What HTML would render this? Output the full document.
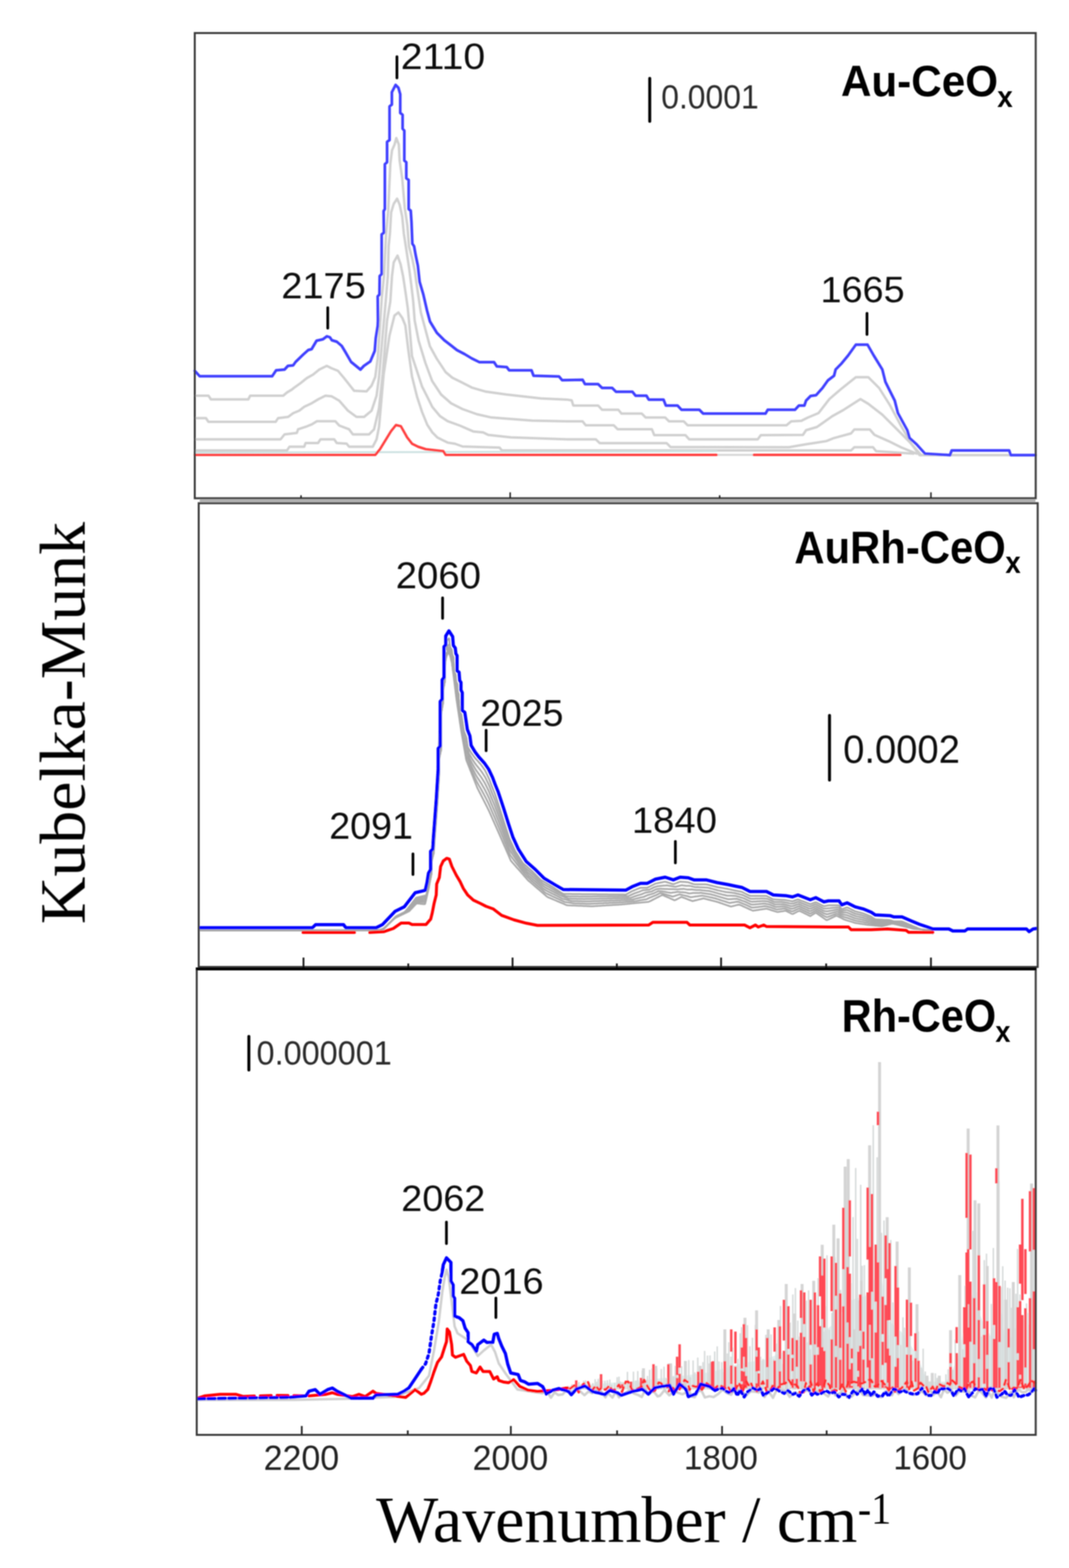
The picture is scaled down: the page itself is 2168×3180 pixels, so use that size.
<!DOCTYPE html>
<html><head><meta charset="utf-8"><title>Kubelka-Munk spectra</title>
<style>html,body{margin:0;padding:0;background:#fff}svg{display:block}</style></head>
<body><svg width="2168" height="3180" viewBox="0 0 2168 3180">
<defs><filter id="soft" x="0" y="0" width="100%" height="100%" filterUnits="userSpaceOnUse"><feGaussianBlur stdDeviation="0.8"/></filter></defs>
<rect width="2168" height="3180" fill="#fff"/>
<g filter="url(#soft)">
<polyline points="395.0,802.5 422.8,802.5 427.8,810.0 503.6,810.0 507.4,802.5 574.3,802.5 582.0,796.0 592.0,790.0 597.0,786.0 609.6,777.0 622.0,767.0 635.0,759.6 647.5,749.5 662.7,742.0 672.8,747.0 685.4,752.0 698.0,767.0 718.0,792.4 743.5,793.7 753.6,782.0 761.0,764.6 766.0,726.8 774.4,602.7 778.7,559.7 783.0,473.6 787.3,427.0 791.6,332.6 795.0,305.0 800.2,293.0 803.7,280.0 808.8,293.0 810.5,325.7 815.7,361.8 820.9,422.0 826.0,456.5 829.5,499.5 836.3,525.3 841.5,551.0 845.0,577.0 853.6,634.0 862.7,668.0 871.8,702.0 885.5,727.0 903.6,754.5 917.3,766.0 935.5,775.0 958.0,786.4 985.5,794.3 1026.4,800.0 1096.8,808.0 1150.0,810.4 1159.5,812.0 1162.6,822.4 1213.0,822.4 1221.0,831.0 1254.0,831.0 1260.5,838.8 1301.5,838.8 1309.4,846.7 1349.0,846.7 1356.8,854.6 1386.7,854.6 1394.6,862.5 1595.0,862.5 1604.5,854.6 1625.0,853.6 1638.0,847.0 1660.0,837.8 1682.0,809.4 1704.0,790.4 1735.7,765.0 1761.0,765.0 1783.0,787.0 1805.0,822.0 1827.0,863.0 1849.0,901.0 1865.0,923.0 2100.0,923.0" fill="none" stroke="#d0d0d0" stroke-width="5" stroke-linejoin="round" stroke-linecap="round"/>
<polyline points="395.0,848.0 417.7,848.0 422.8,855.6 559.0,855.6 564.0,848.0 584.4,845.5 594.5,838.0 607.0,832.8 617.0,825.0 632.4,817.7 645.0,810.0 660.0,802.5 672.8,803.8 688.0,812.6 705.6,832.8 723.0,845.5 738.4,845.5 753.6,832.8 763.7,802.5 768.7,764.6 776.0,680.0 783.0,602.7 786.5,559.7 788.2,499.5 790.8,473.6 793.3,430.6 798.5,413.4 805.4,403.0 810.5,415.0 815.7,439.0 819.0,473.6 824.3,508.0 829.5,542.5 834.0,577.0 838.0,611.0 841.0,650.0 849.0,691.0 862.7,736.0 876.4,772.7 894.5,800.0 915.0,818.0 937.7,829.5 967.0,840.0 995.0,846.4 1079.0,853.0 1150.0,854.6 1181.6,854.6 1187.9,862.5 1244.7,862.5 1252.6,870.4 1322.0,870.4 1326.8,882.4 1390.0,882.4 1397.8,891.0 1536.7,891.0 1543.0,882.4 1628.4,882.0 1634.7,872.5 1656.8,866.0 1688.0,844.0 1710.5,831.5 1745.0,809.4 1761.0,819.0 1789.4,841.0 1821.0,872.5 1846.0,897.8 1868.0,923.0" fill="none" stroke="#d0d0d0" stroke-width="5" stroke-linejoin="round" stroke-linecap="round"/>
<polyline points="395.0,891.0 569.0,891.0 577.0,881.0 602.0,878.0 604.6,870.7 619.7,865.7 632.4,860.6 642.5,854.3 680.0,854.3 688.0,863.0 708.0,870.7 715.7,881.0 748.5,881.0 758.6,870.7 768.7,827.8 776.0,760.0 785.0,650.0 791.6,611.3 795.0,559.7 798.5,532.0 806.2,518.4 812.3,535.6 817.4,559.7 822.6,594.0 827.0,625.0 830.3,660.0 835.5,722.0 845.8,753.0 856.0,784.0 866.5,804.6 876.8,825.3 892.3,843.9 907.8,854.2 933.6,863.5 959.5,874.9 980.0,877.0 990.0,882.0 1036.0,887.0 1150.0,891.0 1208.4,891.0 1216.3,898.8 1352.0,898.8 1360.0,906.7 1600.0,907.0 1634.7,901.0 1675.8,894.6 1691.5,888.3 1726.0,879.0 1732.6,871.0 1764.0,871.0 1773.6,882.0 1802.0,894.6 1827.0,907.0 1858.8,920.0" fill="none" stroke="#d0d0d0" stroke-width="5" stroke-linejoin="round" stroke-linecap="round"/>
<polyline points="395.0,913.6 582.0,913.6 587.0,906.0 617.0,906.0 619.7,898.5 645.0,898.5 650.0,891.0 677.8,891.0 683.0,898.5 703.0,899.7 708.0,906.0 756.0,906.0 763.7,891.0 768.7,865.7 778.0,760.0 790.0,680.0 800.0,640.0 808.0,633.6 816.0,645.0 822.0,660.0 828.3,711.6 835.5,763.3 845.8,804.6 856.0,835.6 866.5,861.4 876.8,877.0 887.0,887.3 907.8,897.6 923.0,900.0 938.0,905.5 1013.0,907.7 1017.7,913.4 1160.0,913.5 1726.0,913.5 1732.6,907.0 1770.5,907.0 1776.8,915.0 1852.5,920.0" fill="none" stroke="#d0d0d0" stroke-width="5" stroke-linejoin="round" stroke-linecap="round"/>
<polyline points="395.0,918.0 1160.0,916.0 1453.0,915.0" fill="none" stroke="#cfe3e3" stroke-width="4" stroke-linejoin="round" stroke-linecap="round"/>
<polyline points="1453.0,922.5 1529.0,922.5" fill="none" stroke="#d6d6d6" stroke-width="4" stroke-linejoin="round" stroke-linecap="round"/>
<polyline points="395.0,922.5 761.0,922.5 770.0,912.0 793.0,874.5 803.0,862.0 813.0,864.4 825.7,887.0 835.8,900.0 848.0,906.0 863.5,911.0 899.0,915.0 904.0,922.5 1453.0,922.5" fill="none" stroke="#ff4040" stroke-width="5" stroke-linejoin="round" stroke-linecap="round"/>
<polyline points="1529.0,922.5 1826.0,922.5" fill="none" stroke="#ff4040" stroke-width="5" stroke-linejoin="round" stroke-linecap="round"/>
<polyline points="395.0,752.0 405.0,763.0 552.0,763.0 560.0,751.0 577.0,749.5 584.0,742.0 594.5,741.0 599.5,734.0 615.0,719.0 625.0,710.0 632.0,708.0 642.0,691.0 655.0,688.0 663.0,682.0 669.0,684.0 673.0,690.0 683.0,693.0 693.0,701.5 700.5,714.0 712.0,734.0 731.0,749.5 738.0,742.0 751.0,733.0 760.0,711.6 762.0,686.0 766.0,661.0 766.5,650.0 766.0,601.0 769.5,597.5 770.0,559.7 774.0,556.0 774.0,475.4 778.5,472.0 778.0,428.0 780.5,424.0 780.5,333.0 785.0,329.0 785.0,287.7 790.0,284.0 790.0,215.8 794.7,212.0 794.7,187.0 802.3,172.2 808.0,178.0 811.7,191.0 811.7,229.0 816.5,232.8 816.5,261.0 820.0,265.0 820.0,325.6 824.0,329.0 824.0,361.6 828.8,365.0 828.8,424.0 833.0,427.2 834.6,451.3 836.3,494.3 839.8,499.5 843.2,518.4 847.5,539.0 851.0,571.5 858.5,597.0 866.0,629.6 872.0,652.0 886.0,675.0 901.0,690.0 914.0,700.0 926.7,710.0 942.0,718.0 957.0,727.0 972.0,734.4 1002.0,734.4 1007.5,743.0 1027.7,744.5 1032.7,751.0 1078.0,751.0 1082.0,762.0 1133.7,763.4 1140.0,771.0 1181.6,770.3 1186.3,779.0 1213.0,779.0 1221.0,786.8 1241.5,786.8 1249.4,794.6 1282.6,794.6 1289.0,802.5 1311.0,802.5 1315.7,810.4 1345.7,810.4 1350.4,822.4 1374.0,822.4 1382.0,831.0 1418.3,831.0 1426.0,838.8 1552.5,838.8 1557.0,831.0 1612.4,831.0 1620.3,822.4 1631.4,822.4 1634.7,812.5 1644.0,803.0 1655.0,801.5 1668.0,787.0 1679.0,771.5 1691.5,762.0 1694.7,749.4 1707.0,736.8 1720.0,721.0 1735.7,699.0 1759.4,699.0 1772.0,721.0 1789.4,749.4 1795.7,774.6 1803.6,790.4 1814.6,812.5 1821.0,837.8 1840.0,872.5 1844.6,888.3 1858.8,901.0 1876.0,920.0 1926.7,923.0 1930.0,913.5 2046.7,913.5 2049.8,923.0 2100.0,923.0" fill="none" stroke="#4040ff" stroke-width="5.5" stroke-linejoin="round" stroke-linecap="round"/>
<polyline points="405.0,1886.5 407.7,1886.5 410.5,1886.5 413.2,1886.5 415.9,1886.5 418.6,1886.5 421.4,1886.5 424.1,1886.5 426.8,1886.5 429.5,1886.5 432.3,1886.5 435.0,1886.5 437.7,1886.5 440.4,1886.5 443.2,1886.5 445.9,1886.5 448.6,1886.5 451.4,1886.5 454.1,1886.5 456.8,1886.5 459.5,1886.5 462.3,1886.5 465.0,1886.5 467.7,1886.5 470.4,1886.5 473.2,1886.5 475.9,1886.5 478.6,1886.5 481.3,1886.5 484.1,1886.5 486.8,1886.5 489.5,1886.5 492.3,1886.5 495.0,1886.5 497.7,1886.5 500.4,1886.5 503.2,1886.5 505.9,1886.5 508.6,1886.5 511.3,1886.5 514.1,1886.5 516.8,1886.5 519.5,1886.5 522.3,1886.5 525.0,1886.5 527.7,1886.5 530.4,1886.5 533.2,1886.5 535.9,1886.5 538.6,1886.5 541.3,1886.5 544.1,1886.5 546.8,1886.5 549.5,1886.5 552.2,1886.5 555.0,1886.5 557.7,1886.5 560.4,1886.5 563.2,1886.5 565.9,1886.5 568.6,1886.5 571.3,1886.5 574.1,1886.5 576.8,1886.5 579.5,1886.5 582.2,1886.5 585.0,1886.5 587.7,1886.5 590.4,1886.5 593.1,1886.5 595.9,1886.5 598.6,1886.5 601.3,1886.5 604.1,1886.5 606.8,1886.5 609.5,1886.5 612.2,1886.5 615.0,1886.5 617.7,1886.5 620.4,1886.5 623.1,1886.5 625.9,1886.5 628.6,1886.5 631.3,1886.5 634.0,1886.5 636.8,1886.5 639.5,1886.5 642.2,1886.5 645.0,1886.5 647.7,1886.5 650.4,1886.5 653.1,1886.5 655.9,1886.5 658.6,1886.5 661.3,1886.5 664.0,1886.5 666.8,1886.5 669.5,1886.5 672.2,1886.5 675.0,1886.5 677.7,1886.5 680.4,1886.5 683.1,1886.5 685.9,1886.5 688.6,1886.5 691.3,1886.5 694.0,1886.5 696.8,1886.5 699.5,1886.5 702.2,1886.5 704.9,1886.5 707.7,1886.5 710.4,1886.5 713.1,1886.5 715.9,1886.5 718.6,1886.5 721.3,1886.5 724.0,1886.5 726.8,1886.5 729.5,1886.5 732.2,1886.5 734.9,1886.5 737.7,1886.5 740.4,1886.5 743.1,1886.5 745.8,1886.5 748.6,1886.5 751.3,1886.5 754.0,1886.5 756.8,1886.5 759.5,1886.5 762.2,1886.5 764.9,1886.3 767.6,1886.1 770.4,1885.8 773.1,1885.6 775.8,1885.4 778.2,1884.5 780.1,1882.6 782.0,1880.6 783.9,1878.6 785.7,1876.6 787.6,1874.6 789.5,1872.7 791.4,1870.7 793.2,1868.7 795.1,1866.7 797.0,1864.7 798.9,1862.8 800.7,1860.8 802.6,1858.8 804.9,1857.4 807.4,1856.2 809.8,1855.0 812.3,1853.8 814.7,1852.6 817.2,1851.4 819.6,1850.2 822.0,1849.0 823.7,1846.8 825.4,1844.6 827.0,1842.5 828.7,1840.3 830.4,1838.2 832.0,1836.0 833.7,1833.9 835.4,1831.7 837.0,1829.5 838.7,1827.4 840.4,1825.2 842.0,1823.1 843.7,1820.9 846.2,1820.0 848.8,1819.4 851.5,1818.7 854.1,1818.1 856.8,1817.5 859.4,1816.9 862.1,1816.2 864.5,1815.4 865.1,1812.7 865.7,1810.0 866.3,1807.4 866.9,1804.7 867.5,1802.1 868.1,1799.4 868.5,1796.7 868.9,1794.0 869.4,1791.3 869.8,1788.6 870.2,1785.9 870.6,1783.2 871.2,1780.6 872.6,1778.2 874.0,1775.9 875.3,1773.5 875.3,1770.8 875.3,1768.1 875.3,1765.3 875.3,1762.6 875.3,1759.9 875.3,1757.2 875.3,1754.4 875.3,1751.7 875.3,1749.0 875.3,1746.3 875.3,1743.5 875.3,1740.8 875.3,1738.1 876.1,1735.7 878.0,1733.7 879.7,1731.7 879.9,1729.0 880.0,1726.2 880.2,1723.5 880.4,1720.8 880.5,1718.1 880.7,1715.4 880.8,1712.6 881.0,1709.9 881.2,1707.2 881.4,1704.5 881.6,1701.8 881.8,1699.0 882.0,1696.3 882.2,1693.6 882.4,1690.9 882.6,1688.2 882.8,1685.4 883.0,1682.7 883.2,1680.0 883.5,1677.3 883.7,1674.6 883.9,1671.8 884.1,1669.1 884.3,1666.4 884.5,1663.7 884.7,1661.0 884.9,1658.2 885.1,1655.5 885.3,1652.8 885.5,1650.1 885.7,1647.4 885.9,1644.7 886.1,1641.9 886.3,1639.2 886.5,1636.5 886.7,1633.8 886.9,1631.1 887.1,1628.3 887.3,1625.6 887.4,1622.9 887.6,1620.2 887.8,1617.4 887.9,1614.7 888.1,1612.0 888.3,1609.3 888.4,1606.6 888.6,1603.8 888.8,1601.1 888.9,1598.4 889.1,1595.7 889.3,1593.0 889.5,1590.2 889.6,1587.5 889.8,1584.8 890.0,1582.1 890.1,1579.3 890.3,1576.6 890.5,1573.9 890.6,1571.2 890.7,1568.5 890.7,1565.7 890.7,1563.0 890.7,1560.3 890.7,1557.5 890.7,1554.8 890.7,1552.1 890.7,1549.4 890.7,1546.6 890.7,1543.9 890.7,1541.2 890.7,1538.5 890.7,1535.7 890.7,1533.0 890.7,1530.3 891.0,1527.7 892.7,1525.5 894.4,1523.4 894.8,1520.8 894.8,1518.1 894.8,1515.4 894.8,1512.7 894.8,1509.9 894.8,1507.2 894.8,1504.5 894.8,1501.8 894.8,1499.0 894.8,1496.3 894.8,1493.6 894.8,1490.8 894.8,1488.1 894.8,1485.4 894.8,1482.7 894.8,1479.9 894.8,1477.2 894.8,1474.5 894.8,1471.8 894.8,1469.0 894.8,1466.3 894.8,1463.6 894.8,1460.9 894.8,1458.1 894.8,1455.4 894.8,1452.7 894.8,1449.9 894.8,1447.2 894.8,1444.5 894.8,1441.8 894.8,1439.0 894.8,1436.3 894.8,1433.6 896.0,1431.3 897.8,1429.2 898.8,1426.9 898.8,1424.1 898.8,1421.4 898.8,1418.7 898.8,1416.0 898.8,1413.2 898.8,1410.5 898.8,1407.8 898.8,1405.1 898.8,1402.3 898.8,1399.6 898.8,1396.9 898.8,1394.2 898.8,1391.4 898.9,1388.7 900.5,1386.6 902.2,1384.4 902.5,1381.8 902.5,1379.1 902.5,1376.3 902.5,1373.6 902.5,1370.9 902.5,1368.1 902.5,1365.4 902.5,1362.7 902.5,1360.0 902.5,1357.2 902.5,1354.5 902.5,1351.8 902.5,1349.1 902.5,1346.3 902.5,1343.6 902.5,1340.9 902.5,1338.2 902.5,1335.4 902.5,1332.7 902.5,1330.0 902.5,1327.2 902.5,1324.5 902.5,1321.8 902.9,1324.1 903.4,1326.8 903.9,1329.5 904.8,1328.0 905.9,1325.5 906.9,1322.9 908.0,1320.4 909.0,1317.9 910.0,1315.4 911.1,1312.9 911.9,1312.9 912.6,1315.6 913.3,1318.2 913.9,1320.8 914.6,1323.5 914.1,1324.3 911.9,1322.6 909.8,1320.9 907.6,1319.3 906.0,1317.3 906.0,1314.6 906.0,1311.9 906.0,1309.1 906.0,1306.4 906.0,1303.7 906.0,1301.0 907.0,1298.6 908.8,1296.5 910.6,1294.5 911.2,1296.1 911.4,1298.8 911.6,1301.5 911.8,1304.2 912.0,1306.9 912.2,1309.6 912.6,1312.3 914.3,1314.5 915.9,1316.7 916.5,1319.2 916.8,1321.9 917.1,1324.7 917.4,1327.4 918.3,1329.9 919.7,1332.2 920.0,1334.9 920.0,1337.6 920.0,1340.3 920.0,1343.0 920.0,1345.8 920.0,1348.5 920.0,1351.2 920.0,1353.9 920.0,1356.7 920.0,1359.4 920.0,1362.1 921.0,1364.3 923.3,1365.8 924.1,1368.1 924.4,1370.8 924.6,1373.6 924.8,1376.3 925.0,1379.0 925.2,1381.7 926.1,1384.2 927.6,1386.5 927.9,1389.1 927.9,1391.9 927.9,1394.6 927.9,1397.3 927.9,1400.0 928.1,1402.7 929.3,1405.2 930.5,1407.6 930.5,1410.3 930.5,1413.1 930.5,1415.8 930.5,1418.5 930.5,1421.2 930.5,1424.0 930.5,1426.7 930.5,1429.4 930.5,1432.1 930.5,1434.9 930.5,1437.6 930.5,1440.3 930.5,1443.0 932.1,1445.0 934.3,1446.6 935.8,1448.7 936.2,1451.4 936.6,1454.0 937.0,1456.7 937.4,1459.4 937.8,1462.1 938.3,1464.8 938.6,1467.5 939.0,1470.2 939.4,1472.9 939.8,1475.6 940.2,1478.3 940.6,1481.0 941.3,1483.6 942.3,1486.2 943.3,1488.7 944.3,1491.2 945.3,1493.8 946.1,1496.3 946.5,1499.1 946.8,1501.8 947.2,1504.5 947.5,1507.2 947.9,1509.9 948.2,1512.6 948.8,1515.2 950.2,1517.5 951.6,1519.9 953.0,1522.2 954.4,1524.5 955.8,1526.9 957.4,1529.1 959.0,1531.3 960.6,1533.5 962.3,1535.7 963.9,1537.9 965.7,1539.9 967.5,1541.9 969.4,1543.9 971.2,1546.0 973.0,1548.0 974.8,1550.0 976.5,1552.2 978.1,1554.4 979.6,1556.6 981.2,1558.9 982.7,1561.1 984.2,1563.4 985.4,1565.9 986.5,1568.3 987.7,1570.8 988.9,1573.3 990.1,1575.7 991.2,1578.2 992.3,1580.7 993.3,1583.2 994.2,1585.8 995.1,1588.4 996.1,1590.9 997.0,1593.5 998.1,1596.0 999.1,1598.5 1000.1,1601.1 1001.1,1603.6 1002.2,1606.1 1003.2,1608.6 1004.1,1611.2 1005.0,1613.8 1005.8,1616.4 1006.7,1619.0 1007.5,1621.6 1008.4,1624.1 1009.2,1626.7 1010.1,1629.3 1011.0,1631.9 1011.8,1634.5 1012.7,1637.1 1013.5,1639.7 1014.4,1642.3 1015.2,1644.9 1016.0,1647.5 1016.8,1650.1 1017.7,1652.7 1018.5,1655.3 1019.3,1657.9 1020.1,1660.5 1020.9,1663.1 1021.7,1665.7 1022.5,1668.3 1023.3,1670.9 1024.2,1673.5 1025.0,1676.1 1025.9,1678.7 1026.7,1681.3 1027.6,1683.8 1028.4,1686.4 1029.3,1689.0 1030.1,1691.6 1031.0,1694.2 1031.8,1696.8 1032.7,1699.4 1033.7,1701.9 1034.9,1704.4 1036.0,1706.9 1037.1,1709.4 1038.3,1711.8 1039.4,1714.3 1040.5,1716.8 1041.7,1719.3 1042.8,1721.8 1043.9,1724.2 1045.2,1726.6 1046.7,1728.9 1048.2,1731.2 1049.6,1733.5 1051.1,1735.8 1052.6,1738.1 1054.0,1740.4 1055.5,1742.7 1056.9,1745.0 1058.4,1747.3 1059.9,1749.6 1061.7,1751.6 1063.8,1753.4 1065.9,1755.2 1067.9,1756.9 1070.0,1758.7 1072.0,1760.5 1074.1,1762.3 1076.1,1764.1 1078.2,1765.9 1080.1,1767.8 1082.0,1769.8 1084.0,1771.7 1085.9,1773.6 1087.8,1775.6 1089.7,1777.5 1091.7,1779.4 1093.6,1781.4 1095.5,1783.3 1097.6,1785.0 1099.9,1786.4 1102.3,1787.8 1104.6,1789.2 1107.0,1790.6 1109.3,1792.0 1111.7,1793.4 1114.0,1794.8 1116.3,1796.2 1118.7,1797.6 1121.0,1799.0 1123.3,1800.5 1125.5,1802.0 1127.8,1803.5 1130.1,1805.0 1132.4,1806.5 1134.7,1808.0 1136.9,1809.5 1139.2,1811.0 1141.5,1812.5 1144.1,1813.0 1146.8,1813.0 1149.5,1813.1 1152.3,1813.1 1155.0,1813.1 1157.7,1813.1 1160.4,1813.2 1163.2,1813.2 1165.9,1813.2 1168.6,1813.2 1171.3,1813.3 1174.1,1813.3 1176.8,1813.3 1179.5,1813.4 1182.3,1813.4 1185.0,1813.4 1187.7,1813.4 1190.4,1813.5 1193.2,1813.5 1195.9,1813.5 1198.6,1813.5 1201.3,1813.6 1204.1,1813.6 1206.8,1813.6 1209.5,1813.6 1212.2,1813.7 1215.0,1813.7 1217.7,1813.7 1220.4,1813.7 1223.2,1813.8 1225.9,1813.8 1228.6,1813.8 1231.3,1813.8 1234.1,1813.9 1236.8,1813.9 1239.5,1813.9 1242.2,1813.9 1245.0,1814.0 1247.7,1814.0 1250.4,1814.0 1253.1,1814.0 1255.9,1814.1 1258.6,1814.1 1261.3,1814.1 1264.1,1814.1 1266.8,1814.2 1269.5,1814.2 1271.9,1812.9 1274.3,1811.6 1276.7,1810.2 1279.1,1808.9 1281.4,1807.6 1283.9,1806.5 1286.5,1805.5 1289.0,1804.5 1291.5,1803.4 1294.0,1802.4 1296.6,1801.4 1299.1,1800.4 1301.8,1800.4 1304.6,1800.4 1307.3,1800.4 1310.0,1800.4 1312.7,1800.4 1315.2,1799.2 1317.6,1798.0 1320.0,1796.7 1322.5,1795.5 1324.9,1794.3 1327.3,1793.0 1329.8,1791.9 1332.5,1791.4 1335.2,1790.8 1337.8,1790.3 1340.5,1789.7 1343.2,1789.2 1345.8,1788.6 1348.5,1788.1 1351.1,1788.7 1353.7,1789.5 1356.3,1790.4 1358.9,1791.2 1361.5,1792.1 1364.1,1792.9 1366.7,1793.0 1369.2,1792.0 1371.7,1791.0 1374.3,1790.0 1376.8,1789.0 1379.4,1788.0 1382.1,1788.2 1384.8,1788.4 1387.5,1788.6 1390.2,1788.8 1392.9,1789.1 1395.7,1789.3 1398.2,1790.1 1400.8,1791.1 1403.4,1792.0 1405.9,1792.9 1408.6,1793.4 1411.3,1793.4 1414.0,1793.4 1416.7,1793.4 1419.5,1793.4 1422.2,1793.4 1424.9,1793.4 1427.7,1793.4 1430.4,1793.4 1433.1,1793.7 1435.7,1794.3 1438.4,1795.0 1441.0,1795.7 1443.7,1796.3 1446.3,1797.0 1448.9,1797.6 1451.6,1798.3 1454.2,1799.0 1456.9,1799.5 1459.6,1799.9 1462.3,1800.4 1465.0,1800.9 1467.7,1801.4 1470.3,1801.9 1473.0,1802.3 1475.7,1802.8 1478.4,1803.4 1481.0,1803.9 1483.7,1804.5 1486.4,1805.1 1489.0,1805.7 1491.7,1806.2 1494.4,1806.7 1497.1,1807.3 1499.7,1807.8 1502.4,1808.3 1505.0,1809.0 1507.5,1810.2 1509.9,1811.5 1512.3,1812.7 1514.8,1813.9 1517.2,1815.1 1519.7,1816.3 1522.2,1817.0 1525.0,1817.0 1527.7,1817.0 1530.4,1817.0 1533.1,1817.0 1535.9,1817.0 1538.6,1817.0 1541.3,1817.0 1544.0,1817.0 1546.8,1817.0 1549.5,1817.0 1552.2,1817.0 1554.9,1817.2 1557.3,1818.5 1559.8,1819.7 1562.2,1820.9 1564.6,1822.2 1567.1,1823.4 1569.7,1824.1 1572.4,1824.2 1575.1,1824.4 1577.8,1824.5 1580.5,1824.7 1583.3,1824.8 1586.0,1825.0 1588.7,1825.1 1591.4,1825.3 1594.1,1825.6 1596.8,1826.1 1599.5,1826.6 1602.2,1827.1 1604.9,1827.6 1607.5,1827.9 1610.1,1827.0 1612.7,1826.0 1615.2,1825.1 1617.8,1824.2 1620.3,1824.8 1622.9,1825.8 1625.4,1826.8 1628.0,1827.7 1630.5,1828.7 1633.0,1829.7 1635.6,1830.7 1638.1,1831.7 1640.7,1832.7 1643.2,1833.7 1645.8,1832.8 1648.3,1831.8 1650.9,1830.8 1653.4,1829.9 1655.9,1830.3 1658.3,1831.5 1660.7,1832.7 1663.2,1834.0 1665.6,1835.2 1668.0,1836.5 1670.5,1837.7 1673.1,1837.5 1675.7,1837.0 1678.4,1836.4 1681.1,1836.0 1683.8,1836.0 1686.5,1836.0 1689.3,1836.0 1692.0,1836.0 1694.7,1836.0 1697.4,1836.0 1700.2,1836.0 1702.3,1837.0 1703.8,1839.3 1705.3,1841.6 1706.8,1843.8 1709.3,1843.3 1711.8,1842.3 1714.4,1841.4 1716.9,1840.4 1719.4,1840.7 1721.8,1841.9 1724.3,1843.2 1726.7,1844.4 1729.2,1845.6 1731.6,1846.8 1734.0,1848.1 1736.6,1848.8 1739.3,1849.5 1741.9,1850.1 1744.6,1850.8 1747.2,1851.5 1749.9,1852.1 1752.4,1853.1 1754.9,1854.1 1757.5,1855.1 1760.0,1856.2 1762.5,1857.2 1765.0,1858.2 1767.5,1859.4 1769.7,1860.9 1772.0,1862.5 1774.3,1864.0 1776.8,1864.6 1779.6,1864.7 1782.3,1864.8 1785.0,1865.0 1787.7,1865.1 1790.4,1865.2 1793.2,1865.4 1795.9,1865.5 1798.6,1865.6 1801.3,1865.7 1804.1,1865.9 1806.7,1866.5 1809.3,1867.4 1811.9,1868.2 1814.5,1868.6 1817.3,1868.6 1820.0,1868.6 1822.7,1868.6 1825.4,1868.6 1828.2,1868.6 1830.8,1869.2 1833.3,1870.3 1835.8,1871.4 1838.3,1872.4 1840.8,1873.5 1843.3,1874.6 1845.8,1875.6 1848.3,1876.7 1850.8,1877.8 1853.4,1878.8 1855.9,1879.9 1858.4,1880.9 1860.9,1882.0 1863.4,1883.0 1866.0,1884.0 1868.6,1884.8 1871.1,1885.7 1873.7,1886.6 1876.3,1887.5 1878.9,1888.3 1881.5,1889.2 1884.0,1890.2 1886.6,1891.1 1889.1,1892.1 1891.7,1893.0" fill="none" stroke="#a8a8a8" stroke-width="3.5" stroke-linejoin="round" stroke-linecap="round"/>
<polyline points="405.0,1886.6 407.7,1886.6 410.4,1886.6 413.1,1886.6 415.8,1886.6 418.5,1886.6 421.3,1886.6 424.0,1886.6 426.7,1886.6 429.4,1886.6 432.1,1886.6 434.8,1886.6 437.5,1886.6 440.2,1886.6 442.9,1886.6 445.6,1886.6 448.3,1886.6 451.1,1886.6 453.8,1886.6 456.5,1886.6 459.2,1886.6 461.9,1886.6 464.6,1886.6 467.3,1886.6 470.0,1886.6 472.7,1886.6 475.4,1886.6 478.1,1886.6 480.9,1886.6 483.6,1886.6 486.3,1886.6 489.0,1886.6 491.7,1886.6 494.4,1886.6 497.1,1886.6 499.8,1886.6 502.5,1886.6 505.2,1886.6 507.9,1886.6 510.7,1886.6 513.4,1886.6 516.1,1886.6 518.8,1886.6 521.5,1886.6 524.2,1886.6 526.9,1886.6 529.6,1886.6 532.3,1886.6 535.0,1886.6 537.7,1886.6 540.5,1886.6 543.2,1886.6 545.9,1886.6 548.6,1886.6 551.3,1886.6 554.0,1886.6 556.7,1886.6 559.4,1886.6 562.1,1886.6 564.8,1886.6 567.5,1886.6 570.2,1886.6 573.0,1886.6 575.7,1886.6 578.4,1886.6 581.1,1886.6 583.8,1886.6 586.5,1886.6 589.2,1886.6 591.9,1886.6 594.6,1886.6 597.3,1886.6 600.0,1886.6 602.8,1886.6 605.5,1886.6 608.2,1886.6 610.9,1886.6 613.6,1886.6 616.3,1886.6 619.0,1886.6 621.7,1886.6 624.4,1886.6 627.1,1886.6 629.8,1886.6 632.6,1886.6 635.3,1886.6 638.0,1886.6 640.7,1886.6 643.4,1886.6 646.1,1886.6 648.8,1886.6 651.5,1886.6 654.2,1886.6 656.9,1886.6 659.6,1886.6 662.4,1886.6 665.1,1886.6 667.8,1886.6 670.5,1886.6 673.2,1886.6 675.9,1886.6 678.6,1886.6 681.3,1886.6 684.0,1886.6 686.7,1886.6 689.4,1886.6 692.2,1886.6 694.9,1886.6 697.6,1886.6 700.3,1886.6 703.0,1886.6 705.7,1886.6 708.4,1886.6 711.1,1886.6 713.8,1886.6 716.5,1886.6 719.2,1886.6 722.0,1886.6 724.7,1886.6 727.4,1886.5 730.1,1886.5 732.8,1886.5 735.5,1886.5 738.2,1886.5 740.9,1886.5 743.6,1886.5 746.3,1886.5 749.0,1886.5 751.8,1886.5 754.5,1886.5 757.2,1886.5 759.9,1886.5 762.6,1886.3 765.3,1886.1 768.0,1885.9 770.7,1885.7 773.4,1885.5 775.9,1884.9 777.9,1883.3 779.9,1881.7 781.9,1880.1 783.9,1878.2 785.8,1876.3 787.6,1874.4 789.5,1872.4 791.4,1870.5 793.3,1868.5 795.2,1866.6 797.1,1864.6 799.0,1862.7 800.9,1860.8 803.1,1859.3 805.5,1858.0 807.8,1856.7 810.2,1855.4 812.6,1854.2 815.0,1853.0 817.5,1851.8 819.9,1850.6 821.7,1848.6 823.5,1846.7 825.3,1844.7 827.1,1842.8 828.9,1840.8 830.7,1838.8 832.5,1836.9 834.3,1834.9 836.0,1832.8 837.7,1830.7 839.4,1828.6 841.1,1826.5 842.8,1824.4 845.1,1823.2 847.6,1822.4 850.1,1821.5 852.7,1820.9 855.4,1820.5 858.0,1820.1 860.7,1819.6 863.1,1819.0 864.1,1816.9 865.0,1814.7 865.6,1812.0 866.2,1809.4 866.8,1806.8 867.4,1804.1 867.9,1801.4 868.3,1798.8 868.8,1796.1 869.2,1793.4 869.7,1790.8 870.2,1788.1 870.8,1785.5 872.0,1783.1 873.2,1780.7 874.3,1778.3 874.3,1775.5 874.4,1772.8 874.4,1770.1 874.4,1767.4 874.5,1764.7 874.5,1762.0 874.6,1759.3 874.6,1756.6 874.6,1753.9 874.7,1751.2 874.7,1748.5 874.8,1745.8 874.8,1743.1 875.5,1740.6 877.0,1738.5 878.4,1736.4 878.6,1733.7 878.8,1731.0 879.0,1728.3 879.1,1725.6 879.3,1722.8 879.5,1720.1 879.6,1717.4 879.8,1714.7 880.0,1712.0 880.2,1709.3 880.4,1706.6 880.6,1703.9 880.8,1701.2 881.0,1698.5 881.2,1695.8 881.4,1693.1 881.6,1690.4 881.8,1687.7 882.0,1685.0 882.2,1682.3 882.4,1679.6 882.6,1676.9 882.8,1674.2 883.0,1671.5 883.2,1668.8 883.4,1666.1 883.6,1663.4 883.8,1660.7 884.0,1658.0 884.3,1655.3 884.5,1652.6 884.7,1649.9 884.9,1647.2 885.1,1644.5 885.3,1641.8 885.5,1639.1 885.7,1636.4 885.9,1633.7 886.0,1631.0 886.2,1628.3 886.4,1625.6 886.6,1622.9 886.7,1620.2 886.9,1617.5 887.1,1614.8 887.2,1612.1 887.4,1609.4 887.6,1606.7 887.8,1604.0 887.9,1601.3 888.1,1598.5 888.3,1595.8 888.5,1593.1 888.6,1590.4 888.8,1587.7 889.0,1585.0 889.2,1582.3 889.3,1579.6 889.5,1576.9 889.6,1574.2 889.6,1571.5 889.7,1568.8 889.7,1566.1 889.7,1563.4 889.7,1560.7 889.8,1558.0 889.8,1555.3 889.8,1552.6 889.9,1549.8 889.9,1547.1 889.9,1544.4 890.0,1541.7 890.0,1539.0 890.0,1536.3 890.3,1533.7 891.7,1531.5 893.1,1529.2 893.4,1526.6 893.4,1523.9 893.5,1521.2 893.5,1518.5 893.5,1515.8 893.6,1513.1 893.6,1510.4 893.6,1507.7 893.7,1505.0 893.7,1502.3 893.7,1499.6 893.7,1496.9 893.8,1494.1 893.8,1491.4 893.8,1488.7 893.9,1486.0 893.9,1483.3 893.9,1480.6 894.0,1477.9 894.0,1475.2 894.0,1472.5 894.0,1469.8 894.1,1467.1 894.1,1464.4 894.1,1461.6 894.2,1458.9 894.2,1456.2 894.2,1453.5 894.2,1450.8 894.3,1448.1 894.3,1445.4 894.3,1442.7 894.4,1440.0 895.3,1437.6 896.8,1435.4 897.6,1433.0 897.7,1430.3 897.7,1427.6 897.7,1424.9 897.7,1422.2 897.8,1419.5 897.8,1416.8 897.8,1414.1 897.9,1411.4 897.9,1408.7 897.9,1406.0 897.9,1403.2 898.0,1400.5 898.0,1397.8 898.1,1395.1 899.5,1392.9 900.9,1390.6 901.2,1388.0 901.2,1385.3 901.3,1382.6 901.4,1379.9 901.4,1377.2 901.5,1374.5 901.5,1371.8 901.6,1369.1 901.7,1366.4 901.7,1363.7 901.8,1361.0 901.9,1358.3 901.9,1355.5 902.0,1352.8 902.0,1350.1 902.1,1347.4 902.1,1344.7 902.2,1342.0 902.2,1339.3 902.3,1336.6 902.3,1333.9 902.4,1331.2 902.4,1328.5 902.8,1329.8 903.3,1331.4 903.7,1333.0 904.5,1331.3 905.4,1328.8 906.2,1326.2 907.1,1323.7 908.1,1321.2 909.1,1318.7 910.1,1316.2 911.0,1315.7 911.7,1317.4 912.5,1319.0 913.2,1320.6 913.9,1322.6 913.6,1323.7 912.0,1322.9 910.4,1322.1 908.8,1321.2 907.6,1320.2 907.7,1318.5 907.9,1316.9 908.0,1315.2 908.1,1313.5 908.1,1311.9 908.2,1310.2 909.0,1308.9 910.5,1307.7 912.0,1306.6 912.6,1308.4 912.8,1311.1 913.0,1313.8 913.3,1316.5 913.5,1319.2 913.7,1321.9 914.1,1324.5 915.5,1326.8 916.9,1329.1 917.5,1331.6 917.8,1334.3 918.1,1337.0 918.4,1339.7 919.1,1342.3 920.3,1344.6 920.6,1347.3 920.7,1350.0 920.8,1352.7 920.8,1355.4 920.9,1358.1 921.0,1360.8 921.0,1363.5 921.1,1366.2 921.1,1368.9 921.2,1371.6 921.3,1374.3 922.1,1376.6 924.1,1378.3 924.8,1380.7 925.1,1383.4 925.3,1386.1 925.6,1388.8 925.8,1391.5 926.1,1394.2 926.9,1396.7 928.1,1399.0 928.5,1401.7 928.6,1404.4 928.6,1407.1 928.7,1409.8 928.8,1412.5 929.0,1415.2 930.1,1417.6 931.1,1420.1 931.2,1422.8 931.3,1425.5 931.3,1428.2 931.4,1430.9 931.5,1433.6 931.6,1436.3 931.7,1439.0 931.8,1441.7 931.9,1444.4 932.0,1447.1 932.0,1449.8 932.1,1452.5 932.2,1455.2 933.6,1457.3 935.4,1459.1 936.7,1461.3 937.1,1464.0 937.6,1466.6 938.0,1469.3 938.4,1472.0 938.8,1474.7 939.2,1477.3 939.6,1480.0 940.0,1482.7 940.4,1485.4 940.8,1488.0 941.2,1490.7 941.7,1493.4 942.4,1496.0 943.5,1498.5 944.5,1501.0 945.5,1503.5 946.5,1506.0 947.3,1508.6 947.8,1511.2 948.3,1513.9 948.7,1516.6 949.2,1519.2 949.7,1521.9 950.2,1524.5 950.8,1527.1 952.1,1529.5 953.4,1531.8 954.7,1534.2 956.1,1536.5 957.4,1538.9 958.8,1541.2 960.3,1543.4 961.8,1545.7 963.3,1547.9 964.9,1550.1 966.5,1552.2 968.2,1554.3 969.9,1556.4 971.6,1558.5 973.3,1560.6 975.0,1562.7 976.6,1564.9 978.1,1567.1 979.6,1569.4 981.1,1571.7 982.5,1573.9 984.0,1576.2 985.1,1578.6 986.3,1581.1 987.5,1583.5 988.7,1586.0 989.9,1588.4 991.0,1590.8 992.1,1593.3 993.1,1595.9 994.1,1598.4 995.0,1600.9 996.0,1603.4 997.0,1606.0 998.0,1608.5 999.0,1611.0 1000.1,1613.5 1001.1,1616.0 1002.1,1618.5 1003.2,1621.0 1004.1,1623.5 1005.0,1626.1 1005.9,1628.6 1006.8,1631.2 1007.7,1633.7 1008.6,1636.3 1009.5,1638.8 1010.4,1641.4 1011.3,1644.0 1012.2,1646.5 1013.1,1649.1 1014.0,1651.6 1014.9,1654.2 1015.8,1656.7 1016.6,1659.3 1017.5,1661.9 1018.4,1664.4 1019.2,1667.0 1020.1,1669.6 1020.9,1672.1 1021.8,1674.7 1022.7,1677.3 1023.5,1679.8 1024.4,1682.4 1025.3,1685.0 1026.1,1687.5 1027.0,1690.1 1027.9,1692.6 1028.8,1695.2 1029.7,1697.7 1030.6,1700.3 1031.6,1702.8 1032.7,1705.2 1033.7,1707.7 1034.7,1710.2 1035.9,1712.6 1037.1,1715.0 1038.4,1717.3 1039.7,1719.7 1040.9,1722.1 1042.2,1724.5 1043.4,1726.9 1044.7,1729.3 1045.9,1731.6 1047.2,1734.0 1048.6,1736.3 1050.1,1738.6 1051.6,1740.8 1053.1,1743.0 1054.6,1745.3 1056.2,1747.5 1057.7,1749.7 1059.3,1751.9 1060.9,1754.1 1062.4,1756.3 1064.0,1758.4 1065.9,1760.3 1068.0,1762.1 1070.0,1763.9 1072.0,1765.7 1074.1,1767.5 1076.1,1769.2 1078.2,1771.0 1080.2,1772.8 1082.3,1774.6 1084.2,1776.4 1086.2,1778.3 1088.1,1780.2 1090.0,1782.1 1092.0,1784.0 1093.9,1785.9 1096.0,1787.6 1098.0,1789.4 1100.0,1791.1 1102.2,1792.7 1104.5,1794.0 1106.9,1795.3 1109.2,1796.7 1111.6,1798.0 1114.0,1799.3 1116.3,1800.6 1118.7,1802.0 1121.0,1803.3 1123.4,1804.6 1125.7,1806.0 1128.0,1807.4 1130.3,1808.8 1132.7,1810.0 1135.0,1811.2 1137.4,1812.5 1139.7,1813.7 1142.1,1814.9 1144.4,1816.1 1146.8,1817.3 1149.4,1817.8 1152.1,1817.8 1154.8,1817.9 1157.5,1817.9 1160.2,1817.9 1162.9,1818.0 1165.6,1818.0 1168.3,1818.1 1171.1,1818.1 1173.8,1818.2 1176.5,1818.2 1179.2,1818.2 1181.9,1818.2 1184.6,1818.2 1187.3,1818.2 1190.0,1818.2 1192.7,1818.2 1195.4,1818.2 1198.1,1818.2 1200.8,1818.2 1203.6,1818.1 1206.3,1818.1 1209.0,1818.1 1211.7,1818.1 1214.4,1818.1 1217.1,1818.1 1219.8,1818.1 1222.5,1818.1 1225.2,1818.1 1227.9,1818.0 1230.6,1818.0 1233.3,1818.0 1236.0,1818.0 1238.8,1818.0 1241.5,1818.0 1244.2,1818.0 1246.9,1817.9 1249.6,1817.9 1252.3,1817.9 1255.0,1817.8 1257.7,1817.8 1260.4,1817.8 1263.1,1817.7 1265.8,1817.7 1268.5,1817.7 1271.2,1817.7 1273.9,1817.6 1276.4,1816.5 1278.8,1815.4 1281.2,1814.3 1283.7,1813.2 1286.1,1812.1 1288.6,1811.2 1291.2,1810.3 1293.7,1809.4 1296.3,1808.6 1298.8,1807.5 1301.3,1806.5 1303.8,1805.4 1306.4,1805.2 1309.1,1805.0 1311.7,1804.7 1314.4,1804.5 1317.0,1804.2 1319.4,1803.0 1321.9,1801.8 1324.3,1800.6 1326.7,1799.4 1329.1,1798.7 1331.6,1797.9 1334.0,1797.2 1336.6,1797.0 1339.3,1796.7 1341.9,1796.5 1344.5,1796.3 1347.1,1796.1 1349.7,1795.9 1352.4,1795.6 1354.9,1796.0 1357.5,1796.4 1360.0,1796.8 1362.6,1797.3 1365.1,1797.7 1367.6,1798.1 1370.2,1798.4 1372.7,1797.8 1375.2,1797.1 1377.8,1796.5 1380.3,1795.9 1382.8,1795.3 1385.5,1795.7 1388.1,1796.0 1390.8,1796.4 1393.5,1796.5 1396.2,1796.5 1398.9,1796.6 1401.4,1797.1 1404.0,1797.7 1406.6,1798.4 1409.1,1799.0 1411.8,1799.2 1414.5,1799.1 1417.1,1799.3 1419.8,1799.4 1422.5,1799.5 1425.2,1799.7 1427.9,1799.8 1430.6,1799.9 1433.3,1800.0 1436.0,1800.4 1438.6,1801.0 1441.2,1801.7 1443.8,1802.4 1446.5,1803.1 1449.1,1803.8 1451.7,1804.5 1454.3,1805.2 1456.9,1805.9 1459.6,1806.4 1462.2,1807.0 1464.9,1807.6 1467.5,1808.1 1470.1,1808.7 1472.8,1809.2 1475.5,1809.4 1478.1,1809.7 1480.8,1810.0 1483.4,1810.3 1486.1,1810.7 1488.7,1811.0 1491.3,1811.5 1493.9,1812.2 1496.6,1812.8 1499.2,1813.5 1501.8,1814.1 1504.4,1814.8 1507.0,1815.5 1509.4,1816.7 1511.9,1817.9 1514.3,1819.1 1516.7,1820.3 1519.2,1821.5 1521.6,1822.4 1524.2,1822.8 1526.9,1822.8 1529.6,1822.7 1532.3,1822.6 1535.0,1822.5 1537.7,1822.4 1540.4,1822.4 1543.1,1822.3 1545.8,1822.2 1548.5,1822.2 1551.2,1822.4 1553.9,1822.5 1556.5,1822.9 1559.0,1824.0 1561.4,1825.2 1563.9,1826.3 1566.3,1827.4 1568.8,1828.6 1571.4,1829.2 1574.1,1829.2 1576.8,1829.2 1579.5,1829.3 1582.2,1829.3 1584.9,1829.3 1587.6,1829.4 1590.2,1829.8 1592.8,1830.2 1595.5,1830.6 1598.1,1831.2 1600.7,1831.9 1603.3,1832.4 1605.9,1832.5 1608.6,1832.6 1611.1,1831.6 1613.6,1830.6 1616.1,1829.6 1618.6,1828.9 1621.2,1829.6 1623.7,1830.6 1626.2,1831.6 1628.7,1832.6 1631.2,1833.7 1633.7,1834.7 1636.2,1835.7 1638.7,1836.7 1641.2,1837.7 1643.7,1838.2 1646.2,1837.2 1648.7,1836.2 1651.1,1835.1 1653.6,1834.1 1656.0,1834.7 1658.4,1836.0 1660.8,1837.3 1663.2,1838.6 1665.6,1839.9 1667.9,1841.2 1670.3,1842.5 1672.8,1842.6 1675.4,1842.5 1678.0,1842.3 1680.6,1841.9 1683.2,1841.7 1685.9,1841.4 1688.5,1841.2 1691.2,1841.0 1693.8,1840.8 1696.5,1840.5 1699.2,1840.3 1701.4,1841.1 1703.1,1843.2 1704.7,1845.2 1706.4,1847.3 1708.8,1847.0 1711.3,1846.5 1713.8,1846.0 1716.4,1845.4 1718.9,1845.8 1721.3,1847.0 1723.8,1848.1 1726.2,1849.2 1728.7,1850.4 1731.1,1851.5 1733.6,1852.7 1736.2,1853.4 1738.8,1854.0 1741.5,1854.6 1744.1,1855.2 1746.7,1855.8 1749.4,1856.4 1751.9,1857.3 1754.5,1858.2 1757.0,1859.1 1759.5,1860.0 1762.1,1860.9 1764.6,1861.8 1767.1,1862.8 1769.4,1864.1 1771.8,1865.3 1774.1,1866.6 1776.7,1867.1 1779.4,1867.3 1782.1,1867.4 1784.8,1867.6 1787.5,1867.8 1790.2,1867.9 1792.9,1867.8 1795.6,1867.8 1798.3,1867.8 1801.0,1867.7 1803.7,1867.7 1806.3,1868.1 1808.8,1868.7 1811.4,1869.2 1814.1,1869.6 1816.8,1869.7 1819.5,1869.8 1822.1,1870.0 1824.8,1870.1 1827.5,1870.2 1830.1,1870.9 1832.6,1871.9 1835.2,1872.8 1837.7,1873.8 1840.2,1874.8 1842.7,1875.8 1845.2,1876.8 1847.8,1877.8 1850.3,1878.7 1852.8,1879.7 1855.3,1880.7 1857.9,1881.6 1860.4,1882.4 1862.9,1883.3 1865.5,1884.1 1868.1,1884.8 1870.7,1885.5 1873.3,1886.3 1875.9,1887.0 1878.5,1887.7 1881.1,1888.5 1883.6,1889.2 1886.2,1890.0 1888.8,1890.8 1891.4,1891.6" fill="none" stroke="#a8a8a8" stroke-width="3.5" stroke-linejoin="round" stroke-linecap="round"/>
<polyline points="405.0,1886.7 407.7,1886.7 410.4,1886.7 413.1,1886.7 415.8,1886.7 418.5,1886.7 421.1,1886.7 423.8,1886.7 426.5,1886.7 429.2,1886.7 431.9,1886.7 434.6,1886.7 437.3,1886.7 440.0,1886.7 442.7,1886.7 445.4,1886.7 448.1,1886.7 450.8,1886.7 453.4,1886.7 456.1,1886.7 458.8,1886.7 461.5,1886.7 464.2,1886.7 466.9,1886.7 469.6,1886.7 472.3,1886.7 475.0,1886.7 477.7,1886.7 480.4,1886.7 483.0,1886.7 485.7,1886.7 488.4,1886.7 491.1,1886.7 493.8,1886.7 496.5,1886.7 499.2,1886.7 501.9,1886.7 504.6,1886.7 507.3,1886.7 510.0,1886.7 512.6,1886.7 515.3,1886.7 518.0,1886.7 520.7,1886.7 523.4,1886.7 526.1,1886.7 528.8,1886.7 531.5,1886.7 534.2,1886.7 536.9,1886.7 539.6,1886.7 542.3,1886.7 544.9,1886.7 547.6,1886.7 550.3,1886.7 553.0,1886.7 555.7,1886.7 558.4,1886.7 561.1,1886.7 563.8,1886.7 566.5,1886.7 569.2,1886.7 571.9,1886.7 574.5,1886.7 577.2,1886.7 579.9,1886.7 582.6,1886.7 585.3,1886.7 588.0,1886.7 590.7,1886.7 593.4,1886.7 596.1,1886.7 598.8,1886.7 601.5,1886.7 604.2,1886.7 606.8,1886.7 609.5,1886.7 612.2,1886.7 614.9,1886.7 617.6,1886.7 620.3,1886.7 623.0,1886.7 625.7,1886.7 628.4,1886.7 631.1,1886.7 633.8,1886.7 636.4,1886.7 639.1,1886.7 641.8,1886.7 644.5,1886.7 647.2,1886.7 649.9,1886.7 652.6,1886.7 655.3,1886.7 658.0,1886.7 660.7,1886.7 663.4,1886.7 666.1,1886.7 668.7,1886.7 671.4,1886.7 674.1,1886.7 676.8,1886.7 679.5,1886.7 682.2,1886.7 684.9,1886.7 687.6,1886.7 690.3,1886.7 693.0,1886.7 695.7,1886.7 698.3,1886.7 701.0,1886.7 703.7,1886.7 706.4,1886.7 709.1,1886.7 711.8,1886.7 714.5,1886.7 717.2,1886.6 719.9,1886.6 722.6,1886.6 725.3,1886.6 727.9,1886.6 730.6,1886.6 733.3,1886.6 736.0,1886.5 738.7,1886.5 741.4,1886.5 744.1,1886.5 746.8,1886.5 749.5,1886.5 752.2,1886.5 754.9,1886.4 757.6,1886.4 760.2,1886.3 762.9,1886.2 765.6,1886.0 768.3,1885.8 771.0,1885.7 773.5,1885.2 775.7,1884.0 777.9,1882.8 780.0,1881.6 782.0,1879.8 783.9,1877.9 785.8,1876.0 787.7,1874.1 789.6,1872.2 791.5,1870.3 793.4,1868.4 795.3,1866.5 797.2,1864.6 799.1,1862.7 801.3,1861.2 803.5,1859.7 805.8,1858.3 808.1,1856.9 810.5,1855.8 812.9,1854.6 815.3,1853.4 817.7,1852.2 819.7,1850.4 821.6,1848.7 823.6,1846.9 825.5,1845.2 827.5,1843.4 829.4,1841.7 831.4,1839.9 833.3,1838.1 835.0,1836.1 836.7,1834.0 838.5,1831.9 840.2,1829.9 841.9,1827.8 844.1,1826.5 846.4,1825.3 848.7,1824.2 851.3,1823.8 854.0,1823.5 856.6,1823.3 859.2,1823.0 861.7,1822.6 863.1,1821.1 864.3,1819.3 864.9,1816.7 865.5,1814.1 866.1,1811.4 866.7,1808.8 867.2,1806.2 867.7,1803.5 868.2,1800.9 868.7,1798.2 869.2,1795.6 869.7,1793.0 870.3,1790.3 871.3,1787.9 872.4,1785.5 873.3,1783.0 873.3,1780.3 873.4,1777.6 873.5,1774.9 873.6,1772.2 873.7,1769.5 873.7,1766.9 873.8,1764.2 873.9,1761.5 874.0,1758.8 874.1,1756.1 874.1,1753.4 874.2,1750.7 874.3,1748.0 874.9,1745.5 876.1,1743.3 877.2,1741.0 877.4,1738.4 877.5,1735.7 877.7,1733.0 877.9,1730.3 878.1,1727.6 878.2,1724.9 878.4,1722.3 878.6,1719.6 878.8,1716.9 879.0,1714.2 879.2,1711.5 879.4,1708.8 879.6,1706.1 879.8,1703.5 880.0,1700.8 880.2,1698.1 880.4,1695.4 880.6,1692.7 880.8,1690.0 881.0,1687.4 881.2,1684.7 881.4,1682.0 881.6,1679.3 881.8,1676.6 882.0,1673.9 882.2,1671.3 882.4,1668.6 882.6,1665.9 882.8,1663.2 883.0,1660.5 883.2,1657.8 883.4,1655.2 883.6,1652.5 883.8,1649.8 884.0,1647.1 884.2,1644.4 884.4,1641.7 884.6,1639.1 884.8,1636.4 885.0,1633.7 885.1,1631.0 885.3,1628.3 885.5,1625.6 885.7,1622.9 885.9,1620.3 886.0,1617.6 886.2,1614.9 886.4,1612.2 886.6,1609.5 886.8,1606.8 886.9,1604.1 887.1,1601.5 887.3,1598.8 887.5,1596.1 887.7,1593.4 887.8,1590.7 888.0,1588.0 888.2,1585.3 888.4,1582.7 888.5,1580.0 888.5,1577.3 888.6,1574.6 888.7,1571.9 888.7,1569.2 888.8,1566.5 888.8,1563.8 888.9,1561.1 889.0,1558.5 889.0,1555.8 889.1,1553.1 889.1,1550.4 889.2,1547.7 889.3,1545.0 889.3,1542.3 889.6,1539.7 890.7,1537.4 891.8,1535.1 892.0,1532.4 892.1,1529.8 892.2,1527.1 892.2,1524.4 892.3,1521.7 892.3,1519.0 892.4,1516.3 892.5,1513.6 892.5,1510.9 892.6,1508.2 892.6,1505.5 892.7,1502.9 892.8,1500.2 892.8,1497.5 892.9,1494.8 892.9,1492.1 893.0,1489.4 893.1,1486.7 893.1,1484.0 893.2,1481.3 893.2,1478.7 893.3,1476.0 893.3,1473.3 893.4,1470.6 893.4,1467.9 893.5,1465.2 893.6,1462.5 893.6,1459.8 893.7,1457.1 893.7,1454.4 893.8,1451.8 893.8,1449.1 893.9,1446.4 894.7,1443.9 895.8,1441.7 896.5,1439.2 896.5,1436.5 896.6,1433.8 896.6,1431.1 896.7,1428.4 896.8,1425.7 896.8,1423.1 896.9,1420.4 896.9,1417.7 897.0,1415.0 897.0,1412.3 897.1,1409.6 897.1,1406.9 897.2,1404.2 897.3,1401.5 898.4,1399.2 899.5,1396.9 899.8,1394.2 900.0,1391.6 900.1,1388.9 900.2,1386.2 900.3,1383.5 900.5,1380.8 900.6,1378.1 900.7,1375.4 900.8,1372.8 901.0,1370.1 901.1,1367.4 901.2,1364.7 901.3,1362.0 901.5,1359.3 901.6,1356.7 901.7,1354.0 901.8,1351.3 901.9,1348.6 902.0,1345.9 902.1,1343.2 902.2,1340.5 902.2,1337.9 902.3,1335.2 902.7,1335.5 903.1,1336.1 903.5,1336.6 904.1,1334.7 904.9,1332.1 905.6,1329.6 906.3,1327.0 907.1,1324.5 908.1,1322.0 909.2,1319.5 910.1,1318.5 910.9,1319.1 911.7,1319.8 912.5,1320.4 913.2,1321.6 913.2,1323.1 912.1,1323.2 911.0,1323.2 910.0,1323.2 909.2,1323.1 909.5,1322.5 909.7,1321.9 909.9,1321.3 910.1,1320.7 910.2,1320.1 910.4,1319.5 911.1,1319.1 912.3,1318.9 913.5,1318.7 914.0,1320.7 914.2,1323.4 914.5,1326.1 914.8,1328.8 915.0,1331.4 915.3,1334.1 915.6,1336.8 916.8,1339.1 917.9,1341.5 918.4,1344.1 918.7,1346.7 919.0,1349.4 919.3,1352.1 920.0,1354.6 920.9,1357.1 921.2,1359.7 921.4,1362.4 921.5,1365.1 921.6,1367.8 921.8,1370.4 921.9,1373.1 922.0,1375.8 922.2,1378.5 922.3,1381.2 922.4,1383.9 922.6,1386.5 923.3,1388.9 924.9,1390.8 925.5,1393.3 925.8,1395.9 926.1,1398.6 926.4,1401.3 926.7,1404.0 927.0,1406.6 927.7,1409.2 928.7,1411.6 929.1,1414.2 929.2,1416.9 929.4,1419.6 929.5,1422.3 929.7,1424.9 929.9,1427.6 930.8,1430.1 931.7,1432.6 931.9,1435.3 932.0,1438.0 932.2,1440.6 932.3,1443.3 932.5,1446.0 932.7,1448.7 932.9,1451.4 933.1,1454.0 933.2,1456.7 933.4,1459.4 933.6,1462.1 933.8,1464.7 933.9,1467.4 935.1,1469.6 936.6,1471.6 937.6,1473.9 938.1,1476.6 938.5,1479.2 938.9,1481.9 939.4,1484.5 939.8,1487.2 940.2,1489.8 940.6,1492.5 941.0,1495.2 941.5,1497.8 941.9,1500.5 942.3,1503.1 942.8,1505.7 943.6,1508.3 944.6,1510.8 945.6,1513.3 946.6,1515.8 947.6,1518.3 948.5,1520.8 949.1,1523.4 949.7,1526.0 950.3,1528.6 950.9,1531.2 951.5,1533.8 952.1,1536.5 952.8,1539.0 954.0,1541.4 955.3,1543.8 956.5,1546.2 957.7,1548.5 959.0,1550.9 960.3,1553.2 961.7,1555.5 963.0,1557.8 964.4,1560.1 965.8,1562.4 967.4,1564.5 969.0,1566.7 970.5,1568.9 972.1,1571.0 973.7,1573.2 975.3,1575.3 976.7,1577.6 978.2,1579.8 979.6,1582.1 981.0,1584.4 982.4,1586.7 983.7,1589.0 984.9,1591.4 986.1,1593.8 987.3,1596.3 988.5,1598.7 989.7,1601.1 990.8,1603.5 992.0,1606.0 992.9,1608.5 993.9,1611.0 994.9,1613.5 995.9,1616.0 996.9,1618.5 998.0,1620.9 999.0,1623.4 1000.0,1625.9 1001.1,1628.4 1002.1,1630.9 1003.2,1633.3 1004.1,1635.9 1005.1,1638.4 1006.0,1640.9 1007.0,1643.4 1007.9,1645.9 1008.9,1648.4 1009.8,1651.0 1010.7,1653.5 1011.7,1656.0 1012.6,1658.5 1013.6,1661.0 1014.5,1663.6 1015.4,1666.1 1016.4,1668.6 1017.3,1671.1 1018.2,1673.7 1019.1,1676.2 1020.0,1678.7 1020.9,1681.2 1021.8,1683.8 1022.7,1686.3 1023.6,1688.8 1024.5,1691.4 1025.4,1693.9 1026.3,1696.4 1027.3,1698.9 1028.2,1701.5 1029.1,1704.0 1030.1,1706.5 1031.0,1709.0 1031.9,1711.5 1033.1,1713.9 1034.3,1716.3 1035.5,1718.6 1036.7,1721.0 1038.1,1723.3 1039.4,1725.5 1040.8,1727.8 1042.2,1730.1 1043.6,1732.4 1044.9,1734.7 1046.3,1737.0 1047.7,1739.2 1049.0,1741.5 1050.4,1743.8 1051.9,1746.0 1053.5,1748.2 1055.0,1750.4 1056.6,1752.6 1058.2,1754.7 1059.8,1756.9 1061.4,1759.0 1063.1,1761.0 1064.8,1763.1 1066.5,1765.2 1068.2,1767.2 1070.1,1769.1 1072.1,1770.9 1074.2,1772.6 1076.2,1774.4 1078.2,1776.2 1080.2,1777.9 1082.3,1779.7 1084.3,1781.5 1086.3,1783.2 1088.3,1785.1 1090.3,1786.9 1092.2,1788.8 1094.2,1790.6 1096.1,1792.5 1098.1,1794.2 1100.2,1795.8 1102.4,1797.4 1104.5,1798.9 1106.7,1800.4 1109.1,1801.6 1111.5,1802.9 1113.9,1804.1 1116.2,1805.4 1118.6,1806.6 1121.0,1807.9 1123.4,1809.1 1125.7,1810.4 1128.1,1811.6 1130.5,1812.9 1132.8,1814.2 1135.1,1815.5 1137.6,1816.5 1140.0,1817.5 1142.4,1818.4 1144.8,1819.4 1147.2,1820.3 1149.7,1821.2 1152.1,1822.2 1154.7,1822.5 1157.4,1822.6 1160.1,1822.7 1162.8,1822.7 1165.5,1822.8 1168.1,1822.8 1170.8,1822.9 1173.5,1822.9 1176.2,1823.0 1178.9,1823.1 1181.6,1823.1 1184.3,1823.2 1187.0,1823.1 1189.7,1823.1 1192.4,1823.0 1195.0,1823.0 1197.7,1823.0 1200.4,1822.9 1203.1,1822.9 1205.8,1822.8 1208.5,1822.8 1211.2,1822.7 1213.9,1822.7 1216.6,1822.6 1219.2,1822.6 1221.9,1822.5 1224.6,1822.5 1227.3,1822.4 1230.0,1822.4 1232.7,1822.3 1235.4,1822.3 1238.1,1822.2 1240.8,1822.2 1243.4,1822.1 1246.1,1822.1 1248.8,1822.0 1251.5,1821.9 1254.2,1821.8 1256.9,1821.7 1259.6,1821.7 1262.3,1821.6 1264.9,1821.5 1267.6,1821.4 1270.3,1821.3 1273.0,1821.2 1275.7,1821.1 1278.4,1821.0 1280.9,1820.2 1283.3,1819.3 1285.8,1818.4 1288.3,1817.5 1290.8,1816.6 1293.3,1815.8 1295.9,1815.1 1298.5,1814.4 1301.0,1813.7 1303.5,1812.6 1306.0,1811.5 1308.4,1810.5 1311.0,1810.0 1313.6,1809.5 1316.2,1809.0 1318.7,1808.6 1321.3,1808.1 1323.7,1806.9 1326.1,1805.7 1328.5,1804.5 1330.9,1803.4 1333.3,1803.0 1335.8,1802.7 1338.2,1802.5 1340.8,1802.6 1343.4,1802.7 1345.9,1802.8 1348.5,1802.9 1351.1,1803.0 1353.6,1803.1 1356.2,1803.2 1358.7,1803.2 1361.2,1803.3 1363.7,1803.3 1366.2,1803.3 1368.7,1803.4 1371.2,1803.4 1373.7,1803.7 1376.2,1803.5 1378.7,1803.3 1381.2,1803.1 1383.8,1802.9 1386.3,1802.6 1388.9,1803.1 1391.5,1803.6 1394.1,1804.1 1396.8,1804.1 1399.4,1804.0 1402.1,1803.8 1404.7,1804.1 1407.2,1804.4 1409.8,1804.7 1412.3,1805.0 1414.9,1805.1 1417.6,1804.9 1420.3,1805.1 1422.9,1805.4 1425.6,1805.7 1428.2,1805.9 1430.9,1806.2 1433.6,1806.4 1436.2,1806.7 1438.9,1807.1 1441.5,1807.8 1444.1,1808.4 1446.7,1809.1 1449.3,1809.8 1451.8,1810.6 1454.4,1811.3 1457.0,1812.1 1459.6,1812.8 1462.2,1813.4 1464.8,1814.1 1467.4,1814.7 1470.0,1815.3 1472.6,1816.0 1475.3,1816.5 1477.9,1816.5 1480.5,1816.6 1483.1,1816.6 1485.8,1816.7 1488.4,1816.8 1491.0,1816.9 1493.6,1817.4 1496.2,1818.2 1498.7,1818.9 1501.3,1819.7 1503.9,1820.4 1506.4,1821.2 1509.0,1822.1 1511.4,1823.2 1513.8,1824.4 1516.2,1825.6 1518.7,1826.7 1521.1,1827.9 1523.6,1828.4 1526.2,1828.7 1528.9,1828.5 1531.5,1828.4 1534.2,1828.2 1536.9,1828.0 1539.6,1827.9 1542.2,1827.7 1544.9,1827.6 1547.6,1827.4 1550.3,1827.5 1552.9,1827.8 1555.6,1828.1 1558.2,1828.5 1560.6,1829.6 1563.1,1830.6 1565.6,1831.7 1568.0,1832.7 1570.5,1833.8 1573.1,1834.2 1575.8,1834.1 1578.4,1834.1 1581.1,1834.0 1583.8,1833.9 1586.5,1833.8 1589.1,1833.9 1591.7,1834.5 1594.3,1835.0 1596.8,1835.7 1599.4,1836.4 1601.9,1837.2 1604.5,1837.7 1607.0,1837.5 1609.6,1837.2 1612.1,1836.2 1614.5,1835.2 1617.0,1834.1 1619.5,1833.5 1622.0,1834.4 1624.4,1835.4 1626.9,1836.5 1629.4,1837.5 1631.9,1838.6 1634.3,1839.6 1636.8,1840.7 1639.3,1841.8 1641.7,1842.8 1644.2,1842.8 1646.6,1841.7 1649.0,1840.6 1651.4,1839.4 1653.9,1838.4 1656.2,1839.2 1658.5,1840.5 1660.9,1841.9 1663.2,1843.2 1665.5,1844.6 1667.8,1845.9 1670.2,1847.3 1672.6,1847.8 1675.1,1848.0 1677.5,1848.2 1680.1,1847.8 1682.6,1847.3 1685.2,1846.9 1687.8,1846.4 1690.4,1846.0 1693.0,1845.5 1695.6,1845.0 1698.2,1844.6 1700.4,1845.2 1702.3,1847.0 1704.1,1848.9 1705.9,1850.7 1708.3,1850.8 1710.8,1850.7 1713.3,1850.6 1715.8,1850.4 1718.3,1850.9 1720.8,1852.0 1723.3,1853.0 1725.7,1854.1 1728.2,1855.1 1730.7,1856.2 1733.1,1857.2 1735.7,1858.0 1738.3,1858.6 1741.0,1859.1 1743.6,1859.7 1746.2,1860.2 1748.9,1860.8 1751.4,1861.5 1754.0,1862.3 1756.6,1863.1 1759.1,1863.8 1761.7,1864.6 1764.2,1865.4 1766.7,1866.2 1769.1,1867.2 1771.6,1868.2 1774.0,1869.2 1776.5,1869.7 1779.2,1869.9 1781.9,1870.1 1784.6,1870.2 1787.3,1870.4 1790.0,1870.5 1792.6,1870.3 1795.3,1870.1 1797.9,1869.9 1800.6,1869.8 1803.2,1869.6 1805.8,1869.7 1808.4,1869.9 1811.0,1870.2 1813.6,1870.6 1816.3,1870.8 1818.9,1871.1 1821.6,1871.3 1824.2,1871.6 1826.9,1871.9 1829.5,1872.5 1832.0,1873.4 1834.5,1874.3 1837.1,1875.2 1839.6,1876.1 1842.1,1877.0 1844.7,1877.9 1847.2,1878.8 1849.7,1879.7 1852.2,1880.6 1854.8,1881.5 1857.3,1882.2 1859.9,1882.9 1862.5,1883.6 1865.0,1884.2 1867.7,1884.8 1870.3,1885.4 1872.9,1885.9 1875.5,1886.5 1878.1,1887.1 1880.7,1887.7 1883.3,1888.3 1885.8,1888.9 1888.4,1889.6 1891.0,1890.2" fill="none" stroke="#a8a8a8" stroke-width="3.5" stroke-linejoin="round" stroke-linecap="round"/>
<polyline points="405.0,1886.8 407.7,1886.8 410.3,1886.8 413.0,1886.8 415.7,1886.8 418.4,1886.8 421.0,1886.8 423.7,1886.8 426.4,1886.8 429.1,1886.8 431.7,1886.8 434.4,1886.8 437.1,1886.8 439.8,1886.8 442.4,1886.8 445.1,1886.8 447.8,1886.8 450.4,1886.8 453.1,1886.8 455.8,1886.8 458.5,1886.8 461.1,1886.8 463.8,1886.8 466.5,1886.8 469.2,1886.8 471.8,1886.8 474.5,1886.8 477.2,1886.8 479.9,1886.8 482.5,1886.8 485.2,1886.8 487.9,1886.8 490.6,1886.8 493.2,1886.8 495.9,1886.8 498.6,1886.8 501.2,1886.8 503.9,1886.8 506.6,1886.8 509.3,1886.8 511.9,1886.8 514.6,1886.8 517.3,1886.8 520.0,1886.8 522.6,1886.8 525.3,1886.8 528.0,1886.8 530.7,1886.8 533.3,1886.8 536.0,1886.8 538.7,1886.8 541.3,1886.8 544.0,1886.8 546.7,1886.8 549.4,1886.8 552.0,1886.8 554.7,1886.8 557.4,1886.8 560.1,1886.8 562.7,1886.8 565.4,1886.8 568.1,1886.8 570.8,1886.8 573.4,1886.8 576.1,1886.8 578.8,1886.8 581.4,1886.8 584.1,1886.8 586.8,1886.8 589.5,1886.8 592.1,1886.8 594.8,1886.8 597.5,1886.8 600.2,1886.8 602.8,1886.8 605.5,1886.8 608.2,1886.8 610.9,1886.8 613.5,1886.8 616.2,1886.8 618.9,1886.8 621.6,1886.8 624.2,1886.8 626.9,1886.8 629.6,1886.8 632.2,1886.8 634.9,1886.8 637.6,1886.8 640.3,1886.8 642.9,1886.8 645.6,1886.8 648.3,1886.8 651.0,1886.8 653.6,1886.8 656.3,1886.8 659.0,1886.8 661.7,1886.8 664.3,1886.8 667.0,1886.8 669.7,1886.8 672.3,1886.8 675.0,1886.8 677.7,1886.8 680.4,1886.8 683.0,1886.8 685.7,1886.8 688.4,1886.8 691.1,1886.8 693.7,1886.8 696.4,1886.8 699.1,1886.8 701.8,1886.8 704.4,1886.8 707.1,1886.8 709.8,1886.8 712.4,1886.7 715.1,1886.7 717.8,1886.7 720.5,1886.7 723.1,1886.6 725.8,1886.6 728.5,1886.6 731.2,1886.6 733.8,1886.6 736.5,1886.5 739.2,1886.5 741.9,1886.5 744.5,1886.5 747.2,1886.5 749.9,1886.4 752.5,1886.4 755.2,1886.4 757.9,1886.3 760.6,1886.2 763.2,1886.1 765.9,1886.0 768.6,1885.8 771.1,1885.5 773.5,1884.7 775.8,1883.9 778.1,1883.0 780.1,1881.5 782.1,1879.6 784.0,1877.7 785.9,1875.9 787.8,1874.0 789.7,1872.1 791.6,1870.3 793.5,1868.4 795.5,1866.5 797.4,1864.7 799.5,1863.1 801.6,1861.5 803.7,1859.9 806.0,1858.5 808.4,1857.3 810.8,1856.2 813.2,1855.0 815.6,1853.8 817.7,1852.3 819.8,1850.7 821.9,1849.2 823.9,1847.6 826.0,1846.1 828.1,1844.5 830.2,1842.9 832.3,1841.3 834.0,1839.3 835.8,1837.3 837.5,1835.3 839.3,1833.3 841.0,1831.3 843.1,1829.7 845.2,1828.3 847.4,1826.9 849.9,1826.6 852.5,1826.5 855.2,1826.5 857.8,1826.4 860.3,1826.2 862.2,1825.4 863.6,1823.9 864.2,1821.3 864.8,1818.7 865.4,1816.1 866.0,1813.5 866.5,1810.9 867.1,1808.3 867.6,1805.7 868.1,1803.0 868.7,1800.4 869.2,1797.8 869.8,1795.2 870.7,1792.7 871.6,1790.2 872.2,1787.7 872.4,1785.0 872.5,1782.4 872.6,1779.7 872.7,1777.0 872.8,1774.4 873.0,1771.7 873.1,1769.0 873.2,1766.4 873.3,1763.7 873.4,1761.0 873.5,1758.4 873.7,1755.7 873.8,1753.0 874.2,1750.5 875.1,1748.1 875.9,1745.7 876.1,1743.1 876.3,1740.4 876.5,1737.7 876.6,1735.1 876.8,1732.4 877.0,1729.7 877.2,1727.1 877.4,1724.4 877.6,1721.7 877.8,1719.1 878.0,1716.4 878.2,1713.7 878.4,1711.1 878.6,1708.4 878.8,1705.7 879.0,1703.1 879.2,1700.4 879.4,1697.7 879.6,1695.1 879.8,1692.4 880.0,1689.7 880.2,1687.1 880.4,1684.4 880.6,1681.7 880.8,1679.1 881.0,1676.4 881.2,1673.7 881.4,1671.1 881.6,1668.4 881.8,1665.7 882.0,1663.1 882.2,1660.4 882.4,1657.7 882.6,1655.1 882.8,1652.4 883.0,1649.7 883.2,1647.1 883.4,1644.4 883.5,1641.7 883.7,1639.1 883.9,1636.4 884.1,1633.7 884.3,1631.1 884.5,1628.4 884.7,1625.7 884.8,1623.1 885.0,1620.4 885.2,1617.7 885.4,1615.1 885.6,1612.4 885.8,1609.7 886.0,1607.1 886.1,1604.4 886.3,1601.7 886.5,1599.1 886.7,1596.4 886.9,1593.7 887.1,1591.1 887.3,1588.4 887.4,1585.7 887.5,1583.1 887.6,1580.4 887.6,1577.7 887.7,1575.1 887.8,1572.4 887.9,1569.7 888.0,1567.0 888.1,1564.4 888.2,1561.7 888.3,1559.0 888.4,1556.4 888.5,1553.7 888.6,1551.0 888.6,1548.3 888.8,1545.7 889.6,1543.3 890.4,1540.9 890.6,1538.2 890.7,1535.6 890.8,1532.9 890.9,1530.2 891.0,1527.6 891.1,1524.9 891.2,1522.2 891.3,1519.5 891.4,1516.9 891.5,1514.2 891.6,1511.5 891.6,1508.9 891.7,1506.2 891.8,1503.5 891.9,1500.9 892.0,1498.2 892.1,1495.5 892.2,1492.8 892.3,1490.2 892.3,1487.5 892.4,1484.8 892.5,1482.2 892.6,1479.5 892.7,1476.8 892.8,1474.1 892.9,1471.5 892.9,1468.8 893.0,1466.1 893.1,1463.5 893.2,1460.8 893.3,1458.1 893.4,1455.4 893.5,1452.8 894.0,1450.3 894.8,1447.9 895.3,1445.3 895.4,1442.7 895.5,1440.0 895.6,1437.3 895.6,1434.7 895.7,1432.0 895.8,1429.3 895.9,1426.6 896.0,1424.0 896.1,1421.3 896.2,1418.6 896.2,1416.0 896.3,1413.3 896.4,1410.6 896.5,1408.0 897.3,1405.5 898.2,1403.1 898.5,1400.5 898.7,1397.8 898.9,1395.1 899.1,1392.5 899.3,1389.8 899.4,1387.2 899.6,1384.5 899.8,1381.8 900.0,1379.2 900.2,1376.5 900.4,1373.8 900.6,1371.2 900.8,1368.5 900.9,1365.9 901.1,1363.2 901.2,1360.5 901.4,1357.9 901.5,1355.2 901.7,1352.5 901.8,1349.9 902.0,1347.2 902.1,1344.5 902.3,1341.9 902.6,1341.2 902.9,1340.7 903.3,1340.2 903.8,1338.0 904.4,1335.4 904.9,1332.9 905.5,1330.3 906.2,1327.7 907.2,1325.3 908.2,1322.8 909.2,1321.3 910.0,1320.9 910.9,1320.5 911.8,1320.1 912.6,1320.7 912.7,1322.6 912.2,1323.4 911.7,1324.3 911.2,1325.2 910.9,1326.0 911.2,1326.4 911.6,1326.9 911.9,1327.3 912.2,1327.8 912.3,1328.3 912.5,1328.7 913.1,1329.4 914.0,1330.1 915.0,1330.9 915.4,1333.1 915.7,1335.7 916.0,1338.4 916.2,1341.0 916.5,1343.7 916.8,1346.4 917.2,1349.0 918.0,1351.4 918.9,1353.9 919.3,1356.5 919.6,1359.1 919.9,1361.8 920.3,1364.4 920.8,1367.0 921.6,1369.5 921.9,1372.1 922.1,1374.8 922.3,1377.5 922.5,1380.1 922.7,1382.8 922.9,1385.4 923.1,1388.1 923.2,1390.8 923.4,1393.4 923.7,1396.1 923.9,1398.7 924.5,1401.2 925.7,1403.4 926.2,1405.8 926.6,1408.5 926.9,1411.2 927.2,1413.8 927.5,1416.5 927.8,1419.1 928.4,1421.7 929.3,1424.2 929.6,1426.8 929.9,1429.4 930.1,1432.1 930.3,1434.7 930.6,1437.4 930.9,1440.0 931.6,1442.6 932.3,1445.1 932.5,1447.8 932.8,1450.4 933.0,1453.1 933.3,1455.7 933.5,1458.4 933.8,1461.0 934.1,1463.7 934.3,1466.3 934.6,1469.0 934.9,1471.6 935.1,1474.3 935.4,1476.9 935.7,1479.6 936.6,1481.9 937.7,1484.1 938.6,1486.5 939.0,1489.2 939.5,1491.8 939.9,1494.4 940.3,1497.1 940.8,1499.7 941.2,1502.3 941.6,1505.0 942.0,1507.6 942.5,1510.3 942.9,1512.9 943.3,1515.5 944.0,1518.1 944.8,1520.6 945.8,1523.1 946.8,1525.6 947.8,1528.1 948.8,1530.6 949.7,1533.1 950.4,1535.6 951.1,1538.2 951.9,1540.7 952.6,1543.3 953.3,1545.8 954.0,1548.4 954.8,1550.9 956.0,1553.3 957.1,1555.7 958.3,1558.1 959.4,1560.5 960.6,1562.9 961.8,1565.3 963.0,1567.6 964.2,1570.0 965.5,1572.3 966.8,1574.6 968.2,1576.9 969.7,1579.1 971.1,1581.3 972.6,1583.5 974.0,1585.8 975.5,1588.0 976.9,1590.2 978.2,1592.6 979.5,1594.9 980.9,1597.2 982.2,1599.5 983.5,1601.8 984.7,1604.2 985.9,1606.6 987.1,1609.0 988.3,1611.4 989.5,1613.8 990.6,1616.2 991.8,1618.6 992.8,1621.1 993.8,1623.5 994.8,1626.0 995.8,1628.5 996.9,1631.0 997.9,1633.4 999.0,1635.9 1000.0,1638.3 1001.1,1640.8 1002.1,1643.2 1003.2,1645.7 1004.2,1648.2 1005.2,1650.7 1006.1,1653.1 1007.1,1655.6 1008.1,1658.1 1009.1,1660.6 1010.1,1663.1 1011.1,1665.6 1012.0,1668.0 1013.0,1670.5 1014.0,1673.0 1015.0,1675.5 1015.9,1678.0 1016.9,1680.5 1017.9,1683.0 1018.8,1685.5 1019.8,1687.9 1020.7,1690.4 1021.7,1692.9 1022.6,1695.4 1023.6,1697.9 1024.6,1700.4 1025.5,1702.9 1026.5,1705.4 1027.4,1707.9 1028.4,1710.4 1029.4,1712.9 1030.4,1715.3 1031.3,1717.8 1032.3,1720.3 1033.3,1722.8 1034.6,1725.1 1036.0,1727.3 1037.4,1729.5 1038.8,1731.7 1040.2,1733.9 1041.7,1736.1 1043.2,1738.3 1044.7,1740.5 1046.2,1742.7 1047.7,1744.9 1049.2,1747.0 1050.7,1749.2 1052.2,1751.4 1053.7,1753.6 1055.2,1755.7 1056.9,1757.9 1058.5,1760.0 1060.1,1762.1 1061.7,1764.2 1063.4,1766.3 1065.2,1768.3 1066.9,1770.2 1068.7,1772.2 1070.5,1774.1 1072.3,1776.1 1074.3,1777.9 1076.3,1779.6 1078.3,1781.4 1080.3,1783.1 1082.3,1784.9 1084.4,1786.6 1086.4,1788.4 1088.4,1790.1 1090.4,1791.9 1092.4,1793.7 1094.4,1795.5 1096.3,1797.3 1098.3,1799.1 1100.3,1800.9 1102.3,1802.6 1104.5,1804.0 1106.8,1805.4 1109.0,1806.8 1111.3,1808.1 1113.7,1809.2 1116.1,1810.4 1118.5,1811.6 1120.9,1812.8 1123.3,1813.9 1125.7,1815.1 1128.0,1816.3 1130.4,1817.5 1132.8,1818.7 1135.2,1819.9 1137.6,1821.1 1139.9,1822.3 1142.4,1823.1 1144.9,1823.7 1147.4,1824.4 1149.9,1825.0 1152.4,1825.7 1154.9,1826.4 1157.4,1827.0 1160.0,1827.3 1162.7,1827.4 1165.3,1827.4 1168.0,1827.5 1170.7,1827.6 1173.4,1827.7 1176.0,1827.7 1178.7,1827.8 1181.4,1827.9 1184.0,1828.0 1186.7,1828.0 1189.4,1828.1 1192.1,1828.0 1194.7,1828.0 1197.4,1827.9 1200.1,1827.8 1202.7,1827.7 1205.4,1827.6 1208.1,1827.5 1210.8,1827.5 1213.4,1827.4 1216.1,1827.3 1218.8,1827.2 1221.4,1827.1 1224.1,1827.0 1226.8,1827.0 1229.4,1826.9 1232.1,1826.8 1234.8,1826.7 1237.5,1826.6 1240.1,1826.5 1242.8,1826.4 1245.5,1826.4 1248.1,1826.3 1250.8,1826.2 1253.5,1826.0 1256.1,1825.9 1258.8,1825.8 1261.5,1825.6 1264.1,1825.5 1266.8,1825.3 1269.5,1825.2 1272.1,1825.0 1274.8,1824.9 1277.5,1824.8 1280.1,1824.6 1282.8,1824.5 1285.3,1823.8 1287.9,1823.1 1290.4,1822.4 1292.9,1821.8 1295.5,1821.1 1298.0,1820.5 1300.6,1819.9 1303.2,1819.4 1305.8,1818.8 1308.2,1817.7 1310.7,1816.6 1313.1,1815.5 1315.6,1814.8 1318.1,1814.1 1320.6,1813.4 1323.1,1812.6 1325.6,1811.9 1328.0,1810.7 1330.4,1809.5 1332.8,1808.3 1335.1,1807.3 1337.6,1807.4 1340.0,1807.6 1342.4,1807.8 1344.9,1808.2 1347.5,1808.6 1350.0,1809.0 1352.5,1809.4 1355.0,1809.9 1357.5,1810.3 1360.0,1810.7 1362.5,1810.5 1365.0,1810.1 1367.4,1809.8 1369.8,1809.4 1372.3,1809.0 1374.7,1808.6 1377.2,1809.1 1379.7,1809.3 1382.2,1809.4 1384.7,1809.6 1387.2,1809.8 1389.7,1809.9 1392.3,1810.6 1394.9,1811.2 1397.4,1811.9 1400.0,1811.7 1402.7,1811.4 1405.3,1811.1 1407.9,1811.1 1410.4,1811.1 1413.0,1811.1 1415.5,1811.1 1418.1,1810.9 1420.8,1810.6 1423.4,1811.0 1426.0,1811.4 1428.6,1811.8 1431.3,1812.2 1433.9,1812.6 1436.5,1812.9 1439.1,1813.3 1441.7,1813.8 1444.3,1814.5 1446.9,1815.1 1449.5,1815.8 1452.1,1816.6 1454.6,1817.4 1457.2,1818.2 1459.7,1818.9 1462.3,1819.7 1464.9,1820.4 1467.4,1821.2 1470.0,1821.9 1472.6,1822.6 1475.1,1823.3 1477.7,1823.8 1480.3,1823.6 1482.9,1823.5 1485.5,1823.3 1488.1,1823.1 1490.7,1823.0 1493.3,1822.8 1495.9,1823.3 1498.4,1824.2 1500.9,1825.0 1503.4,1825.9 1505.9,1826.8 1508.4,1827.6 1510.9,1828.6 1513.3,1829.7 1515.8,1830.9 1518.2,1832.0 1520.6,1833.1 1523.0,1834.2 1525.6,1834.5 1528.1,1834.5 1530.8,1834.3 1533.5,1834.0 1536.1,1833.8 1538.8,1833.6 1541.4,1833.3 1544.1,1833.1 1546.7,1832.8 1549.4,1832.6 1552.0,1832.7 1554.6,1833.2 1557.2,1833.6 1559.8,1834.2 1562.3,1835.1 1564.8,1836.1 1567.3,1837.1 1569.7,1838.0 1572.2,1839.0 1574.8,1839.3 1577.5,1839.1 1580.1,1838.9 1582.8,1838.7 1585.4,1838.5 1588.1,1838.3 1590.7,1838.4 1593.2,1839.1 1595.7,1839.9 1598.2,1840.7 1600.7,1841.6 1603.2,1842.5 1605.6,1843.0 1608.1,1842.5 1610.6,1841.9 1613.0,1840.8 1615.5,1839.7 1617.9,1838.6 1620.4,1838.2 1622.8,1839.1 1625.2,1840.2 1627.7,1841.3 1630.1,1842.4 1632.5,1843.5 1635.0,1844.6 1637.4,1845.7 1639.9,1846.8 1642.3,1847.8 1644.6,1847.4 1647.0,1846.2 1649.4,1845.0 1651.7,1843.7 1654.1,1842.6 1656.4,1843.7 1658.6,1845.0 1660.9,1846.4 1663.2,1847.8 1665.5,1849.2 1667.7,1850.6 1670.0,1852.0 1672.4,1852.9 1674.7,1853.5 1677.1,1854.2 1679.6,1853.7 1682.1,1853.0 1684.6,1852.3 1687.1,1851.6 1689.6,1850.9 1692.1,1850.3 1694.6,1849.6 1697.2,1848.9 1699.5,1849.3 1701.5,1850.9 1703.5,1852.5 1705.5,1854.2 1707.9,1854.6 1710.3,1855.0 1712.8,1855.3 1715.3,1855.5 1717.8,1856.1 1720.3,1857.0 1722.7,1858.0 1725.2,1858.9 1727.7,1859.9 1730.2,1860.9 1732.7,1861.8 1735.2,1862.6 1737.9,1863.1 1740.5,1863.6 1743.1,1864.1 1745.7,1864.6 1748.4,1865.1 1750.9,1865.7 1753.5,1866.4 1756.1,1867.0 1758.7,1867.7 1761.2,1868.3 1763.8,1868.9 1766.4,1869.6 1768.9,1870.3 1771.3,1871.1 1773.8,1871.9 1776.4,1872.3 1779.1,1872.5 1781.7,1872.7 1784.4,1872.9 1787.1,1873.1 1789.7,1873.2 1792.3,1872.8 1795.0,1872.5 1797.6,1872.1 1800.2,1871.8 1802.8,1871.4 1805.4,1871.3 1808.0,1871.2 1810.6,1871.2 1813.1,1871.5 1815.8,1871.9 1818.4,1872.3 1821.0,1872.7 1823.6,1873.1 1826.3,1873.5 1828.8,1874.2 1831.4,1875.0 1833.9,1875.8 1836.4,1876.6 1839.0,1877.4 1841.5,1878.2 1844.1,1879.0 1846.6,1879.9 1849.1,1880.7 1851.7,1881.5 1854.2,1882.3 1856.8,1882.8 1859.4,1883.3 1862.0,1883.8 1864.6,1884.3 1867.2,1884.8 1869.8,1885.2 1872.4,1885.6 1875.0,1886.1 1877.7,1886.5 1880.3,1886.9 1882.9,1887.4 1885.5,1887.9 1888.1,1888.3 1890.7,1888.8" fill="none" stroke="#a8a8a8" stroke-width="3.5" stroke-linejoin="round" stroke-linecap="round"/>
<polyline points="405.0,1886.9 407.7,1886.9 410.3,1886.9 413.0,1886.9 415.6,1886.9 418.3,1886.9 420.9,1886.9 423.6,1886.9 426.2,1886.9 428.9,1886.9 431.6,1886.9 434.2,1886.9 436.9,1886.9 439.5,1886.9 442.2,1886.9 444.8,1886.9 447.5,1886.9 450.1,1886.9 452.8,1886.9 455.5,1886.9 458.1,1886.9 460.8,1886.9 463.4,1886.9 466.1,1886.9 468.7,1886.9 471.4,1886.9 474.0,1886.9 476.7,1886.9 479.4,1886.9 482.0,1886.9 484.7,1886.9 487.3,1886.9 490.0,1886.9 492.6,1886.9 495.3,1886.9 497.9,1886.9 500.6,1886.9 503.3,1886.9 505.9,1886.9 508.6,1886.9 511.2,1886.9 513.9,1886.9 516.5,1886.9 519.2,1886.9 521.9,1886.9 524.5,1886.9 527.2,1886.9 529.8,1886.9 532.5,1886.9 535.1,1886.9 537.8,1886.9 540.4,1886.9 543.1,1886.9 545.8,1886.9 548.4,1886.9 551.1,1886.9 553.7,1886.9 556.4,1886.9 559.0,1886.9 561.7,1886.9 564.3,1886.9 567.0,1886.9 569.7,1886.9 572.3,1886.9 575.0,1886.9 577.6,1886.9 580.3,1886.9 582.9,1886.9 585.6,1886.9 588.2,1886.9 590.9,1886.9 593.6,1886.9 596.2,1886.9 598.9,1886.9 601.5,1886.9 604.2,1886.9 606.8,1886.9 609.5,1886.9 612.1,1886.9 614.8,1886.9 617.5,1886.9 620.1,1886.9 622.8,1886.9 625.4,1886.9 628.1,1886.9 630.7,1886.9 633.4,1886.9 636.0,1886.9 638.7,1886.9 641.4,1886.9 644.0,1886.9 646.7,1886.9 649.3,1886.9 652.0,1886.9 654.6,1886.9 657.3,1886.9 659.9,1886.9 662.6,1886.9 665.3,1886.9 667.9,1886.9 670.6,1886.9 673.2,1886.9 675.9,1886.9 678.5,1886.9 681.2,1886.9 683.8,1886.9 686.5,1886.9 689.2,1886.9 691.8,1886.9 694.5,1886.9 697.1,1886.9 699.8,1886.9 702.4,1886.9 705.1,1886.9 707.8,1886.8 710.4,1886.8 713.1,1886.8 715.7,1886.8 718.4,1886.7 721.0,1886.7 723.7,1886.7 726.3,1886.6 729.0,1886.6 731.7,1886.6 734.3,1886.6 737.0,1886.5 739.6,1886.5 742.3,1886.5 744.9,1886.4 747.6,1886.4 750.2,1886.4 752.9,1886.4 755.5,1886.3 758.2,1886.2 760.9,1886.1 763.5,1886.1 766.2,1886.0 768.8,1885.8 771.2,1885.4 773.7,1885.0 776.2,1884.5 778.3,1883.1 780.2,1881.2 782.1,1879.4 784.1,1877.6 786.0,1875.8 787.9,1873.9 789.8,1872.1 791.8,1870.3 793.7,1868.5 795.6,1866.6 797.6,1864.9 799.7,1863.2 801.7,1861.6 803.9,1860.1 806.3,1858.9 808.6,1857.7 811.0,1856.6 813.4,1855.4 815.7,1854.1 817.9,1852.7 820.1,1851.4 822.4,1850.0 824.6,1848.7 826.8,1847.3 829.1,1846.0 831.2,1844.6 833.0,1842.6 834.8,1840.6 836.6,1838.6 838.3,1836.7 840.1,1834.7 842.1,1833.0 844.0,1831.3 846.0,1829.7 848.5,1829.4 851.1,1829.5 853.8,1829.7 856.4,1829.8 859.0,1829.9 861.2,1829.6 862.9,1828.6 863.5,1826.0 864.1,1823.4 864.7,1820.8 865.3,1818.2 865.9,1815.6 866.4,1813.0 867.0,1810.4 867.6,1807.8 868.1,1805.3 868.7,1802.7 869.3,1800.1 870.1,1797.6 870.8,1795.0 871.2,1792.4 871.4,1789.8 871.5,1787.1 871.7,1784.5 871.9,1781.8 872.0,1779.2 872.2,1776.5 872.3,1773.9 872.5,1771.2 872.6,1768.6 872.8,1765.9 873.0,1763.3 873.1,1760.6 873.3,1758.0 873.6,1755.4 874.1,1752.9 874.6,1750.4 874.8,1747.8 875.0,1745.1 875.2,1742.5 875.4,1739.8 875.6,1737.2 875.8,1734.5 876.0,1731.9 876.2,1729.2 876.4,1726.6 876.6,1723.9 876.8,1721.3 877.0,1718.6 877.2,1716.0 877.4,1713.3 877.5,1710.7 877.7,1708.0 877.9,1705.4 878.1,1702.7 878.3,1700.1 878.5,1697.4 878.7,1694.8 878.9,1692.1 879.1,1689.5 879.3,1686.8 879.5,1684.2 879.7,1681.5 879.9,1678.9 880.1,1676.3 880.3,1673.6 880.5,1671.0 880.7,1668.3 880.9,1665.7 881.1,1663.0 881.3,1660.4 881.5,1657.7 881.7,1655.1 881.9,1652.4 882.1,1649.8 882.3,1647.1 882.5,1644.5 882.7,1641.8 882.9,1639.2 883.1,1636.5 883.3,1633.9 883.5,1631.2 883.6,1628.6 883.8,1625.9 884.0,1623.3 884.2,1620.6 884.4,1618.0 884.6,1615.3 884.8,1612.7 885.0,1610.0 885.2,1607.4 885.4,1604.7 885.6,1602.1 885.7,1599.4 885.9,1596.8 886.1,1594.1 886.3,1591.5 886.4,1588.8 886.5,1586.2 886.6,1583.5 886.8,1580.9 886.9,1578.2 887.0,1575.6 887.1,1572.9 887.2,1570.3 887.4,1567.6 887.5,1565.0 887.6,1562.3 887.7,1559.7 887.8,1557.0 888.0,1554.4 888.1,1551.7 888.6,1549.2 889.1,1546.7 889.3,1544.0 889.4,1541.4 889.5,1538.7 889.6,1536.1 889.8,1533.4 889.9,1530.8 890.0,1528.1 890.1,1525.5 890.2,1522.8 890.4,1520.2 890.5,1517.5 890.6,1514.9 890.7,1512.2 890.8,1509.6 891.0,1506.9 891.1,1504.3 891.2,1501.6 891.3,1499.0 891.4,1496.3 891.5,1493.7 891.6,1491.0 891.8,1488.3 891.9,1485.7 892.0,1483.0 892.1,1480.4 892.2,1477.7 892.3,1475.1 892.4,1472.4 892.5,1469.8 892.7,1467.1 892.8,1464.5 892.9,1461.8 893.0,1459.2 893.4,1456.6 893.8,1454.1 894.1,1451.5 894.3,1448.9 894.4,1446.2 894.5,1443.5 894.6,1440.9 894.7,1438.2 894.8,1435.6 894.9,1432.9 895.0,1430.3 895.2,1427.6 895.3,1425.0 895.4,1422.3 895.5,1419.7 895.6,1417.0 895.7,1414.4 896.3,1411.8 896.9,1409.3 897.2,1406.7 897.4,1404.1 897.7,1401.4 897.9,1398.8 898.2,1396.1 898.4,1393.5 898.7,1390.8 898.9,1388.2 899.2,1385.6 899.4,1382.9 899.7,1380.3 899.9,1377.6 900.2,1375.0 900.4,1372.4 900.6,1369.7 900.8,1367.1 901.0,1364.4 901.2,1361.8 901.4,1359.1 901.6,1356.5 901.8,1353.8 902.0,1351.2 902.2,1348.5 902.5,1346.9 902.8,1345.3 903.1,1343.8 903.4,1341.4 903.8,1338.8 904.3,1336.2 904.7,1333.6 905.2,1331.0 906.3,1328.5 907.3,1326.1 908.2,1324.1 909.2,1322.7 910.1,1321.3 911.0,1319.9 911.9,1319.8 912.2,1322.0 912.3,1323.7 912.3,1325.4 912.3,1327.2 912.5,1328.8 913.0,1330.3 913.4,1331.9 913.9,1333.4 914.2,1334.9 914.5,1336.5 914.7,1338.0 915.2,1339.6 915.8,1341.3 916.4,1343.0 916.8,1345.4 917.1,1348.0 917.4,1350.7 917.7,1353.3 918.0,1356.0 918.3,1358.6 918.7,1361.2 919.3,1363.7 919.8,1366.3 920.2,1368.9 920.6,1371.5 920.9,1374.2 921.2,1376.8 921.6,1379.4 922.2,1381.9 922.5,1384.6 922.8,1387.2 923.0,1389.9 923.3,1392.5 923.5,1395.1 923.8,1397.8 924.1,1400.4 924.3,1403.0 924.6,1405.7 924.9,1408.3 925.2,1411.0 925.7,1413.5 926.5,1415.9 926.9,1418.4 927.3,1421.0 927.7,1423.7 928.0,1426.3 928.4,1428.9 928.7,1431.6 929.2,1434.2 929.8,1436.7 930.2,1439.3 930.5,1441.9 930.8,1444.6 931.1,1447.2 931.5,1449.8 931.8,1452.5 932.4,1455.0 932.9,1457.6 933.2,1460.3 933.5,1462.9 933.9,1465.5 934.2,1468.1 934.5,1470.8 934.9,1473.4 935.3,1476.0 935.6,1478.6 936.0,1481.3 936.3,1483.9 936.7,1486.5 937.0,1489.1 937.4,1491.8 938.1,1494.2 938.9,1496.6 939.5,1499.1 940.0,1501.8 940.4,1504.4 940.8,1507.0 941.3,1509.6 941.7,1512.2 942.2,1514.8 942.6,1517.5 943.0,1520.1 943.5,1522.7 943.9,1525.3 944.4,1527.9 945.1,1530.5 946.0,1533.0 947.0,1535.4 948.0,1537.9 949.0,1540.4 949.9,1542.8 950.9,1545.3 951.7,1547.8 952.6,1550.3 953.4,1552.8 954.3,1555.3 955.1,1557.8 956.0,1560.3 956.9,1562.8 957.9,1565.2 959.0,1567.7 960.0,1570.1 961.1,1572.5 962.2,1575.0 963.2,1577.4 964.3,1579.8 965.5,1582.2 966.6,1584.6 967.8,1586.9 969.1,1589.2 970.4,1591.5 971.7,1593.8 973.1,1596.1 974.4,1598.3 975.7,1600.6 977.0,1602.9 978.3,1605.3 979.5,1607.6 980.8,1609.9 982.0,1612.3 983.3,1614.6 984.5,1617.0 985.7,1619.3 986.9,1621.7 988.1,1624.1 989.3,1626.5 990.4,1628.8 991.6,1631.2 992.6,1633.7 993.7,1636.1 994.7,1638.6 995.8,1641.0 996.8,1643.4 997.9,1645.9 998.9,1648.3 1000.0,1650.8 1001.0,1653.2 1002.1,1655.6 1003.2,1658.1 1004.2,1660.5 1005.2,1662.9 1006.2,1665.4 1007.3,1667.8 1008.3,1670.3 1009.3,1672.7 1010.4,1675.2 1011.4,1677.6 1012.4,1680.1 1013.4,1682.5 1014.4,1685.0 1015.5,1687.4 1016.5,1689.9 1017.5,1692.3 1018.5,1694.8 1019.5,1697.2 1020.5,1699.7 1021.5,1702.2 1022.5,1704.6 1023.5,1707.1 1024.5,1709.5 1025.5,1712.0 1026.5,1714.4 1027.5,1716.9 1028.5,1719.4 1029.5,1721.8 1030.5,1724.3 1031.6,1726.7 1032.6,1729.2 1033.6,1731.6 1034.6,1734.1 1036.1,1736.2 1037.7,1738.3 1039.2,1740.4 1040.8,1742.5 1042.4,1744.6 1044.0,1746.7 1045.6,1748.8 1047.2,1750.9 1048.8,1753.0 1050.5,1755.0 1052.1,1757.1 1053.7,1759.2 1055.3,1761.3 1056.9,1763.4 1058.6,1765.5 1060.3,1767.5 1061.9,1769.6 1063.6,1771.6 1065.3,1773.7 1067.0,1775.7 1068.9,1777.5 1070.8,1779.4 1072.7,1781.2 1074.6,1783.0 1076.4,1784.9 1078.4,1786.6 1080.4,1788.4 1082.4,1790.1 1084.5,1791.8 1086.5,1793.6 1088.5,1795.3 1090.5,1797.1 1092.5,1798.8 1094.5,1800.5 1096.5,1802.3 1098.5,1804.0 1100.5,1805.8 1102.4,1807.6 1104.4,1809.3 1106.5,1810.9 1108.8,1812.2 1111.2,1813.4 1113.5,1814.6 1115.9,1815.7 1118.3,1816.8 1120.7,1818.0 1123.1,1819.1 1125.5,1820.2 1127.9,1821.3 1130.3,1822.4 1132.7,1823.5 1135.1,1824.6 1137.6,1825.7 1140.0,1826.8 1142.4,1827.9 1144.8,1829.1 1147.3,1829.6 1149.9,1830.0 1152.4,1830.3 1155.0,1830.7 1157.5,1831.1 1160.1,1831.5 1162.7,1831.9 1165.3,1832.1 1168.0,1832.2 1170.6,1832.2 1173.3,1832.3 1175.9,1832.4 1178.6,1832.5 1181.2,1832.6 1183.9,1832.7 1186.5,1832.8 1189.2,1832.9 1191.8,1833.0 1194.5,1833.0 1197.1,1833.0 1199.8,1832.8 1202.4,1832.7 1205.1,1832.6 1207.8,1832.5 1210.4,1832.4 1213.1,1832.2 1215.7,1832.1 1218.4,1832.0 1221.0,1831.9 1223.7,1831.7 1226.3,1831.6 1229.0,1831.5 1231.6,1831.4 1234.3,1831.3 1236.9,1831.1 1239.6,1831.0 1242.2,1830.9 1244.9,1830.8 1247.5,1830.7 1250.2,1830.5 1252.8,1830.4 1255.5,1830.3 1258.1,1830.1 1260.8,1829.9 1263.4,1829.7 1266.1,1829.5 1268.7,1829.3 1271.4,1829.1 1274.0,1828.9 1276.7,1828.7 1279.3,1828.5 1281.9,1828.3 1284.6,1828.1 1287.2,1827.9 1289.8,1827.4 1292.4,1827.0 1295.0,1826.5 1297.5,1826.0 1300.1,1825.6 1302.7,1825.1 1305.3,1824.7 1307.9,1824.3 1310.5,1823.9 1313.0,1822.8 1315.3,1821.7 1317.7,1820.5 1320.2,1819.6 1322.6,1818.6 1325.0,1817.7 1327.4,1816.7 1329.9,1815.8 1332.2,1814.6 1334.6,1813.4 1337.0,1812.2 1339.4,1811.2 1341.8,1811.8 1344.2,1812.4 1346.6,1813.0 1349.1,1813.8 1351.6,1814.5 1354.0,1815.3 1356.5,1816.0 1359.0,1816.7 1361.4,1817.5 1363.9,1818.2 1366.3,1817.8 1368.7,1817.0 1371.1,1816.2 1373.5,1815.4 1375.9,1814.6 1378.3,1813.8 1380.8,1814.5 1383.3,1815.0 1385.7,1815.6 1388.2,1816.1 1390.7,1816.7 1393.2,1817.2 1395.7,1818.0 1398.2,1818.8 1400.7,1819.6 1403.3,1819.3 1405.9,1818.9 1408.5,1818.4 1411.1,1818.1 1413.6,1817.8 1416.2,1817.4 1418.7,1817.1 1421.3,1816.7 1423.9,1816.4 1426.5,1816.9 1429.1,1817.4 1431.7,1817.9 1434.3,1818.4 1436.9,1818.9 1439.5,1819.5 1442.1,1820.0 1444.6,1820.5 1447.2,1821.2 1449.8,1821.8 1452.3,1822.5 1454.9,1823.4 1457.4,1824.2 1459.9,1825.0 1462.4,1825.8 1465.0,1826.7 1467.5,1827.4 1470.0,1828.2 1472.6,1829.0 1475.1,1829.8 1477.6,1830.6 1480.2,1831.2 1482.7,1830.8 1485.3,1830.3 1487.9,1829.9 1490.5,1829.5 1493.1,1829.1 1495.7,1828.7 1498.2,1829.2 1500.6,1830.2 1503.1,1831.1 1505.5,1832.1 1508.0,1833.1 1510.4,1834.1 1512.9,1835.1 1515.3,1836.2 1517.7,1837.3 1520.1,1838.4 1522.5,1839.6 1524.9,1840.6 1527.5,1840.5 1530.1,1840.3 1532.7,1840.0 1535.4,1839.7 1538.0,1839.4 1540.6,1839.1 1543.3,1838.8 1545.9,1838.4 1548.5,1838.1 1551.2,1837.8 1553.8,1837.9 1556.3,1838.5 1558.9,1839.2 1561.4,1839.8 1563.9,1840.7 1566.4,1841.6 1568.9,1842.4 1571.5,1843.3 1574.0,1844.2 1576.5,1844.4 1579.2,1844.1 1581.8,1843.8 1584.4,1843.4 1587.0,1843.1 1589.7,1842.8 1592.2,1842.8 1594.7,1843.8 1597.1,1844.8 1599.5,1845.8 1602.0,1846.8 1604.4,1847.9 1606.8,1848.3 1609.2,1847.5 1611.6,1846.6 1614.0,1845.4 1616.4,1844.3 1618.8,1843.1 1621.2,1842.9 1623.6,1843.9 1626.0,1845.0 1628.4,1846.2 1630.8,1847.3 1633.2,1848.4 1635.6,1849.6 1638.0,1850.7 1640.4,1851.8 1642.8,1852.9 1645.1,1852.0 1647.4,1850.7 1649.7,1849.4 1652.0,1848.0 1654.3,1846.8 1656.5,1848.1 1658.7,1849.6 1661.0,1851.0 1663.2,1852.5 1665.4,1853.9 1667.6,1855.4 1669.9,1856.8 1672.1,1858.0 1674.4,1859.0 1676.7,1860.1 1679.1,1859.6 1681.5,1858.7 1683.9,1857.8 1686.4,1856.8 1688.8,1855.9 1691.3,1855.0 1693.7,1854.1 1696.2,1853.2 1698.5,1853.4 1700.7,1854.8 1702.9,1856.2 1705.1,1857.6 1707.4,1858.4 1709.8,1859.2 1712.2,1859.9 1714.7,1860.5 1717.2,1861.2 1719.7,1862.0 1722.2,1862.9 1724.7,1863.8 1727.2,1864.7 1729.7,1865.5 1732.2,1866.4 1734.8,1867.2 1737.4,1867.6 1740.0,1868.1 1742.6,1868.5 1745.2,1869.0 1747.9,1869.4 1750.4,1869.9 1753.0,1870.5 1755.6,1871.0 1758.2,1871.5 1760.8,1872.0 1763.4,1872.5 1766.0,1872.9 1768.6,1873.5 1771.1,1874.0 1773.7,1874.5 1776.3,1874.8 1778.9,1875.0 1781.6,1875.3 1784.2,1875.5 1786.8,1875.7 1789.5,1875.8 1792.1,1875.3 1794.7,1874.8 1797.2,1874.3 1799.8,1873.8 1802.4,1873.3 1805.0,1872.9 1807.6,1872.5 1810.1,1872.2 1812.7,1872.5 1815.3,1873.0 1817.9,1873.6 1820.5,1874.1 1823.0,1874.6 1825.6,1875.2 1828.2,1875.8 1830.7,1876.5 1833.3,1877.3 1835.8,1878.0 1838.4,1878.7 1840.9,1879.5 1843.5,1880.2 1846.0,1880.9 1848.6,1881.6 1851.1,1882.3 1853.7,1883.1 1856.3,1883.5 1858.9,1883.8 1861.5,1884.1 1864.1,1884.4 1866.7,1884.7 1869.4,1885.0 1872.0,1885.3 1874.6,1885.6 1877.2,1885.9 1879.9,1886.2 1882.5,1886.5 1885.1,1886.8 1887.7,1887.1 1890.3,1887.4" fill="none" stroke="#a8a8a8" stroke-width="3.5" stroke-linejoin="round" stroke-linecap="round"/>
<polyline points="405.0,1887.0 407.6,1887.0 410.3,1887.0 412.9,1887.0 415.6,1887.0 418.2,1887.0 420.8,1887.0 423.5,1887.0 426.1,1887.0 428.7,1887.0 431.4,1887.0 434.0,1887.0 436.7,1887.0 439.3,1887.0 441.9,1887.0 444.6,1887.0 447.2,1887.0 449.8,1887.0 452.5,1887.0 455.1,1887.0 457.8,1887.0 460.4,1887.0 463.0,1887.0 465.7,1887.0 468.3,1887.0 470.9,1887.0 473.6,1887.0 476.2,1887.0 478.9,1887.0 481.5,1887.0 484.1,1887.0 486.8,1887.0 489.4,1887.0 492.1,1887.0 494.7,1887.0 497.3,1887.0 500.0,1887.0 502.6,1887.0 505.2,1887.0 507.9,1887.0 510.5,1887.0 513.2,1887.0 515.8,1887.0 518.4,1887.0 521.1,1887.0 523.7,1887.0 526.3,1887.0 529.0,1887.0 531.6,1887.0 534.3,1887.0 536.9,1887.0 539.5,1887.0 542.2,1887.0 544.8,1887.0 547.4,1887.0 550.1,1887.0 552.7,1887.0 555.4,1887.0 558.0,1887.0 560.6,1887.0 563.3,1887.0 565.9,1887.0 568.6,1887.0 571.2,1887.0 573.8,1887.0 576.5,1887.0 579.1,1887.0 581.7,1887.0 584.4,1887.0 587.0,1887.0 589.7,1887.0 592.3,1887.0 594.9,1887.0 597.6,1887.0 600.2,1887.0 602.8,1887.0 605.5,1887.0 608.1,1887.0 610.8,1887.0 613.4,1887.0 616.0,1887.0 618.7,1887.0 621.3,1887.0 623.9,1887.0 626.6,1887.0 629.2,1887.0 631.9,1887.0 634.5,1887.0 637.1,1887.0 639.8,1887.0 642.4,1887.0 645.1,1887.0 647.7,1887.0 650.3,1887.0 653.0,1887.0 655.6,1887.0 658.2,1887.0 660.9,1887.0 663.5,1887.0 666.2,1887.0 668.8,1887.0 671.4,1887.0 674.1,1887.0 676.7,1887.0 679.3,1887.0 682.0,1887.0 684.6,1887.0 687.3,1887.0 689.9,1887.0 692.5,1887.0 695.2,1887.0 697.8,1887.0 700.4,1887.0 703.1,1887.0 705.7,1886.9 708.4,1886.9 711.0,1886.9 713.6,1886.8 716.3,1886.8 718.9,1886.7 721.6,1886.7 724.2,1886.7 726.8,1886.6 729.5,1886.6 732.1,1886.6 734.7,1886.5 737.4,1886.5 740.0,1886.5 742.7,1886.4 745.3,1886.4 747.9,1886.4 750.6,1886.3 753.2,1886.3 755.8,1886.3 758.5,1886.2 761.1,1886.2 763.8,1886.1 766.4,1886.1 769.0,1886.1 771.7,1886.0 774.3,1886.0 776.4,1884.7 778.4,1882.9 780.3,1881.1 782.2,1879.3 784.2,1877.5 786.1,1875.7 788.1,1873.9 790.0,1872.2 791.9,1870.4 793.9,1868.6 795.8,1866.8 797.8,1865.0 799.7,1863.2 801.8,1861.6 804.1,1860.5 806.5,1859.3 808.9,1858.2 811.3,1857.0 813.6,1855.9 816.0,1854.7 818.4,1853.6 820.8,1852.5 823.1,1851.3 825.5,1850.2 827.9,1849.0 830.2,1847.8 832.0,1845.9 833.8,1843.9 835.6,1842.0 837.4,1840.1 839.2,1838.2 841.0,1836.2 842.8,1834.3 844.6,1832.4 847.1,1832.2 849.7,1832.6 852.3,1832.9 855.0,1833.2 857.6,1833.5 860.2,1833.8 862.2,1833.2 862.8,1830.6 863.4,1828.1 864.0,1825.5 864.6,1822.9 865.2,1820.4 865.8,1817.8 866.4,1815.2 867.0,1812.7 867.6,1810.1 868.2,1807.5 868.8,1804.9 869.4,1802.4 870.0,1799.8 870.2,1797.2 870.4,1794.5 870.6,1791.9 870.8,1789.3 871.0,1786.7 871.2,1784.0 871.4,1781.4 871.6,1778.8 871.8,1776.1 872.0,1773.5 872.2,1770.9 872.4,1768.2 872.6,1765.6 872.8,1763.0 873.0,1760.4 873.2,1757.7 873.4,1755.1 873.6,1752.5 873.8,1749.8 874.0,1747.2 874.2,1744.6 874.4,1741.9 874.6,1739.3 874.7,1736.7 874.9,1734.0 875.1,1731.4 875.3,1728.8 875.5,1726.2 875.7,1723.5 875.9,1720.9 876.1,1718.3 876.3,1715.6 876.5,1713.0 876.7,1710.4 876.9,1707.7 877.1,1705.1 877.3,1702.5 877.5,1699.8 877.7,1697.2 877.9,1694.6 878.1,1692.0 878.3,1689.3 878.5,1686.7 878.7,1684.1 878.9,1681.4 879.1,1678.8 879.3,1676.2 879.5,1673.5 879.7,1670.9 879.9,1668.3 880.1,1665.7 880.3,1663.0 880.5,1660.4 880.7,1657.8 880.9,1655.1 881.1,1652.5 881.3,1649.9 881.5,1647.2 881.7,1644.6 881.9,1642.0 882.0,1639.3 882.2,1636.7 882.4,1634.1 882.6,1631.5 882.8,1628.8 883.0,1626.2 883.2,1623.6 883.4,1620.9 883.6,1618.3 883.8,1615.7 884.0,1613.0 884.2,1610.4 884.4,1607.8 884.6,1605.1 884.8,1602.5 885.0,1599.9 885.2,1597.3 885.3,1594.6 885.5,1592.0 885.6,1589.4 885.8,1586.7 885.9,1584.1 886.1,1581.5 886.2,1578.8 886.4,1576.2 886.5,1573.6 886.7,1570.9 886.8,1568.3 887.0,1565.7 887.1,1563.0 887.3,1560.4 887.4,1557.7 887.6,1555.1 887.7,1552.5 887.9,1549.8 888.0,1547.2 888.2,1544.6 888.3,1541.9 888.5,1539.3 888.6,1536.7 888.8,1534.0 888.9,1531.4 889.1,1528.8 889.2,1526.1 889.4,1523.5 889.5,1520.9 889.7,1518.2 889.8,1515.6 890.0,1513.0 890.1,1510.3 890.3,1507.7 890.4,1505.1 890.6,1502.4 890.7,1499.8 890.9,1497.2 891.0,1494.5 891.1,1491.9 891.3,1489.3 891.4,1486.6 891.6,1484.0 891.7,1481.4 891.8,1478.7 892.0,1476.1 892.1,1473.5 892.3,1470.8 892.4,1468.2 892.6,1465.6 892.7,1462.9 892.8,1460.3 893.0,1457.7 893.1,1455.0 893.3,1452.4 893.4,1449.8 893.5,1447.1 893.7,1444.5 893.8,1441.9 894.0,1439.2 894.1,1436.6 894.2,1434.0 894.4,1431.3 894.5,1428.7 894.7,1426.1 894.8,1423.4 895.0,1420.8 895.2,1418.2 895.5,1415.5 895.8,1412.9 896.2,1410.3 896.5,1407.7 896.8,1405.1 897.1,1402.4 897.4,1399.8 897.7,1397.2 898.0,1394.6 898.3,1392.0 898.6,1389.3 899.0,1386.7 899.3,1384.1 899.6,1381.5 899.9,1378.9 900.2,1376.2 900.4,1373.6 900.7,1371.0 900.9,1368.4 901.1,1365.7 901.4,1363.1 901.6,1360.5 901.9,1357.9 902.1,1355.2 902.4,1352.6 902.6,1350.0 902.9,1347.4 903.1,1344.7 903.3,1342.1 903.6,1339.5 903.8,1336.8 904.3,1334.3 905.3,1331.8 906.3,1329.4 907.3,1327.0 908.3,1324.5 909.3,1322.1 910.3,1319.6 911.2,1318.8 911.8,1321.4 912.4,1324.0 912.9,1326.6 913.5,1329.1 914.1,1331.7 914.7,1334.3 915.3,1336.9 915.9,1339.4 916.3,1342.0 916.6,1344.6 916.9,1347.3 917.2,1349.9 917.6,1352.5 917.9,1355.1 918.2,1357.7 918.5,1360.4 918.9,1363.0 919.2,1365.6 919.5,1368.2 919.9,1370.8 920.2,1373.4 920.5,1376.1 920.8,1378.7 921.2,1381.3 921.5,1383.9 921.8,1386.5 922.1,1389.1 922.5,1391.8 922.8,1394.4 923.1,1397.0 923.5,1399.6 923.8,1402.2 924.1,1404.9 924.4,1407.5 924.8,1410.1 925.1,1412.7 925.4,1415.3 925.7,1417.9 926.1,1420.6 926.5,1423.2 926.9,1425.8 927.3,1428.4 927.6,1431.0 928.0,1433.6 928.4,1436.2 928.8,1438.8 929.2,1441.4 929.6,1444.0 930.0,1446.6 930.4,1449.3 930.8,1451.9 931.2,1454.5 931.6,1457.1 932.0,1459.7 932.3,1462.3 932.7,1464.9 933.1,1467.5 933.5,1470.1 933.9,1472.7 934.3,1475.3 934.7,1477.9 935.1,1480.6 935.5,1483.2 936.0,1485.8 936.4,1488.4 936.9,1491.0 937.3,1493.6 937.8,1496.2 938.2,1498.8 938.7,1501.4 939.1,1504.0 939.6,1506.6 940.0,1509.2 940.5,1511.8 940.9,1514.4 941.4,1517.0 941.8,1519.6 942.3,1522.2 942.7,1524.8 943.2,1527.4 943.6,1530.0 944.0,1532.5 944.5,1535.1 944.9,1537.7 945.4,1540.3 946.2,1542.8 947.2,1545.3 948.2,1547.7 949.1,1550.2 950.1,1552.6 951.1,1555.1 952.1,1557.5 953.0,1560.0 954.0,1562.5 955.0,1564.9 956.0,1567.4 956.9,1569.8 957.9,1572.3 958.9,1574.7 959.9,1577.2 960.8,1579.6 961.8,1582.1 962.8,1584.5 963.7,1587.0 964.7,1589.4 965.7,1591.9 966.7,1594.3 967.6,1596.8 968.7,1599.2 969.9,1601.5 971.1,1603.9 972.3,1606.2 973.5,1608.6 974.7,1610.9 975.9,1613.3 977.1,1615.6 978.3,1618.0 979.5,1620.3 980.7,1622.7 981.9,1625.0 983.1,1627.4 984.3,1629.7 985.5,1632.1 986.7,1634.5 987.9,1636.8 989.0,1639.2 990.2,1641.5 991.4,1643.9 992.5,1646.3 993.5,1648.7 994.6,1651.1 995.7,1653.5 996.7,1655.9 997.8,1658.4 998.9,1660.8 999.9,1663.2 1001.0,1665.6 1002.1,1668.0 1003.1,1670.4 1004.2,1672.8 1005.3,1675.2 1006.4,1677.6 1007.4,1680.1 1008.5,1682.5 1009.6,1684.9 1010.6,1687.3 1011.7,1689.7 1012.8,1692.1 1013.8,1694.5 1014.9,1697.0 1015.9,1699.4 1017.0,1701.8 1018.0,1704.2 1019.1,1706.6 1020.1,1709.0 1021.2,1711.5 1022.2,1713.9 1023.3,1716.3 1024.4,1718.7 1025.4,1721.1 1026.5,1723.6 1027.5,1726.0 1028.6,1728.4 1029.6,1730.8 1030.7,1733.2 1031.7,1735.7 1032.8,1738.1 1033.8,1740.5 1034.9,1742.9 1035.9,1745.3 1037.6,1747.3 1039.3,1749.3 1041.1,1751.3 1042.8,1753.3 1044.6,1755.3 1046.3,1757.3 1048.0,1759.3 1049.8,1761.3 1051.5,1763.2 1053.2,1765.2 1055.0,1767.2 1056.7,1769.2 1058.4,1771.2 1060.2,1773.2 1061.9,1775.2 1063.6,1777.2 1065.4,1779.1 1067.1,1781.1 1068.8,1783.1 1070.6,1785.1 1072.6,1786.8 1074.6,1788.5 1076.6,1790.2 1078.6,1792.0 1080.6,1793.7 1082.6,1795.4 1084.6,1797.1 1086.6,1798.9 1088.6,1800.6 1090.6,1802.3 1092.6,1804.0 1094.6,1805.7 1096.6,1807.5 1098.6,1809.2 1100.6,1810.9 1102.6,1812.6 1104.6,1814.3 1106.6,1816.1 1108.6,1817.8 1110.7,1819.3 1113.1,1820.3 1115.6,1821.4 1118.0,1822.4 1120.4,1823.4 1122.8,1824.5 1125.3,1825.5 1127.7,1826.5 1130.1,1827.6 1132.6,1828.6 1135.0,1829.6 1137.4,1830.7 1139.8,1831.7 1142.3,1832.7 1144.7,1833.7 1147.1,1834.8 1149.6,1835.8 1152.2,1836.1 1154.8,1836.2 1157.4,1836.3 1160.1,1836.4 1162.7,1836.5 1165.3,1836.6 1168.0,1836.7 1170.6,1836.8 1173.2,1836.9 1175.9,1837.0 1178.5,1837.1 1181.1,1837.2 1183.8,1837.4 1186.4,1837.5 1189.1,1837.6 1191.7,1837.7 1194.3,1837.8 1197.0,1837.9 1199.6,1838.0 1202.2,1837.9 1204.9,1837.7 1207.5,1837.6 1210.1,1837.4 1212.8,1837.2 1215.4,1837.1 1218.0,1836.9 1220.7,1836.8 1223.3,1836.6 1225.9,1836.4 1228.6,1836.3 1231.2,1836.1 1233.8,1836.0 1236.5,1835.8 1239.1,1835.7 1241.7,1835.5 1244.4,1835.3 1247.0,1835.2 1249.6,1835.0 1252.3,1834.9 1254.9,1834.7 1257.5,1834.5 1260.2,1834.4 1262.8,1834.1 1265.4,1833.9 1268.0,1833.6 1270.7,1833.4 1273.3,1833.1 1275.9,1832.9 1278.5,1832.6 1281.2,1832.3 1283.8,1832.1 1286.4,1831.8 1289.0,1831.6 1291.7,1831.3 1294.3,1831.1 1296.9,1830.8 1299.5,1830.6 1302.2,1830.3 1304.8,1830.0 1307.4,1829.8 1310.0,1829.5 1312.7,1829.3 1315.3,1829.0 1317.7,1827.9 1320.0,1826.8 1322.4,1825.6 1324.7,1824.4 1327.1,1823.2 1329.5,1822.0 1331.8,1820.8 1334.2,1819.6 1336.5,1818.4 1338.9,1817.2 1341.2,1816.0 1343.6,1815.1 1346.0,1816.2 1348.4,1817.3 1350.8,1818.3 1353.2,1819.4 1355.7,1820.4 1358.1,1821.5 1360.5,1822.6 1362.9,1823.6 1365.3,1824.7 1367.7,1825.8 1370.1,1825.1 1372.4,1823.9 1374.8,1822.7 1377.1,1821.5 1379.5,1820.3 1381.8,1819.1 1384.3,1819.9 1386.8,1820.8 1389.2,1821.7 1391.7,1822.7 1394.2,1823.6 1396.6,1824.6 1399.1,1825.5 1401.6,1826.4 1404.0,1827.4 1406.6,1827.0 1409.1,1826.3 1411.7,1825.7 1414.3,1825.1 1416.8,1824.4 1419.4,1823.8 1421.9,1823.2 1424.5,1822.5 1427.1,1822.1 1429.6,1822.7 1432.2,1823.4 1434.7,1824.0 1437.3,1824.7 1439.9,1825.3 1442.4,1826.0 1445.0,1826.6 1447.5,1827.3 1450.1,1827.9 1452.6,1828.6 1455.2,1829.3 1457.7,1830.1 1460.2,1831.0 1462.7,1831.9 1465.2,1832.7 1467.6,1833.6 1470.1,1834.4 1472.6,1835.3 1475.1,1836.2 1477.6,1837.0 1480.1,1837.9 1482.6,1838.5 1485.2,1837.9 1487.7,1837.2 1490.3,1836.6 1492.9,1835.9 1495.4,1835.3 1498.0,1834.7 1500.4,1835.1 1502.8,1836.1 1505.2,1837.2 1507.6,1838.3 1510.0,1839.4 1512.4,1840.5 1514.8,1841.6 1517.2,1842.7 1519.6,1843.8 1522.1,1844.9 1524.5,1846.0 1526.9,1847.0 1529.5,1846.6 1532.1,1846.2 1534.7,1845.8 1537.3,1845.4 1539.9,1845.0 1542.5,1844.6 1545.1,1844.2 1547.7,1843.8 1550.3,1843.4 1552.9,1843.0 1555.5,1843.1 1558.0,1843.9 1560.6,1844.7 1563.1,1845.5 1565.6,1846.3 1568.1,1847.0 1570.6,1847.8 1573.2,1848.6 1575.7,1849.4 1578.2,1849.4 1580.9,1849.0 1583.5,1848.6 1586.1,1848.2 1588.7,1847.8 1591.3,1847.3 1593.8,1847.3 1596.2,1848.4 1598.5,1849.6 1600.9,1850.8 1603.2,1852.0 1605.6,1853.2 1608.0,1853.6 1610.3,1852.4 1612.7,1851.2 1615.0,1850.0 1617.4,1848.8 1619.7,1847.7 1622.1,1847.5 1624.4,1848.7 1626.8,1849.9 1629.2,1851.0 1631.5,1852.2 1633.9,1853.4 1636.3,1854.5 1638.6,1855.7 1641.0,1856.9 1643.4,1858.0 1645.6,1856.6 1647.8,1855.1 1650.1,1853.7 1652.3,1852.3 1654.5,1851.1 1656.7,1852.6 1658.9,1854.1 1661.0,1855.6 1663.2,1857.1 1665.4,1858.6 1667.5,1860.1 1669.7,1861.6 1671.9,1863.1 1674.0,1864.6 1676.2,1866.1 1678.5,1865.5 1680.9,1864.4 1683.3,1863.2 1685.7,1862.1 1688.0,1860.9 1690.4,1859.8 1692.8,1858.6 1695.2,1857.4 1697.5,1857.5 1699.9,1858.7 1702.3,1859.9 1704.6,1861.0 1707.0,1862.2 1709.3,1863.4 1711.7,1864.6 1714.2,1865.5 1716.7,1866.3 1719.2,1867.1 1721.7,1867.9 1724.2,1868.6 1726.8,1869.4 1729.3,1870.2 1731.8,1871.0 1734.3,1871.8 1736.9,1872.2 1739.5,1872.6 1742.1,1873.0 1744.7,1873.4 1747.3,1873.8 1750.0,1874.2 1752.6,1874.6 1755.2,1875.0 1757.8,1875.4 1760.4,1875.7 1763.0,1876.1 1765.6,1876.3 1768.3,1876.6 1770.9,1876.8 1773.5,1877.1 1776.1,1877.4 1778.8,1877.6 1781.4,1877.9 1784.0,1878.1 1786.6,1878.4 1789.2,1878.4 1791.8,1877.8 1794.3,1877.1 1796.9,1876.5 1799.5,1875.8 1802.0,1875.1 1804.6,1874.5 1807.1,1873.8 1809.7,1873.2 1812.2,1873.5 1814.8,1874.2 1817.3,1874.8 1819.9,1875.5 1822.4,1876.1 1825.0,1876.8 1827.6,1877.5 1830.1,1878.1 1832.7,1878.8 1835.2,1879.4 1837.8,1880.0 1840.3,1880.7 1842.9,1881.3 1845.5,1881.9 1848.0,1882.6 1850.6,1883.2 1853.1,1883.9 1855.8,1884.1 1858.4,1884.3 1861.0,1884.4 1863.7,1884.5 1866.3,1884.7 1868.9,1884.8 1871.6,1885.0 1874.2,1885.1 1876.8,1885.3 1879.5,1885.4 1882.1,1885.6 1884.7,1885.7 1887.4,1885.9 1890.0,1886.0" fill="none" stroke="#a8a8a8" stroke-width="3.5" stroke-linejoin="round" stroke-linecap="round"/>
<polyline points="614.6,1891.0 718.8,1891.0" fill="none" stroke="#ff0000" stroke-width="6" stroke-linejoin="round" stroke-linecap="round"/>
<polyline points="750.0,1891.0 778.8,1889.4 797.7,1883.0 813.5,1872.0 829.3,1872.0 835.6,1875.0 864.0,1875.0 873.5,1864.0 876.6,1851.5 880.3,1832.6 884.7,1815.0 885.6,1792.8 891.0,1779.5 893.6,1757.5 899.0,1746.0 906.0,1740.7 911.3,1742.4 916.6,1757.5 925.4,1775.0 933.4,1788.4 939.5,1801.6 948.4,1815.0 960.0,1825.5 975.0,1832.6 985.5,1838.0 1000.0,1843.2 1017.3,1856.4 1042.3,1865.5 1067.3,1872.3 1090.0,1876.8 1315.6,1876.0 1324.0,1870.6 1393.3,1870.6 1399.0,1876.0 1510.0,1876.0 1521.0,1881.7 1532.0,1876.0 1537.8,1880.0 1549.0,1876.0 1554.4,1879.0 1680.0,1880.0 1720.7,1880.0 1726.0,1885.4 1766.9,1885.4 1799.4,1884.0 1837.4,1886.7 1842.9,1890.8 1891.7,1890.8" fill="none" stroke="#ff0000" stroke-width="6" stroke-linejoin="round" stroke-linecap="round"/>
<polyline points="405.0,1881.5 633.6,1881.5 640.0,1875.2 696.7,1875.2 701.5,1881.5 763.0,1881.5 775.6,1875.2 801.0,1848.4 820.0,1839.0 842.0,1810.5 862.4,1805.7 866.0,1790.0 869.0,1771.0 873.3,1763.6 873.3,1726.5 877.7,1722.0 879.0,1700.0 882.0,1660.0 885.0,1620.0 888.7,1560.0 888.7,1518.0 892.8,1513.0 892.8,1422.7 896.8,1418.0 896.8,1378.8 900.5,1374.0 900.5,1311.6 904.0,1308.0 904.0,1289.7 910.4,1279.4 918.0,1291.0 919.4,1309.0 923.3,1314.2 924.6,1325.8 927.0,1329.7 927.0,1360.7 931.0,1363.3 932.3,1380.0 934.9,1384.0 934.9,1399.4 937.5,1404.6 937.5,1440.8 942.6,1444.6 945.2,1461.4 947.8,1479.5 953.0,1492.4 955.5,1511.8 963.3,1524.7 971.0,1535.0 982.7,1548.0 991.0,1560.0 999.0,1576.8 1004.0,1590.4 1010.5,1606.4 1015.2,1620.6 1021.8,1640.5 1031.0,1670.0 1040.0,1697.3 1051.4,1722.3 1067.3,1747.3 1085.5,1763.2 1103.6,1781.4 1126.4,1795.0 1142.3,1804.0 1269.5,1805.2 1282.0,1798.3 1299.0,1791.4 1312.8,1791.4 1329.4,1783.0 1349.0,1779.0 1365.6,1784.4 1379.4,1779.0 1396.0,1780.3 1407.2,1784.4 1432.0,1784.4 1454.4,1790.0 1476.7,1794.0 1490.6,1797.0 1504.4,1799.7 1521.0,1808.0 1554.4,1808.0 1568.3,1815.0 1593.3,1816.4 1607.2,1819.0 1618.3,1815.0 1643.3,1824.7 1654.4,1820.5 1671.0,1829.0 1680.0,1827.0 1701.7,1827.0 1707.0,1835.1 1718.0,1831.0 1734.3,1839.2 1750.6,1843.3 1766.9,1850.0 1775.0,1855.5 1804.9,1856.9 1813.0,1859.6 1829.3,1859.6 1848.3,1867.7 1864.6,1874.5 1880.9,1880.0 1891.7,1884.0 1924.3,1884.0 1932.4,1888.0 1956.9,1888.0 1962.3,1884.0 2081.7,1884.0 2087.2,1889.4 2095.3,1884.0 2102.5,1883.0" fill="none" stroke="#0000ff" stroke-width="6.5" stroke-linejoin="round" stroke-linecap="round"/>
<polygon points="1150,2818 1150,2811 1156,2811 1162,2810 1168,2810 1174,2809 1180,2809 1186,2808 1192,2808 1198,2808 1204,2807 1210,2807 1216,2806 1222,2806 1228,2805 1234,2805 1240,2804 1246,2804 1252,2803 1258,2803 1264,2803 1270,2802 1276,2802 1282,2801 1288,2801 1294,2800 1300,2800 1306,2799 1312,2798 1318,2798 1324,2797 1330,2796 1336,2796 1342,2795 1348,2794 1354,2794 1360,2793 1366,2792 1372,2792 1378,2791 1384,2790 1390,2790 1396,2789 1402,2788 1408,2787 1414,2786 1420,2785 1426,2784 1432,2784 1438,2783 1444,2782 1450,2781 1456,2779 1462,2777 1468,2775 1474,2774 1480,2772 1486,2770 1492,2768 1498,2766 1504,2765 1510,2764 1516,2763 1522,2762 1528,2761 1534,2760 1540,2760 1546,2759 1552,2757 1558,2755 1564,2752 1570,2750 1576,2747 1582,2745 1588,2742 1594,2740 1600,2737 1606,2735 1612,2733 1618,2730 1624,2728 1630,2726 1636,2723 1642,2721 1648,2719 1654,2715 1660,2710 1666,2705 1672,2700 1678,2695 1684,2690 1690,2685 1696,2680 1702,2672 1708,2661 1714,2650 1720,2638 1726,2637 1732,2635 1738,2633 1744,2631 1750,2630 1756,2628 1762,2622 1768,2607 1774,2593 1780,2578 1786,2573 1792,2618 1798,2662 1804,2680 1810,2685 1816,2690 1822,2696 1828,2701 1834,2709 1840,2718 1846,2727 1852,2736 1858,2745 1864,2759 1870,2775 1876,2791 1882,2802 1888,2802 1894,2802 1900,2802 1906,2802 1912,2802 1918,2802 1924,2794 1930,2781 1936,2768 1942,2750 1948,2732 1954,2696 1960,2652 1966,2618 1972,2631 1978,2645 1984,2659 1990,2672 1996,2685 2002,2698 2008,2710 2014,2687 2020,2646 2026,2620 2032,2668 2038,2717 2044,2725 2050,2712 2056,2699 2062,2686 2068,2673 2074,2667 2080,2665 2086,2662 2092,2660 2098,2657 2098,2818" fill="#e2efef" stroke="none"/>
<line x1="1160" y1="2807.4" x2="1160" y2="2818" stroke="#d6dada" stroke-width="3" stroke-linecap="butt"/>
<line x1="1164.7" y1="2811.1" x2="1164.7" y2="2818" stroke="#d6dada" stroke-width="3" stroke-linecap="butt"/>
<line x1="1169.1" y1="2806.8" x2="1169.1" y2="2818" stroke="#d6dada" stroke-width="3" stroke-linecap="butt"/>
<line x1="1173.8" y1="2802.9" x2="1173.8" y2="2818" stroke="#d6dada" stroke-width="3" stroke-linecap="butt"/>
<line x1="1178.4" y1="2807.0" x2="1178.4" y2="2818" stroke="#d6dada" stroke-width="3" stroke-linecap="butt"/>
<line x1="1183.8" y1="2800.2" x2="1183.8" y2="2818" stroke="#d6dada" stroke-width="3" stroke-linecap="butt"/>
<line x1="1187.7" y1="2799.5" x2="1187.7" y2="2818" stroke="#d6dada" stroke-width="3" stroke-linecap="butt"/>
<line x1="1193.1" y1="2806.4" x2="1193.1" y2="2818" stroke="#d6dada" stroke-width="3" stroke-linecap="butt"/>
<line x1="1196.2" y1="2809.9" x2="1196.2" y2="2818" stroke="#d6dada" stroke-width="3" stroke-linecap="butt"/>
<line x1="1202.1" y1="2804.9" x2="1202.1" y2="2818" stroke="#d6dada" stroke-width="3" stroke-linecap="butt"/>
<line x1="1207.0" y1="2797.0" x2="1207.0" y2="2818" stroke="#d6dada" stroke-width="3" stroke-linecap="butt"/>
<line x1="1210.0" y1="2802.2" x2="1210.0" y2="2818" stroke="#d6dada" stroke-width="3" stroke-linecap="butt"/>
<line x1="1213.2" y1="2796.5" x2="1213.2" y2="2818" stroke="#d6dada" stroke-width="3" stroke-linecap="butt"/>
<line x1="1216.9" y1="2793.3" x2="1216.9" y2="2818" stroke="#d6dada" stroke-width="3" stroke-linecap="butt"/>
<line x1="1221.3" y1="2799.4" x2="1221.3" y2="2818" stroke="#d6dada" stroke-width="3" stroke-linecap="butt"/>
<line x1="1226.8" y1="2800.1" x2="1226.8" y2="2818" stroke="#d6dada" stroke-width="3" stroke-linecap="butt"/>
<line x1="1231.7" y1="2799.2" x2="1231.7" y2="2818" stroke="#d6dada" stroke-width="3" stroke-linecap="butt"/>
<line x1="1236.7" y1="2797.8" x2="1236.7" y2="2818" stroke="#d6dada" stroke-width="3" stroke-linecap="butt"/>
<line x1="1240.6" y1="2807.9" x2="1240.6" y2="2818" stroke="#d6dada" stroke-width="3" stroke-linecap="butt"/>
<line x1="1246.6" y1="2804.4" x2="1246.6" y2="2818" stroke="#d6dada" stroke-width="3" stroke-linecap="butt"/>
<line x1="1251.7" y1="2792.9" x2="1251.7" y2="2818" stroke="#d6dada" stroke-width="3" stroke-linecap="butt"/>
<line x1="1255.4" y1="2791.8" x2="1255.4" y2="2818" stroke="#d6dada" stroke-width="3" stroke-linecap="butt"/>
<line x1="1258.6" y1="2801.9" x2="1258.6" y2="2818" stroke="#d6dada" stroke-width="3" stroke-linecap="butt"/>
<line x1="1262.8" y1="2803.4" x2="1262.8" y2="2818" stroke="#d6dada" stroke-width="3" stroke-linecap="butt"/>
<line x1="1266.9" y1="2805.7" x2="1266.9" y2="2818" stroke="#d6dada" stroke-width="3" stroke-linecap="butt"/>
<line x1="1272.5" y1="2782.2" x2="1272.5" y2="2818" stroke="#d6dada" stroke-width="3" stroke-linecap="butt"/>
<line x1="1276.1" y1="2804.0" x2="1276.1" y2="2818" stroke="#d6dada" stroke-width="3" stroke-linecap="butt"/>
<line x1="1280.5" y1="2805.5" x2="1280.5" y2="2818" stroke="#d6dada" stroke-width="3" stroke-linecap="butt"/>
<line x1="1284.7" y1="2781.8" x2="1284.7" y2="2818" stroke="#d6dada" stroke-width="3" stroke-linecap="butt"/>
<line x1="1289.6" y1="2799.6" x2="1289.6" y2="2818" stroke="#d6dada" stroke-width="3" stroke-linecap="butt"/>
<line x1="1293.4" y1="2780.6" x2="1293.4" y2="2818" stroke="#d6dada" stroke-width="3" stroke-linecap="butt"/>
<line x1="1297.4" y1="2804.1" x2="1297.4" y2="2818" stroke="#d6dada" stroke-width="3" stroke-linecap="butt"/>
<line x1="1302.7" y1="2779.6" x2="1302.7" y2="2818" stroke="#d6dada" stroke-width="3" stroke-linecap="butt"/>
<line x1="1306.4" y1="2778.1" x2="1306.4" y2="2818" stroke="#d6dada" stroke-width="3" stroke-linecap="butt"/>
<line x1="1309.6" y1="2798.2" x2="1309.6" y2="2818" stroke="#d6dada" stroke-width="3" stroke-linecap="butt"/>
<line x1="1313.1" y1="2790.5" x2="1313.1" y2="2818" stroke="#d6dada" stroke-width="3" stroke-linecap="butt"/>
<line x1="1317.5" y1="2778.1" x2="1317.5" y2="2818" stroke="#d6dada" stroke-width="3" stroke-linecap="butt"/>
<line x1="1322.7" y1="2774.8" x2="1322.7" y2="2818" stroke="#d6dada" stroke-width="3" stroke-linecap="butt"/>
<line x1="1327.6" y1="2773.1" x2="1327.6" y2="2818" stroke="#d6dada" stroke-width="3" stroke-linecap="butt"/>
<line x1="1331.9" y1="2775.3" x2="1331.9" y2="2818" stroke="#d6dada" stroke-width="3" stroke-linecap="butt"/>
<line x1="1335.7" y1="2801.3" x2="1335.7" y2="2818" stroke="#d6dada" stroke-width="3" stroke-linecap="butt"/>
<line x1="1341.1" y1="2776.4" x2="1341.1" y2="2818" stroke="#d6dada" stroke-width="3" stroke-linecap="butt"/>
<line x1="1346.7" y1="2771.6" x2="1346.7" y2="2818" stroke="#d6dada" stroke-width="3" stroke-linecap="butt"/>
<line x1="1350.9" y1="2795.5" x2="1350.9" y2="2818" stroke="#d6dada" stroke-width="3" stroke-linecap="butt"/>
<line x1="1355.8" y1="2765.1" x2="1355.8" y2="2818" stroke="#d6dada" stroke-width="3" stroke-linecap="butt"/>
<line x1="1361.8" y1="2768.1" x2="1361.8" y2="2818" stroke="#d6dada" stroke-width="3" stroke-linecap="butt"/>
<line x1="1365.6" y1="2790.6" x2="1365.6" y2="2818" stroke="#d6dada" stroke-width="3" stroke-linecap="butt"/>
<line x1="1369.6" y1="2769.8" x2="1369.6" y2="2818" stroke="#d6dada" stroke-width="3" stroke-linecap="butt"/>
<line x1="1372.8" y1="2760.2" x2="1372.8" y2="2818" stroke="#d6dada" stroke-width="3" stroke-linecap="butt"/>
<line x1="1377.5" y1="2765.7" x2="1377.5" y2="2818" stroke="#d6dada" stroke-width="3" stroke-linecap="butt"/>
<line x1="1382.4" y1="2770.4" x2="1382.4" y2="2818" stroke="#d6dada" stroke-width="3" stroke-linecap="butt"/>
<line x1="1386.7" y1="2796.6" x2="1386.7" y2="2818" stroke="#d6dada" stroke-width="3" stroke-linecap="butt"/>
<line x1="1391.2" y1="2778.1" x2="1391.2" y2="2818" stroke="#d6dada" stroke-width="3" stroke-linecap="butt"/>
<line x1="1396.8" y1="2758.3" x2="1396.8" y2="2818" stroke="#d6dada" stroke-width="3" stroke-linecap="butt"/>
<line x1="1400.2" y1="2793.0" x2="1400.2" y2="2818" stroke="#d6dada" stroke-width="3" stroke-linecap="butt"/>
<line x1="1405.7" y1="2759.0" x2="1405.7" y2="2818" stroke="#d6dada" stroke-width="3" stroke-linecap="butt"/>
<line x1="1409.2" y1="2783.1" x2="1409.2" y2="2818" stroke="#d6dada" stroke-width="3" stroke-linecap="butt"/>
<line x1="1415.1" y1="2753.2" x2="1415.1" y2="2818" stroke="#d6dada" stroke-width="3" stroke-linecap="butt"/>
<line x1="1420.9" y1="2788.9" x2="1420.9" y2="2818" stroke="#d6dada" stroke-width="3" stroke-linecap="butt"/>
<line x1="1425.7" y1="2762.4" x2="1425.7" y2="2818" stroke="#d6dada" stroke-width="3" stroke-linecap="butt"/>
<line x1="1429.0" y1="2739.7" x2="1429.0" y2="2818" stroke="#d6dada" stroke-width="3" stroke-linecap="butt"/>
<line x1="1434.9" y1="2749.2" x2="1434.9" y2="2818" stroke="#d6dada" stroke-width="3" stroke-linecap="butt"/>
<line x1="1440.0" y1="2748.8" x2="1440.0" y2="2818" stroke="#d6dada" stroke-width="3" stroke-linecap="butt"/>
<line x1="1445.5" y1="2768.0" x2="1445.5" y2="2818" stroke="#d6dada" stroke-width="3" stroke-linecap="butt"/>
<line x1="1449.4" y1="2740.8" x2="1449.4" y2="2818" stroke="#d6dada" stroke-width="3" stroke-linecap="butt"/>
<line x1="1454.6" y1="2730.5" x2="1454.6" y2="2818" stroke="#d6dada" stroke-width="3" stroke-linecap="butt"/>
<line x1="1458.2" y1="2761.1" x2="1458.2" y2="2818" stroke="#d6dada" stroke-width="3" stroke-linecap="butt"/>
<line x1="1463.8" y1="2762.5" x2="1463.8" y2="2818" stroke="#d6dada" stroke-width="3" stroke-linecap="butt"/>
<line x1="1467.6" y1="2782.9" x2="1467.6" y2="2818" stroke="#d6dada" stroke-width="3" stroke-linecap="butt"/>
<line x1="1471.3" y1="2714.6" x2="1471.3" y2="2818" stroke="#d6dada" stroke-width="3" stroke-linecap="butt"/>
<line x1="1475.1" y1="2744.8" x2="1475.1" y2="2818" stroke="#d6dada" stroke-width="3" stroke-linecap="butt"/>
<line x1="1478.2" y1="2721.9" x2="1478.2" y2="2818" stroke="#d6dada" stroke-width="3" stroke-linecap="butt"/>
<line x1="1482.3" y1="2751.3" x2="1482.3" y2="2818" stroke="#d6dada" stroke-width="3" stroke-linecap="butt"/>
<line x1="1485.7" y1="2732.4" x2="1485.7" y2="2818" stroke="#d6dada" stroke-width="3" stroke-linecap="butt"/>
<line x1="1491.4" y1="2782.5" x2="1491.4" y2="2818" stroke="#d6dada" stroke-width="3" stroke-linecap="butt"/>
<line x1="1496.4" y1="2755.7" x2="1496.4" y2="2818" stroke="#d6dada" stroke-width="3" stroke-linecap="butt"/>
<line x1="1501.1" y1="2703.9" x2="1501.1" y2="2818" stroke="#d6dada" stroke-width="3" stroke-linecap="butt"/>
<line x1="1504.2" y1="2691.5" x2="1504.2" y2="2818" stroke="#d6dada" stroke-width="3" stroke-linecap="butt"/>
<line x1="1510.0" y1="2753.5" x2="1510.0" y2="2818" stroke="#d6dada" stroke-width="3" stroke-linecap="butt"/>
<line x1="1515.9" y1="2687.5" x2="1515.9" y2="2818" stroke="#d6dada" stroke-width="3" stroke-linecap="butt"/>
<line x1="1520.8" y1="2730.3" x2="1520.8" y2="2818" stroke="#d6dada" stroke-width="3" stroke-linecap="butt"/>
<line x1="1526.0" y1="2713.0" x2="1526.0" y2="2818" stroke="#d6dada" stroke-width="3" stroke-linecap="butt"/>
<line x1="1532.0" y1="2686.9" x2="1532.0" y2="2818" stroke="#d6dada" stroke-width="3" stroke-linecap="butt"/>
<line x1="1536.6" y1="2752.2" x2="1536.6" y2="2818" stroke="#d6dada" stroke-width="3" stroke-linecap="butt"/>
<line x1="1542.3" y1="2751.2" x2="1542.3" y2="2818" stroke="#d6dada" stroke-width="3" stroke-linecap="butt"/>
<line x1="1547.4" y1="2756.2" x2="1547.4" y2="2818" stroke="#d6dada" stroke-width="3" stroke-linecap="butt"/>
<line x1="1553.2" y1="2707.0" x2="1553.2" y2="2818" stroke="#d6dada" stroke-width="3" stroke-linecap="butt"/>
<line x1="1558.2" y1="2764.2" x2="1558.2" y2="2818" stroke="#d6dada" stroke-width="3" stroke-linecap="butt"/>
<line x1="1563.8" y1="2706.3" x2="1563.8" y2="2818" stroke="#d6dada" stroke-width="3" stroke-linecap="butt"/>
<line x1="1569.2" y1="2755.9" x2="1569.2" y2="2818" stroke="#d6dada" stroke-width="3" stroke-linecap="butt"/>
<line x1="1573.9" y1="2724.6" x2="1573.9" y2="2818" stroke="#d6dada" stroke-width="3" stroke-linecap="butt"/>
<line x1="1578.1" y1="2716.9" x2="1578.1" y2="2818" stroke="#d6dada" stroke-width="3" stroke-linecap="butt"/>
<line x1="1582.9" y1="2648.6" x2="1582.9" y2="2818" stroke="#d6dada" stroke-width="3" stroke-linecap="butt"/>
<line x1="1587.8" y1="2766.2" x2="1587.8" y2="2818" stroke="#d6dada" stroke-width="3" stroke-linecap="butt"/>
<line x1="1593.4" y1="2727.9" x2="1593.4" y2="2818" stroke="#d6dada" stroke-width="3" stroke-linecap="butt"/>
<line x1="1597.6" y1="2726.9" x2="1597.6" y2="2818" stroke="#d6dada" stroke-width="3" stroke-linecap="butt"/>
<line x1="1602.4" y1="2682.0" x2="1602.4" y2="2818" stroke="#d6dada" stroke-width="3" stroke-linecap="butt"/>
<line x1="1607.9" y1="2625.3" x2="1607.9" y2="2818" stroke="#d6dada" stroke-width="3" stroke-linecap="butt"/>
<line x1="1613.1" y1="2612.3" x2="1613.1" y2="2818" stroke="#d6dada" stroke-width="3" stroke-linecap="butt"/>
<line x1="1617.9" y1="2678.3" x2="1617.9" y2="2818" stroke="#d6dada" stroke-width="3" stroke-linecap="butt"/>
<line x1="1621.6" y1="2710.5" x2="1621.6" y2="2818" stroke="#d6dada" stroke-width="3" stroke-linecap="butt"/>
<line x1="1626.1" y1="2694.9" x2="1626.1" y2="2818" stroke="#d6dada" stroke-width="3" stroke-linecap="butt"/>
<line x1="1631.9" y1="2632.4" x2="1631.9" y2="2818" stroke="#d6dada" stroke-width="3" stroke-linecap="butt"/>
<line x1="1634.9" y1="2637.6" x2="1634.9" y2="2818" stroke="#d6dada" stroke-width="3" stroke-linecap="butt"/>
<line x1="1639.9" y1="2617.0" x2="1639.9" y2="2818" stroke="#d6dada" stroke-width="3" stroke-linecap="butt"/>
<line x1="1643.4" y1="2736.5" x2="1643.4" y2="2818" stroke="#d6dada" stroke-width="3" stroke-linecap="butt"/>
<line x1="1648.4" y1="2652.6" x2="1648.4" y2="2818" stroke="#d6dada" stroke-width="3" stroke-linecap="butt"/>
<line x1="1654.1" y1="2624.6" x2="1654.1" y2="2818" stroke="#d6dada" stroke-width="3" stroke-linecap="butt"/>
<line x1="1659.1" y1="2592.0" x2="1659.1" y2="2818" stroke="#d6dada" stroke-width="3" stroke-linecap="butt"/>
<line x1="1663.4" y1="2705.3" x2="1663.4" y2="2818" stroke="#d6dada" stroke-width="3" stroke-linecap="butt"/>
<line x1="1669.1" y1="2715.8" x2="1669.1" y2="2818" stroke="#d6dada" stroke-width="3" stroke-linecap="butt"/>
<line x1="1673.3" y1="2649.1" x2="1673.3" y2="2818" stroke="#d6dada" stroke-width="3" stroke-linecap="butt"/>
<line x1="1677.2" y1="2545.8" x2="1677.2" y2="2818" stroke="#d6dada" stroke-width="3" stroke-linecap="butt"/>
<line x1="1681.7" y1="2696.8" x2="1681.7" y2="2818" stroke="#d6dada" stroke-width="3" stroke-linecap="butt"/>
<line x1="1687.3" y1="2662.6" x2="1687.3" y2="2818" stroke="#d6dada" stroke-width="3" stroke-linecap="butt"/>
<line x1="1693.1" y1="2550.4" x2="1693.1" y2="2818" stroke="#d6dada" stroke-width="3" stroke-linecap="butt"/>
<line x1="1696.6" y1="2588.1" x2="1696.6" y2="2818" stroke="#d6dada" stroke-width="3" stroke-linecap="butt"/>
<line x1="1700.5" y1="2521.1" x2="1700.5" y2="2818" stroke="#d6dada" stroke-width="3" stroke-linecap="butt"/>
<line x1="1704.7" y1="2616.1" x2="1704.7" y2="2818" stroke="#d6dada" stroke-width="3" stroke-linecap="butt"/>
<line x1="1709.2" y1="2515.4" x2="1709.2" y2="2818" stroke="#d6dada" stroke-width="3" stroke-linecap="butt"/>
<line x1="1714.7" y1="2699.9" x2="1714.7" y2="2818" stroke="#d6dada" stroke-width="3" stroke-linecap="butt"/>
<line x1="1719.1" y1="2401.8" x2="1719.1" y2="2818" stroke="#d6dada" stroke-width="3" stroke-linecap="butt"/>
<line x1="1722.1" y1="2656.8" x2="1722.1" y2="2818" stroke="#d6dada" stroke-width="3" stroke-linecap="butt"/>
<line x1="1725.3" y1="2602.1" x2="1725.3" y2="2818" stroke="#d6dada" stroke-width="3" stroke-linecap="butt"/>
<line x1="1730.0" y1="2468.3" x2="1730.0" y2="2818" stroke="#d6dada" stroke-width="3" stroke-linecap="butt"/>
<line x1="1735.4" y1="2368.7" x2="1735.4" y2="2818" stroke="#d6dada" stroke-width="3" stroke-linecap="butt"/>
<line x1="1738.8" y1="2512.4" x2="1738.8" y2="2818" stroke="#d6dada" stroke-width="3" stroke-linecap="butt"/>
<line x1="1741.8" y1="2637.3" x2="1741.8" y2="2818" stroke="#d6dada" stroke-width="3" stroke-linecap="butt"/>
<line x1="1745.6" y1="2402.8" x2="1745.6" y2="2818" stroke="#d6dada" stroke-width="3" stroke-linecap="butt"/>
<line x1="1748.7" y1="2567.1" x2="1748.7" y2="2818" stroke="#d6dada" stroke-width="3" stroke-linecap="butt"/>
<line x1="1753.0" y1="2565.7" x2="1753.0" y2="2818" stroke="#d6dada" stroke-width="3" stroke-linecap="butt"/>
<line x1="1758.0" y1="2625.1" x2="1758.0" y2="2818" stroke="#d6dada" stroke-width="3" stroke-linecap="butt"/>
<line x1="1763.9" y1="2570.3" x2="1763.9" y2="2818" stroke="#d6dada" stroke-width="3" stroke-linecap="butt"/>
<line x1="1767.5" y1="2479.9" x2="1767.5" y2="2818" stroke="#d6dada" stroke-width="3" stroke-linecap="butt"/>
<line x1="1771.0" y1="2282.1" x2="1771.0" y2="2818" stroke="#d6dada" stroke-width="3" stroke-linecap="butt"/>
<line x1="1775.4" y1="2547.8" x2="1775.4" y2="2818" stroke="#d6dada" stroke-width="3" stroke-linecap="butt"/>
<line x1="1779.0" y1="2347.0" x2="1779.0" y2="2818" stroke="#d6dada" stroke-width="3" stroke-linecap="butt"/>
<line x1="1783.0" y1="2518.4" x2="1783.0" y2="2818" stroke="#d6dada" stroke-width="3" stroke-linecap="butt"/>
<line x1="1787.6" y1="2500.2" x2="1787.6" y2="2818" stroke="#d6dada" stroke-width="3" stroke-linecap="butt"/>
<line x1="1792.8" y1="2475.2" x2="1792.8" y2="2818" stroke="#d6dada" stroke-width="3" stroke-linecap="butt"/>
<line x1="1798.2" y1="2688.8" x2="1798.2" y2="2818" stroke="#d6dada" stroke-width="3" stroke-linecap="butt"/>
<line x1="1801.5" y1="2707.5" x2="1801.5" y2="2818" stroke="#d6dada" stroke-width="3" stroke-linecap="butt"/>
<line x1="1806.6" y1="2514.7" x2="1806.6" y2="2818" stroke="#d6dada" stroke-width="3" stroke-linecap="butt"/>
<line x1="1811.0" y1="2641.2" x2="1811.0" y2="2818" stroke="#d6dada" stroke-width="3" stroke-linecap="butt"/>
<line x1="1816.7" y1="2591.3" x2="1816.7" y2="2818" stroke="#d6dada" stroke-width="3" stroke-linecap="butt"/>
<line x1="1821.4" y1="2709.6" x2="1821.4" y2="2818" stroke="#d6dada" stroke-width="3" stroke-linecap="butt"/>
<line x1="1826.8" y1="2727.6" x2="1826.8" y2="2818" stroke="#d6dada" stroke-width="3" stroke-linecap="butt"/>
<line x1="1831.2" y1="2671.6" x2="1831.2" y2="2818" stroke="#d6dada" stroke-width="3" stroke-linecap="butt"/>
<line x1="1834.8" y1="2692.4" x2="1834.8" y2="2818" stroke="#d6dada" stroke-width="3" stroke-linecap="butt"/>
<line x1="1840.3" y1="2687.8" x2="1840.3" y2="2818" stroke="#d6dada" stroke-width="3" stroke-linecap="butt"/>
<line x1="1845.4" y1="2628.2" x2="1845.4" y2="2818" stroke="#d6dada" stroke-width="3" stroke-linecap="butt"/>
<line x1="1851.1" y1="2759.5" x2="1851.1" y2="2818" stroke="#d6dada" stroke-width="3" stroke-linecap="butt"/>
<line x1="1857.1" y1="2707.8" x2="1857.1" y2="2818" stroke="#d6dada" stroke-width="3" stroke-linecap="butt"/>
<line x1="1862.4" y1="2700.4" x2="1862.4" y2="2818" stroke="#d6dada" stroke-width="3" stroke-linecap="butt"/>
<line x1="1868.2" y1="2773.6" x2="1868.2" y2="2818" stroke="#d6dada" stroke-width="3" stroke-linecap="butt"/>
<line x1="1872.2" y1="2735.1" x2="1872.2" y2="2818" stroke="#d6dada" stroke-width="3" stroke-linecap="butt"/>
<line x1="1876.5" y1="2781.5" x2="1876.5" y2="2818" stroke="#d6dada" stroke-width="3" stroke-linecap="butt"/>
<line x1="1881.8" y1="2793.7" x2="1881.8" y2="2818" stroke="#d6dada" stroke-width="3" stroke-linecap="butt"/>
<line x1="1884.9" y1="2801.6" x2="1884.9" y2="2818" stroke="#d6dada" stroke-width="3" stroke-linecap="butt"/>
<line x1="1888.1" y1="2801.3" x2="1888.1" y2="2818" stroke="#d6dada" stroke-width="3" stroke-linecap="butt"/>
<line x1="1891.6" y1="2790.0" x2="1891.6" y2="2818" stroke="#d6dada" stroke-width="3" stroke-linecap="butt"/>
<line x1="1897.0" y1="2785.2" x2="1897.0" y2="2818" stroke="#d6dada" stroke-width="3" stroke-linecap="butt"/>
<line x1="1900.4" y1="2794.4" x2="1900.4" y2="2818" stroke="#d6dada" stroke-width="3" stroke-linecap="butt"/>
<line x1="1905.6" y1="2802.3" x2="1905.6" y2="2818" stroke="#d6dada" stroke-width="3" stroke-linecap="butt"/>
<line x1="1910.7" y1="2804.9" x2="1910.7" y2="2818" stroke="#d6dada" stroke-width="3" stroke-linecap="butt"/>
<line x1="1915.2" y1="2805.0" x2="1915.2" y2="2818" stroke="#d6dada" stroke-width="3" stroke-linecap="butt"/>
<line x1="1918.4" y1="2787.2" x2="1918.4" y2="2818" stroke="#d6dada" stroke-width="3" stroke-linecap="butt"/>
<line x1="1923.0" y1="2776.9" x2="1923.0" y2="2818" stroke="#d6dada" stroke-width="3" stroke-linecap="butt"/>
<line x1="1928.2" y1="2775.5" x2="1928.2" y2="2818" stroke="#d6dada" stroke-width="3" stroke-linecap="butt"/>
<line x1="1932.8" y1="2778.0" x2="1932.8" y2="2818" stroke="#d6dada" stroke-width="3" stroke-linecap="butt"/>
<line x1="1937.4" y1="2716.6" x2="1937.4" y2="2818" stroke="#d6dada" stroke-width="3" stroke-linecap="butt"/>
<line x1="1941.6" y1="2754.9" x2="1941.6" y2="2818" stroke="#d6dada" stroke-width="3" stroke-linecap="butt"/>
<line x1="1947.3" y1="2643.5" x2="1947.3" y2="2818" stroke="#d6dada" stroke-width="3" stroke-linecap="butt"/>
<line x1="1952.8" y1="2736.2" x2="1952.8" y2="2818" stroke="#d6dada" stroke-width="3" stroke-linecap="butt"/>
<line x1="1957.4" y1="2607.4" x2="1957.4" y2="2818" stroke="#d6dada" stroke-width="3" stroke-linecap="butt"/>
<line x1="1961.0" y1="2557.6" x2="1961.0" y2="2818" stroke="#d6dada" stroke-width="3" stroke-linecap="butt"/>
<line x1="1965.5" y1="2540.3" x2="1965.5" y2="2818" stroke="#d6dada" stroke-width="3" stroke-linecap="butt"/>
<line x1="1968.6" y1="2678.4" x2="1968.6" y2="2818" stroke="#d6dada" stroke-width="3" stroke-linecap="butt"/>
<line x1="1973.1" y1="2496.2" x2="1973.1" y2="2818" stroke="#d6dada" stroke-width="3" stroke-linecap="butt"/>
<line x1="1978.6" y1="2568.3" x2="1978.6" y2="2818" stroke="#d6dada" stroke-width="3" stroke-linecap="butt"/>
<line x1="1983.0" y1="2620.6" x2="1983.0" y2="2818" stroke="#d6dada" stroke-width="3" stroke-linecap="butt"/>
<line x1="1986.2" y1="2587.2" x2="1986.2" y2="2818" stroke="#d6dada" stroke-width="3" stroke-linecap="butt"/>
<line x1="1990.5" y1="2710.6" x2="1990.5" y2="2818" stroke="#d6dada" stroke-width="3" stroke-linecap="butt"/>
<line x1="1996.2" y1="2555.5" x2="1996.2" y2="2818" stroke="#d6dada" stroke-width="3" stroke-linecap="butt"/>
<line x1="2000.7" y1="2542.5" x2="2000.7" y2="2818" stroke="#d6dada" stroke-width="3" stroke-linecap="butt"/>
<line x1="2005.0" y1="2704.0" x2="2005.0" y2="2818" stroke="#d6dada" stroke-width="3" stroke-linecap="butt"/>
<line x1="2010.7" y1="2644.4" x2="2010.7" y2="2818" stroke="#d6dada" stroke-width="3" stroke-linecap="butt"/>
<line x1="2014.6" y1="2531.1" x2="2014.6" y2="2818" stroke="#d6dada" stroke-width="3" stroke-linecap="butt"/>
<line x1="2019.5" y1="2683.4" x2="2019.5" y2="2818" stroke="#d6dada" stroke-width="3" stroke-linecap="butt"/>
<line x1="2022.8" y1="2614.3" x2="2022.8" y2="2818" stroke="#d6dada" stroke-width="3" stroke-linecap="butt"/>
<line x1="2025.9" y1="2395.4" x2="2025.9" y2="2818" stroke="#d6dada" stroke-width="3" stroke-linecap="butt"/>
<line x1="2029.6" y1="2610.1" x2="2029.6" y2="2818" stroke="#d6dada" stroke-width="3" stroke-linecap="butt"/>
<line x1="2033.6" y1="2568.0" x2="2033.6" y2="2818" stroke="#d6dada" stroke-width="3" stroke-linecap="butt"/>
<line x1="2038.4" y1="2597.1" x2="2038.4" y2="2818" stroke="#d6dada" stroke-width="3" stroke-linecap="butt"/>
<line x1="2043.6" y1="2611.5" x2="2043.6" y2="2818" stroke="#d6dada" stroke-width="3" stroke-linecap="butt"/>
<line x1="2048.1" y1="2612.7" x2="2048.1" y2="2818" stroke="#d6dada" stroke-width="3" stroke-linecap="butt"/>
<line x1="2051.7" y1="2652.1" x2="2051.7" y2="2818" stroke="#d6dada" stroke-width="3" stroke-linecap="butt"/>
<line x1="2056.1" y1="2604.8" x2="2056.1" y2="2818" stroke="#d6dada" stroke-width="3" stroke-linecap="butt"/>
<line x1="2060.3" y1="2623.8" x2="2060.3" y2="2818" stroke="#d6dada" stroke-width="3" stroke-linecap="butt"/>
<line x1="2063.8" y1="2532.8" x2="2063.8" y2="2818" stroke="#d6dada" stroke-width="3" stroke-linecap="butt"/>
<line x1="2068.7" y1="2625.1" x2="2068.7" y2="2818" stroke="#d6dada" stroke-width="3" stroke-linecap="butt"/>
<line x1="2073.3" y1="2677.4" x2="2073.3" y2="2818" stroke="#d6dada" stroke-width="3" stroke-linecap="butt"/>
<line x1="2078.1" y1="2677.1" x2="2078.1" y2="2818" stroke="#d6dada" stroke-width="3" stroke-linecap="butt"/>
<line x1="2081.8" y1="2643.4" x2="2081.8" y2="2818" stroke="#d6dada" stroke-width="3" stroke-linecap="butt"/>
<line x1="2087.2" y1="2686.7" x2="2087.2" y2="2818" stroke="#d6dada" stroke-width="3" stroke-linecap="butt"/>
<line x1="2091.2" y1="2517.6" x2="2091.2" y2="2818" stroke="#d6dada" stroke-width="3" stroke-linecap="butt"/>
<line x1="2096.9" y1="2485.0" x2="2096.9" y2="2818" stroke="#d6dada" stroke-width="3" stroke-linecap="butt"/>
<line x1="1305" y1="2775" x2="1305" y2="2818" stroke="#d4d4d4" stroke-width="6" stroke-linecap="butt"/>
<line x1="1330" y1="2770" x2="1330" y2="2818" stroke="#d4d4d4" stroke-width="6" stroke-linecap="butt"/>
<line x1="1360" y1="2765" x2="1360" y2="2818" stroke="#d4d4d4" stroke-width="6" stroke-linecap="butt"/>
<line x1="1390" y1="2760" x2="1390" y2="2818" stroke="#d4d4d4" stroke-width="6" stroke-linecap="butt"/>
<line x1="1420" y1="2770" x2="1420" y2="2818" stroke="#d4d4d4" stroke-width="6" stroke-linecap="butt"/>
<line x1="1440" y1="2765" x2="1440" y2="2818" stroke="#d4d4d4" stroke-width="6" stroke-linecap="butt"/>
<line x1="1470" y1="2696" x2="1470" y2="2818" stroke="#d4d4d4" stroke-width="6" stroke-linecap="butt"/>
<line x1="1510.8" y1="2672.6" x2="1510.8" y2="2818" stroke="#d4d4d4" stroke-width="6" stroke-linecap="butt"/>
<line x1="1534.4" y1="2657.6" x2="1534.4" y2="2818" stroke="#d4d4d4" stroke-width="6" stroke-linecap="butt"/>
<line x1="1558" y1="2696" x2="1558" y2="2818" stroke="#d4d4d4" stroke-width="6" stroke-linecap="butt"/>
<line x1="1579.5" y1="2677" x2="1579.5" y2="2818" stroke="#d4d4d4" stroke-width="6" stroke-linecap="butt"/>
<line x1="1594.5" y1="2604" x2="1594.5" y2="2818" stroke="#d4d4d4" stroke-width="6" stroke-linecap="butt"/>
<line x1="1611.7" y1="2664" x2="1611.7" y2="2818" stroke="#d4d4d4" stroke-width="6" stroke-linecap="butt"/>
<line x1="1626.7" y1="2604" x2="1626.7" y2="2818" stroke="#d4d4d4" stroke-width="6" stroke-linecap="butt"/>
<line x1="1650.3" y1="2597.5" x2="1650.3" y2="2818" stroke="#d4d4d4" stroke-width="6" stroke-linecap="butt"/>
<line x1="1667.5" y1="2524.5" x2="1667.5" y2="2818" stroke="#d4d4d4" stroke-width="6" stroke-linecap="butt"/>
<line x1="1691" y1="2483.7" x2="1691" y2="2818" stroke="#d4d4d4" stroke-width="6" stroke-linecap="butt"/>
<line x1="1699.7" y1="2511.6" x2="1699.7" y2="2818" stroke="#d4d4d4" stroke-width="6" stroke-linecap="butt"/>
<line x1="1714" y1="2366" x2="1714" y2="2818" stroke="#d4d4d4" stroke-width="6" stroke-linecap="butt"/>
<line x1="1720.3" y1="2350.7" x2="1720.3" y2="2818" stroke="#d4d4d4" stroke-width="6" stroke-linecap="butt"/>
<line x1="1732" y1="2696" x2="1732" y2="2818" stroke="#d4d4d4" stroke-width="6" stroke-linecap="butt"/>
<line x1="1747" y1="2597.5" x2="1747" y2="2818" stroke="#d4d4d4" stroke-width="6" stroke-linecap="butt"/>
<line x1="1763.6" y1="2322.8" x2="1763.6" y2="2818" stroke="#d4d4d4" stroke-width="6" stroke-linecap="butt"/>
<line x1="1783.8" y1="2154" x2="1783.8" y2="2818" stroke="#d4d4d4" stroke-width="6" stroke-linecap="butt"/>
<line x1="1799.3" y1="2468.4" x2="1799.3" y2="2818" stroke="#d4d4d4" stroke-width="6" stroke-linecap="butt"/>
<line x1="1819.4" y1="2518" x2="1819.4" y2="2818" stroke="#d4d4d4" stroke-width="6" stroke-linecap="butt"/>
<line x1="1844.2" y1="2570.6" x2="1844.2" y2="2818" stroke="#d4d4d4" stroke-width="6" stroke-linecap="butt"/>
<line x1="1859.7" y1="2645" x2="1859.7" y2="2818" stroke="#d4d4d4" stroke-width="6" stroke-linecap="butt"/>
<line x1="1880" y1="2790" x2="1880" y2="2818" stroke="#d4d4d4" stroke-width="6" stroke-linecap="butt"/>
<line x1="1890.7" y1="2784.4" x2="1890.7" y2="2818" stroke="#d4d4d4" stroke-width="6" stroke-linecap="butt"/>
<line x1="1905" y1="2790" x2="1905" y2="2818" stroke="#d4d4d4" stroke-width="6" stroke-linecap="butt"/>
<line x1="1927.8" y1="2697.6" x2="1927.8" y2="2818" stroke="#d4d4d4" stroke-width="6" stroke-linecap="butt"/>
<line x1="1946.4" y1="2586" x2="1946.4" y2="2818" stroke="#d4d4d4" stroke-width="6" stroke-linecap="butt"/>
<line x1="1963.5" y1="2288.7" x2="1963.5" y2="2818" stroke="#d4d4d4" stroke-width="6" stroke-linecap="butt"/>
<line x1="1977.4" y1="2434.3" x2="1977.4" y2="2818" stroke="#d4d4d4" stroke-width="6" stroke-linecap="butt"/>
<line x1="1985.1" y1="2440.5" x2="1985.1" y2="2818" stroke="#d4d4d4" stroke-width="6" stroke-linecap="butt"/>
<line x1="2002.2" y1="2567.5" x2="2002.2" y2="2818" stroke="#d4d4d4" stroke-width="6" stroke-linecap="butt"/>
<line x1="2023.9" y1="2282.5" x2="2023.9" y2="2818" stroke="#d4d4d4" stroke-width="6" stroke-linecap="butt"/>
<line x1="2039.4" y1="2635.7" x2="2039.4" y2="2818" stroke="#d4d4d4" stroke-width="6" stroke-linecap="butt"/>
<line x1="2055" y1="2600" x2="2055" y2="2818" stroke="#d4d4d4" stroke-width="6" stroke-linecap="butt"/>
<line x1="2092" y1="2400.2" x2="2092" y2="2818" stroke="#d4d4d4" stroke-width="6" stroke-linecap="butt"/>
<polyline points="401.0,2839.0 600.0,2839.0 700.0,2837.0 800.0,2833.0 850.0,2815.0 870.0,2790.0 880.0,2740.0 890.0,2680.0 897.0,2620.0 902.0,2590.0 905.5,2575.0 910.0,2590.0 916.0,2640.0 922.0,2690.0 928.0,2704.0 951.0,2719.0 969.0,2750.0 981.0,2739.0 996.0,2727.0 1004.0,2742.0 1011.5,2765.0 1026.7,2787.6 1049.4,2818.0 1100.0,2825.5 1108.6,2820.7 1117.3,2834.6 1124.8,2823.9 1132.2,2829.3 1141.0,2828.1 1149.3,2818.4 1155.0,2821.6 1163.7,2822.5 1171.6,2817.2 1176.9,2821.8 1185.2,2829.5 1193.6,2822.2 1201.2,2825.4 1208.5,2819.1 1218.0,2820.6 1227.9,2833.9 1233.0,2825.3 1242.1,2834.4 1249.3,2821.8 1255.3,2834.0 1261.4,2827.5 1267.1,2826.4 1276.9,2819.4 1286.0,2826.2 1295.4,2829.7 1301.6,2833.2 1309.0,2817.4 1314.0,2825.9 1321.3,2822.4 1327.0,2823.2 1333.6,2832.1 1338.6,2830.5 1347.8,2819.2 1357.4,2829.8 1366.9,2822.2 1373.8,2824.1 1383.8,2827.6 1390.6,2824.7 1396.9,2817.9 1402.4,2832.0 1408.9,2833.8 1415.1,2821.8 1422.7,2820.4 1429.5,2834.2 1439.0,2831.6 1447.1,2833.4 1456.8,2826.9 1465.4,2817.9 1474.1,2825.1 1482.8,2828.6 1489.3,2817.9 1498.9,2819.3 1506.3,2823.2 1512.8,2830.3 1522.6,2821.7 1530.9,2822.4 1538.7,2824.1 1544.5,2819.9 1550.6,2833.3 1558.1,2821.0 1567.6,2834.9 1574.8,2819.5 1580.8,2818.6 1587.5,2818.6 1593.7,2821.7 1601.6,2833.0 1610.3,2824.4 1617.4,2826.4 1624.3,2823.1 1629.6,2822.0 1639.4,2819.3 1646.9,2828.3 1656.2,2820.9 1662.6,2821.5 1669.6,2825.0 1679.4,2832.3 1688.7,2817.4 1693.9,2829.8 1703.4,2825.5 1711.3,2817.0 1718.3,2833.7 1727.4,2832.4 1737.3,2821.5 1742.8,2819.8 1750.4,2829.3 1760.1,2830.0 1768.4,2830.8 1775.6,2826.9 1780.8,2831.1 1787.0,2833.6 1795.2,2822.5 1800.9,2821.5 1809.1,2829.6 1814.6,2818.3 1822.2,2827.5 1829.2,2821.0 1837.2,2817.2 1843.7,2825.3 1853.5,2828.6 1862.9,2825.6 1869.1,2821.4 1878.9,2829.7 1885.4,2817.4 1892.9,2829.1 1900.0,2821.6 1908.3,2833.7 1914.5,2817.6 1921.2,2824.6 1929.6,2820.6 1938.6,2830.3 1946.1,2820.7 1955.9,2822.6 1965.0,2821.2 1971.1,2830.7 1977.6,2834.1 1985.1,2820.4 1991.2,2824.5 1999.5,2834.1 2005.3,2824.1 2011.3,2834.5 2017.0,2817.9 2022.3,2824.1 2031.8,2832.9 2040.5,2835.0 2050.2,2822.9 2056.1,2833.8 2064.8,2817.6 2073.1,2823.8 2080.0,2823.0 2085.9,2817.1 2092.3,2823.3 2100.0,2819.2" fill="none" stroke="#d0d0d0" stroke-width="5" stroke-linejoin="round" stroke-linecap="round"/>
<line x1="1168.7" y1="2799.5" x2="1168.7" y2="2815" stroke="#ff4a55" stroke-width="5" stroke-linecap="butt"/>
<line x1="1219" y1="2786.9" x2="1219" y2="2815" stroke="#ff4a55" stroke-width="5" stroke-linecap="butt"/>
<line x1="1262" y1="2807" x2="1262" y2="2815" stroke="#ff4a55" stroke-width="5" stroke-linecap="butt"/>
<line x1="1279.8" y1="2802" x2="1279.8" y2="2815" stroke="#ff4a55" stroke-width="5" stroke-linecap="butt"/>
<line x1="1300" y1="2794.4" x2="1300" y2="2815" stroke="#ff4a55" stroke-width="5" stroke-linecap="butt"/>
<line x1="1325.3" y1="2766.7" x2="1325.3" y2="2815" stroke="#ff4a55" stroke-width="5" stroke-linecap="butt"/>
<line x1="1355.6" y1="2766.7" x2="1355.6" y2="2815" stroke="#ff4a55" stroke-width="5" stroke-linecap="butt"/>
<line x1="1373.2" y1="2751.5" x2="1373.2" y2="2788.8" stroke="#ff4a55" stroke-width="5" stroke-linecap="butt"/>
<line x1="1373.2" y1="2794.6" x2="1373.2" y2="2815" stroke="#ff4a55" stroke-width="5" stroke-linecap="butt"/>
<line x1="1378.3" y1="2726.3" x2="1378.3" y2="2774.0" stroke="#ff4a55" stroke-width="5" stroke-linecap="butt"/>
<line x1="1378.3" y1="2786.1" x2="1378.3" y2="2809.8" stroke="#ff4a55" stroke-width="5" stroke-linecap="butt"/>
<line x1="1416" y1="2781.8" x2="1416" y2="2815" stroke="#ff4a55" stroke-width="5" stroke-linecap="butt"/>
<line x1="1423.7" y1="2776.8" x2="1423.7" y2="2815" stroke="#ff4a55" stroke-width="5" stroke-linecap="butt"/>
<line x1="1444" y1="2761.6" x2="1444" y2="2815" stroke="#ff4a55" stroke-width="5" stroke-linecap="butt"/>
<line x1="1446.4" y1="2760.6" x2="1446.4" y2="2815" stroke="#ff4a55" stroke-width="5" stroke-linecap="butt"/>
<line x1="1470" y1="2760.6" x2="1470" y2="2815" stroke="#ff4a55" stroke-width="5" stroke-linecap="butt"/>
<line x1="1483" y1="2696" x2="1483" y2="2741.3" stroke="#ff4a55" stroke-width="5" stroke-linecap="butt"/>
<line x1="1483" y1="2769.1" x2="1483" y2="2806.9" stroke="#ff4a55" stroke-width="5" stroke-linecap="butt"/>
<line x1="1491.5" y1="2700.5" x2="1491.5" y2="2765.1" stroke="#ff4a55" stroke-width="5" stroke-linecap="butt"/>
<line x1="1491.5" y1="2771.5" x2="1491.5" y2="2815" stroke="#ff4a55" stroke-width="5" stroke-linecap="butt"/>
<line x1="1504.4" y1="2732.7" x2="1504.4" y2="2775.4" stroke="#ff4a55" stroke-width="5" stroke-linecap="butt"/>
<line x1="1504.4" y1="2780.1" x2="1504.4" y2="2801.7" stroke="#ff4a55" stroke-width="5" stroke-linecap="butt"/>
<line x1="1504.4" y1="2806.9" x2="1504.4" y2="2815" stroke="#ff4a55" stroke-width="5" stroke-linecap="butt"/>
<line x1="1508.7" y1="2685.5" x2="1508.7" y2="2751.7" stroke="#ff4a55" stroke-width="5" stroke-linecap="butt"/>
<line x1="1508.7" y1="2781.5" x2="1508.7" y2="2815" stroke="#ff4a55" stroke-width="5" stroke-linecap="butt"/>
<line x1="1513" y1="2713.4" x2="1513" y2="2772.9" stroke="#ff4a55" stroke-width="5" stroke-linecap="butt"/>
<line x1="1513" y1="2790.5" x2="1513" y2="2815" stroke="#ff4a55" stroke-width="5" stroke-linecap="butt"/>
<line x1="1534.4" y1="2696" x2="1534.4" y2="2738.9" stroke="#ff4a55" stroke-width="5" stroke-linecap="butt"/>
<line x1="1534.4" y1="2751.4" x2="1534.4" y2="2781.3" stroke="#ff4a55" stroke-width="5" stroke-linecap="butt"/>
<line x1="1534.4" y1="2805.3" x2="1534.4" y2="2815" stroke="#ff4a55" stroke-width="5" stroke-linecap="butt"/>
<line x1="1538.7" y1="2732.7" x2="1538.7" y2="2780.4" stroke="#ff4a55" stroke-width="5" stroke-linecap="butt"/>
<line x1="1538.7" y1="2785.0" x2="1538.7" y2="2812.3" stroke="#ff4a55" stroke-width="5" stroke-linecap="butt"/>
<line x1="1556" y1="2713.4" x2="1556" y2="2772.8" stroke="#ff4a55" stroke-width="5" stroke-linecap="butt"/>
<line x1="1556" y1="2797.3" x2="1556" y2="2815" stroke="#ff4a55" stroke-width="5" stroke-linecap="butt"/>
<line x1="1571" y1="2692" x2="1571" y2="2741.3" stroke="#ff4a55" stroke-width="5" stroke-linecap="butt"/>
<line x1="1571" y1="2759.5" x2="1571" y2="2815" stroke="#ff4a55" stroke-width="5" stroke-linecap="butt"/>
<line x1="1581.7" y1="2689.8" x2="1581.7" y2="2756.3" stroke="#ff4a55" stroke-width="5" stroke-linecap="butt"/>
<line x1="1581.7" y1="2781.0" x2="1581.7" y2="2815" stroke="#ff4a55" stroke-width="5" stroke-linecap="butt"/>
<line x1="1590" y1="2636" x2="1590" y2="2718.8" stroke="#ff4a55" stroke-width="5" stroke-linecap="butt"/>
<line x1="1590" y1="2739.5" x2="1590" y2="2804.2" stroke="#ff4a55" stroke-width="5" stroke-linecap="butt"/>
<line x1="1598.8" y1="2649" x2="1598.8" y2="2735.9" stroke="#ff4a55" stroke-width="5" stroke-linecap="butt"/>
<line x1="1598.8" y1="2746.9" x2="1598.8" y2="2799.8" stroke="#ff4a55" stroke-width="5" stroke-linecap="butt"/>
<line x1="1607.4" y1="2713.4" x2="1607.4" y2="2747.6" stroke="#ff4a55" stroke-width="5" stroke-linecap="butt"/>
<line x1="1607.4" y1="2754.0" x2="1607.4" y2="2780.6" stroke="#ff4a55" stroke-width="5" stroke-linecap="butt"/>
<line x1="1607.4" y1="2796.9" x2="1607.4" y2="2815" stroke="#ff4a55" stroke-width="5" stroke-linecap="butt"/>
<line x1="1616" y1="2717.7" x2="1616" y2="2772.1" stroke="#ff4a55" stroke-width="5" stroke-linecap="butt"/>
<line x1="1616" y1="2796.2" x2="1616" y2="2815" stroke="#ff4a55" stroke-width="5" stroke-linecap="butt"/>
<line x1="1624.6" y1="2616.8" x2="1624.6" y2="2673.0" stroke="#ff4a55" stroke-width="5" stroke-linecap="butt"/>
<line x1="1624.6" y1="2702.7" x2="1624.6" y2="2801.5" stroke="#ff4a55" stroke-width="5" stroke-linecap="butt"/>
<line x1="1631" y1="2621" x2="1631" y2="2685.4" stroke="#ff4a55" stroke-width="5" stroke-linecap="butt"/>
<line x1="1631" y1="2711.3" x2="1631" y2="2801.9" stroke="#ff4a55" stroke-width="5" stroke-linecap="butt"/>
<line x1="1644" y1="2636" x2="1644" y2="2727.6" stroke="#ff4a55" stroke-width="5" stroke-linecap="butt"/>
<line x1="1644" y1="2766.9" x2="1644" y2="2815" stroke="#ff4a55" stroke-width="5" stroke-linecap="butt"/>
<line x1="1652.5" y1="2621" x2="1652.5" y2="2726.6" stroke="#ff4a55" stroke-width="5" stroke-linecap="butt"/>
<line x1="1652.5" y1="2747.7" x2="1652.5" y2="2815" stroke="#ff4a55" stroke-width="5" stroke-linecap="butt"/>
<line x1="1659" y1="2646.8" x2="1659" y2="2732.3" stroke="#ff4a55" stroke-width="5" stroke-linecap="butt"/>
<line x1="1659" y1="2747.4" x2="1659" y2="2804.0" stroke="#ff4a55" stroke-width="5" stroke-linecap="butt"/>
<line x1="1663.2" y1="2548" x2="1663.2" y2="2629.1" stroke="#ff4a55" stroke-width="5" stroke-linecap="butt"/>
<line x1="1663.2" y1="2689.6" x2="1663.2" y2="2810.4" stroke="#ff4a55" stroke-width="5" stroke-linecap="butt"/>
<line x1="1667.5" y1="2586.7" x2="1667.5" y2="2675.4" stroke="#ff4a55" stroke-width="5" stroke-linecap="butt"/>
<line x1="1667.5" y1="2732.2" x2="1667.5" y2="2815" stroke="#ff4a55" stroke-width="5" stroke-linecap="butt"/>
<line x1="1671.8" y1="2552.4" x2="1671.8" y2="2692.4" stroke="#ff4a55" stroke-width="5" stroke-linecap="butt"/>
<line x1="1671.8" y1="2739.8" x2="1671.8" y2="2815" stroke="#ff4a55" stroke-width="5" stroke-linecap="butt"/>
<line x1="1686.8" y1="2548" x2="1686.8" y2="2659.1" stroke="#ff4a55" stroke-width="5" stroke-linecap="butt"/>
<line x1="1686.8" y1="2716.2" x2="1686.8" y2="2815" stroke="#ff4a55" stroke-width="5" stroke-linecap="butt"/>
<line x1="1695.4" y1="2561" x2="1695.4" y2="2628.1" stroke="#ff4a55" stroke-width="5" stroke-linecap="butt"/>
<line x1="1695.4" y1="2655.7" x2="1695.4" y2="2729.8" stroke="#ff4a55" stroke-width="5" stroke-linecap="butt"/>
<line x1="1695.4" y1="2752.1" x2="1695.4" y2="2815" stroke="#ff4a55" stroke-width="5" stroke-linecap="butt"/>
<line x1="1704" y1="2623.2" x2="1704" y2="2733.6" stroke="#ff4a55" stroke-width="5" stroke-linecap="butt"/>
<line x1="1704" y1="2757.5" x2="1704" y2="2815" stroke="#ff4a55" stroke-width="5" stroke-linecap="butt"/>
<line x1="1710.4" y1="2449.4" x2="1710.4" y2="2574.1" stroke="#ff4a55" stroke-width="5" stroke-linecap="butt"/>
<line x1="1710.4" y1="2649.2" x2="1710.4" y2="2815" stroke="#ff4a55" stroke-width="5" stroke-linecap="butt"/>
<line x1="1719" y1="2569.6" x2="1719" y2="2682.2" stroke="#ff4a55" stroke-width="5" stroke-linecap="butt"/>
<line x1="1719" y1="2724.9" x2="1719" y2="2804.9" stroke="#ff4a55" stroke-width="5" stroke-linecap="butt"/>
<line x1="1723.3" y1="2434.3" x2="1723.3" y2="2548.3" stroke="#ff4a55" stroke-width="5" stroke-linecap="butt"/>
<line x1="1723.3" y1="2582.9" x2="1723.3" y2="2712.0" stroke="#ff4a55" stroke-width="5" stroke-linecap="butt"/>
<line x1="1723.3" y1="2776.7" x2="1723.3" y2="2815" stroke="#ff4a55" stroke-width="5" stroke-linecap="butt"/>
<line x1="1727.6" y1="2734.8" x2="1727.6" y2="2755.2" stroke="#ff4a55" stroke-width="5" stroke-linecap="butt"/>
<line x1="1727.6" y1="2764.4" x2="1727.6" y2="2803.5" stroke="#ff4a55" stroke-width="5" stroke-linecap="butt"/>
<line x1="1727.6" y1="2810.5" x2="1727.6" y2="2815" stroke="#ff4a55" stroke-width="5" stroke-linecap="butt"/>
<line x1="1740.5" y1="2741.3" x2="1740.5" y2="2780.2" stroke="#ff4a55" stroke-width="5" stroke-linecap="butt"/>
<line x1="1740.5" y1="2792.0" x2="1740.5" y2="2812.1" stroke="#ff4a55" stroke-width="5" stroke-linecap="butt"/>
<line x1="1744.8" y1="2625.4" x2="1744.8" y2="2699.0" stroke="#ff4a55" stroke-width="5" stroke-linecap="butt"/>
<line x1="1744.8" y1="2729.4" x2="1744.8" y2="2815" stroke="#ff4a55" stroke-width="5" stroke-linecap="butt"/>
<line x1="1751.2" y1="2700.5" x2="1751.2" y2="2735.7" stroke="#ff4a55" stroke-width="5" stroke-linecap="butt"/>
<line x1="1751.2" y1="2757.3" x2="1751.2" y2="2802.4" stroke="#ff4a55" stroke-width="5" stroke-linecap="butt"/>
<line x1="1751.2" y1="2814.6" x2="1751.2" y2="2815" stroke="#ff4a55" stroke-width="5" stroke-linecap="butt"/>
<line x1="1759.8" y1="2408.6" x2="1759.8" y2="2554.6" stroke="#ff4a55" stroke-width="5" stroke-linecap="butt"/>
<line x1="1759.8" y1="2621.0" x2="1759.8" y2="2773.4" stroke="#ff4a55" stroke-width="5" stroke-linecap="butt"/>
<line x1="1764" y1="2528.8" x2="1764" y2="2686.9" stroke="#ff4a55" stroke-width="5" stroke-linecap="butt"/>
<line x1="1764" y1="2758.3" x2="1764" y2="2815" stroke="#ff4a55" stroke-width="5" stroke-linecap="butt"/>
<line x1="1768.4" y1="2421.5" x2="1768.4" y2="2620.1" stroke="#ff4a55" stroke-width="5" stroke-linecap="butt"/>
<line x1="1768.4" y1="2655.8" x2="1768.4" y2="2755.0" stroke="#ff4a55" stroke-width="5" stroke-linecap="butt"/>
<line x1="1776" y1="2524" x2="1776" y2="2639.9" stroke="#ff4a55" stroke-width="5" stroke-linecap="butt"/>
<line x1="1776" y1="2702.2" x2="1776" y2="2815" stroke="#ff4a55" stroke-width="5" stroke-linecap="butt"/>
<line x1="1780.7" y1="2254.6" x2="1780.7" y2="2282" stroke="#ff4a55" stroke-width="5" stroke-linecap="butt"/>
<line x1="1780.7" y1="2560" x2="1780.7" y2="2815" stroke="#ff4a55" stroke-width="5" stroke-linecap="butt"/>
<line x1="1790" y1="2629.5" x2="1790" y2="2705.8" stroke="#ff4a55" stroke-width="5" stroke-linecap="butt"/>
<line x1="1790" y1="2721.1" x2="1790" y2="2768.4" stroke="#ff4a55" stroke-width="5" stroke-linecap="butt"/>
<line x1="1790" y1="2798.2" x2="1790" y2="2815" stroke="#ff4a55" stroke-width="5" stroke-linecap="butt"/>
<line x1="1796.2" y1="2505.5" x2="1796.2" y2="2592.5" stroke="#ff4a55" stroke-width="5" stroke-linecap="butt"/>
<line x1="1796.2" y1="2646.5" x2="1796.2" y2="2764.1" stroke="#ff4a55" stroke-width="5" stroke-linecap="butt"/>
<line x1="1796.2" y1="2810.8" x2="1796.2" y2="2815" stroke="#ff4a55" stroke-width="5" stroke-linecap="butt"/>
<line x1="1800.8" y1="2573.7" x2="1800.8" y2="2678.0" stroke="#ff4a55" stroke-width="5" stroke-linecap="butt"/>
<line x1="1800.8" y1="2734.8" x2="1800.8" y2="2804.3" stroke="#ff4a55" stroke-width="5" stroke-linecap="butt"/>
<line x1="1804" y1="2521" x2="1804" y2="2677.3" stroke="#ff4a55" stroke-width="5" stroke-linecap="butt"/>
<line x1="1804" y1="2748.9" x2="1804" y2="2815" stroke="#ff4a55" stroke-width="5" stroke-linecap="butt"/>
<line x1="1816.3" y1="2567.5" x2="1816.3" y2="2711.1" stroke="#ff4a55" stroke-width="5" stroke-linecap="butt"/>
<line x1="1816.3" y1="2771.7" x2="1816.3" y2="2815" stroke="#ff4a55" stroke-width="5" stroke-linecap="butt"/>
<line x1="1821" y1="2611" x2="1821" y2="2728.1" stroke="#ff4a55" stroke-width="5" stroke-linecap="butt"/>
<line x1="1821" y1="2754.2" x2="1821" y2="2815" stroke="#ff4a55" stroke-width="5" stroke-linecap="butt"/>
<line x1="1839.5" y1="2635.7" x2="1839.5" y2="2732.3" stroke="#ff4a55" stroke-width="5" stroke-linecap="butt"/>
<line x1="1839.5" y1="2747.0" x2="1839.5" y2="2815" stroke="#ff4a55" stroke-width="5" stroke-linecap="butt"/>
<line x1="1847.3" y1="2641.8" x2="1847.3" y2="2709.6" stroke="#ff4a55" stroke-width="5" stroke-linecap="butt"/>
<line x1="1847.3" y1="2747.6" x2="1847.3" y2="2815" stroke="#ff4a55" stroke-width="5" stroke-linecap="butt"/>
<line x1="1856.6" y1="2703.8" x2="1856.6" y2="2740.1" stroke="#ff4a55" stroke-width="5" stroke-linecap="butt"/>
<line x1="1856.6" y1="2754.5" x2="1856.6" y2="2802.5" stroke="#ff4a55" stroke-width="5" stroke-linecap="butt"/>
<line x1="1862.8" y1="2759.6" x2="1862.8" y2="2815" stroke="#ff4a55" stroke-width="5" stroke-linecap="butt"/>
<line x1="1927.8" y1="2744" x2="1927.8" y2="2764.8" stroke="#ff4a55" stroke-width="5" stroke-linecap="butt"/>
<line x1="1927.8" y1="2771.9" x2="1927.8" y2="2807.6" stroke="#ff4a55" stroke-width="5" stroke-linecap="butt"/>
<line x1="1940.2" y1="2691.4" x2="1940.2" y2="2724.1" stroke="#ff4a55" stroke-width="5" stroke-linecap="butt"/>
<line x1="1940.2" y1="2744.2" x2="1940.2" y2="2807.8" stroke="#ff4a55" stroke-width="5" stroke-linecap="butt"/>
<line x1="1940.2" y1="2814.9" x2="1940.2" y2="2815" stroke="#ff4a55" stroke-width="5" stroke-linecap="butt"/>
<line x1="1955.7" y1="2651" x2="1955.7" y2="2726.4" stroke="#ff4a55" stroke-width="5" stroke-linecap="butt"/>
<line x1="1955.7" y1="2752.7" x2="1955.7" y2="2815" stroke="#ff4a55" stroke-width="5" stroke-linecap="butt"/>
<line x1="1960.4" y1="2338.3" x2="1960.4" y2="2470" stroke="#ff4a55" stroke-width="5" stroke-linecap="butt"/>
<line x1="1960.4" y1="2540" x2="1960.4" y2="2815" stroke="#ff4a55" stroke-width="5" stroke-linecap="butt"/>
<line x1="1963.5" y1="2533.4" x2="1963.5" y2="2645.2" stroke="#ff4a55" stroke-width="5" stroke-linecap="butt"/>
<line x1="1963.5" y1="2692.1" x2="1963.5" y2="2804.5" stroke="#ff4a55" stroke-width="5" stroke-linecap="butt"/>
<line x1="1968" y1="2341.4" x2="1968" y2="2533.9" stroke="#ff4a55" stroke-width="5" stroke-linecap="butt"/>
<line x1="1968" y1="2599.1" x2="1968" y2="2721.3" stroke="#ff4a55" stroke-width="5" stroke-linecap="butt"/>
<line x1="1968" y1="2803.6" x2="1968" y2="2815" stroke="#ff4a55" stroke-width="5" stroke-linecap="butt"/>
<line x1="1975.8" y1="2632.6" x2="1975.8" y2="2726.9" stroke="#ff4a55" stroke-width="5" stroke-linecap="butt"/>
<line x1="1975.8" y1="2764.5" x2="1975.8" y2="2815" stroke="#ff4a55" stroke-width="5" stroke-linecap="butt"/>
<line x1="1985.1" y1="2545.8" x2="1985.1" y2="2657.7" stroke="#ff4a55" stroke-width="5" stroke-linecap="butt"/>
<line x1="1985.1" y1="2676.9" x2="1985.1" y2="2756.3" stroke="#ff4a55" stroke-width="5" stroke-linecap="butt"/>
<line x1="1985.1" y1="2793.0" x2="1985.1" y2="2815" stroke="#ff4a55" stroke-width="5" stroke-linecap="butt"/>
<line x1="1996" y1="2604.7" x2="1996" y2="2694.8" stroke="#ff4a55" stroke-width="5" stroke-linecap="butt"/>
<line x1="1996" y1="2707.1" x2="1996" y2="2806.5" stroke="#ff4a55" stroke-width="5" stroke-linecap="butt"/>
<line x1="2002.2" y1="2679" x2="2002.2" y2="2747.9" stroke="#ff4a55" stroke-width="5" stroke-linecap="butt"/>
<line x1="2002.2" y1="2775.9" x2="2002.2" y2="2815" stroke="#ff4a55" stroke-width="5" stroke-linecap="butt"/>
<line x1="2016" y1="2592.3" x2="2016" y2="2687.3" stroke="#ff4a55" stroke-width="5" stroke-linecap="butt"/>
<line x1="2016" y1="2715.2" x2="2016" y2="2815" stroke="#ff4a55" stroke-width="5" stroke-linecap="butt"/>
<line x1="2020.8" y1="2369.2" x2="2020.8" y2="2400" stroke="#ff4a55" stroke-width="5" stroke-linecap="butt"/>
<line x1="2020.8" y1="2600" x2="2020.8" y2="2815" stroke="#ff4a55" stroke-width="5" stroke-linecap="butt"/>
<line x1="2027" y1="2607.8" x2="2027" y2="2721.8" stroke="#ff4a55" stroke-width="5" stroke-linecap="butt"/>
<line x1="2027" y1="2773.4" x2="2027" y2="2815" stroke="#ff4a55" stroke-width="5" stroke-linecap="butt"/>
<line x1="2045.6" y1="2694.5" x2="2045.6" y2="2732.8" stroke="#ff4a55" stroke-width="5" stroke-linecap="butt"/>
<line x1="2045.6" y1="2762.5" x2="2045.6" y2="2813.3" stroke="#ff4a55" stroke-width="5" stroke-linecap="butt"/>
<line x1="2064" y1="2651" x2="2064" y2="2744.6" stroke="#ff4a55" stroke-width="5" stroke-linecap="butt"/>
<line x1="2064" y1="2758.2" x2="2064" y2="2815" stroke="#ff4a55" stroke-width="5" stroke-linecap="butt"/>
<line x1="2068.8" y1="2524" x2="2068.8" y2="2603.4" stroke="#ff4a55" stroke-width="5" stroke-linecap="butt"/>
<line x1="2068.8" y1="2638.4" x2="2068.8" y2="2788.2" stroke="#ff4a55" stroke-width="5" stroke-linecap="butt"/>
<line x1="2068.8" y1="2812.0" x2="2068.8" y2="2815" stroke="#ff4a55" stroke-width="5" stroke-linecap="butt"/>
<line x1="2073.4" y1="2431.2" x2="2073.4" y2="2636.7" stroke="#ff4a55" stroke-width="5" stroke-linecap="butt"/>
<line x1="2073.4" y1="2666.9" x2="2073.4" y2="2815" stroke="#ff4a55" stroke-width="5" stroke-linecap="butt"/>
<line x1="2079.6" y1="2533.4" x2="2079.6" y2="2624.3" stroke="#ff4a55" stroke-width="5" stroke-linecap="butt"/>
<line x1="2079.6" y1="2653.2" x2="2079.6" y2="2773.5" stroke="#ff4a55" stroke-width="5" stroke-linecap="butt"/>
<line x1="2079.6" y1="2805.5" x2="2079.6" y2="2815" stroke="#ff4a55" stroke-width="5" stroke-linecap="butt"/>
<line x1="2089" y1="2415.7" x2="2089" y2="2538.1" stroke="#ff4a55" stroke-width="5" stroke-linecap="butt"/>
<line x1="2089" y1="2632.8" x2="2089" y2="2815" stroke="#ff4a55" stroke-width="5" stroke-linecap="butt"/>
<line x1="2096.7" y1="2409.5" x2="2096.7" y2="2534.8" stroke="#ff4a55" stroke-width="5" stroke-linecap="butt"/>
<line x1="2096.7" y1="2618.8" x2="2096.7" y2="2736.5" stroke="#ff4a55" stroke-width="5" stroke-linecap="butt"/>
<line x1="2096.7" y1="2799.8" x2="2096.7" y2="2815" stroke="#ff4a55" stroke-width="5" stroke-linecap="butt"/>
<polyline points="401.0,2835.6 414.8,2831.0 446.4,2827.7 478.0,2827.7 494.0,2832.4" fill="none" stroke="#ff0000" stroke-width="6" stroke-linejoin="round" stroke-linecap="round"/>
<polyline points="494.0,2832.0 560.0,2830.0 626.0,2831.0" fill="none" stroke="#ff0000" stroke-width="6" stroke-linejoin="round" stroke-linecap="round" stroke-dasharray="22,12"/>
<polyline points="626.7,2831.0 661.5,2827.7 674.0,2824.5 683.6,2827.7 715.0,2832.4 728.0,2827.7 740.5,2832.4 756.4,2821.4 762.7,2826.0 822.8,2834.0 841.8,2818.2 854.4,2827.7 860.0,2825.5 867.6,2817.9 873.4,2802.4 879.7,2783.4 887.3,2763.0 895.5,2752.0 901.0,2734.5 905.5,2721.0 907.0,2695.2 911.5,2701.2 916.0,2727.0 917.6,2748.2 923.6,2752.7 940.3,2746.7 946.4,2760.3 954.0,2769.4 957.0,2781.5 966.0,2784.5 973.6,2772.4 979.7,2781.5 993.3,2781.5 1001.0,2796.7 1008.5,2792.1 1011.5,2799.7 1020.6,2802.7 1031.2,2804.2 1041.8,2798.2 1054.0,2811.8 1070.6,2819.4 1090.0,2822.0 1120.0,2820.0 1151.0,2814.6" fill="none" stroke="#ff0000" stroke-width="6" stroke-linejoin="round" stroke-linecap="round"/>
<polyline points="1156.3,2816.0 1165.1,2809.6 1173.8,2823.7 1182.5,2807.5 1187.6,2803.9 1192.6,2803.3 1199.7,2821.4 1207.9,2810.5 1215.2,2818.8 1219.6,2815.2 1228.2,2818.3 1235.9,2810.4 1240.8,2818.5 1246.5,2818.8 1255.3,2808.3 1261.4,2822.6 1269.0,2802.4 1273.6,2801.9 1282.1,2819.0 1286.9,2819.5 1295.8,2815.1 1301.5,2812.3 1306.2,2798.4 1315.0,2814.9 1321.7,2822.3 1327.8,2820.7 1336.0,2803.5 1341.2,2805.6 1346.4,2813.2 1351.7,2808.9 1356.4,2821.7 1362.1,2809.9 1369.1,2821.5 1375.2,2821.9 1381.7,2811.8 1388.3,2798.5 1394.5,2802.8 1398.5,2818.8 1403.4,2810.3 1411.0,2812.5 1416.6,2811.5 1423.4,2818.4 1427.9,2812.6 1433.2,2805.2 1441.0,2811.2 1447.9,2817.8 1456.4,2809.5 1463.5,2811.1 1470.0,2816.0 1476.3,2811.9 1482.7,2822.5 1490.2,2820.8 1498.9,2804.7 1505.7,2822.5 1513.9,2801.6 1518.5,2809.5 1522.9,2804.3 1527.2,2815.4 1535.2,2821.3 1539.9,2816.6 1547.2,2801.7 1555.6,2823.2 1560.7,2822.8 1566.7,2810.7 1575.7,2819.6 1580.5,2809.2 1587.1,2806.8 1592.0,2806.3 1599.7,2798.5 1606.4,2809.5 1610.5,2806.6 1617.6,2811.3 1622.0,2823.6 1629.9,2823.3 1634.4,2804.9 1638.6,2818.3 1644.0,2801.4 1650.1,2821.7 1658.2,2804.7 1662.9,2821.9 1669.8,2816.2 1674.2,2799.5 1681.7,2809.1 1686.0,2822.4 1693.2,2818.8 1697.6,2820.3 1702.0,2820.4 1708.2,2806.8 1715.0,2822.1 1720.3,2801.4 1727.0,2804.2 1731.5,2802.2 1735.8,2803.2 1741.3,2805.9 1749.1,2805.5 1755.6,2802.6 1761.4,2798.5 1766.6,2798.4 1774.3,2812.3 1779.2,2810.3 1787.9,2800.8 1796.0,2809.2 1802.5,2819.7 1808.4,2811.2 1815.9,2823.5 1821.6,2819.6 1829.1,2814.5 1835.1,2807.0 1839.4,2801.4 1843.8,2817.3 1849.0,2802.2 1853.5,2819.9 1861.8,2815.4 1867.2,2804.3 1872.7,2809.9 1877.5,2809.6 1882.8,2823.0 1891.7,2812.2 1896.9,2823.1 1902.4,2807.3 1906.4,2807.9 1912.8,2811.1 1917.8,2811.1 1921.8,2804.9 1926.3,2808.4 1930.5,2798.6 1936.0,2804.1 1942.9,2811.8 1950.7,2815.1 1958.3,2820.9 1964.2,2806.5 1973.1,2801.9 1980.8,2814.7 1985.0,2819.7 1993.4,2814.3 2001.1,2819.1 2005.8,2811.6 2012.3,2819.7 2020.4,2819.5 2027.3,2821.2 2034.7,2816.0 2039.8,2798.8 2044.5,2807.4 2049.0,2819.7 2055.8,2814.3 2063.0,2815.7 2069.4,2798.1 2077.4,2817.5 2083.9,2811.9 2091.2,2799.7 2098.9,2804.6 2100.0,2804.9" fill="none" stroke="#ff3030" stroke-width="5" stroke-linejoin="round" stroke-linecap="round" stroke-dasharray="10,9"/>
<polyline points="401.0,2837.0 588.8,2834.0" fill="none" stroke="#0000ff" stroke-width="6.5" stroke-linejoin="round" stroke-linecap="round" stroke-dasharray="14,7"/>
<polyline points="588.8,2834.0 620.4,2831.0 626.7,2821.4 639.4,2818.2 648.8,2827.7 664.6,2818.2 674.0,2815.0 683.6,2821.4 696.3,2827.7 712.0,2835.6 756.4,2835.6 762.7,2829.3 807.0,2827.7 819.6,2821.4 829.0,2815.0 841.8,2796.0 854.4,2777.0" fill="none" stroke="#0000ff" stroke-width="6.5" stroke-linejoin="round" stroke-linecap="round"/>
<polyline points="854.4,2777.0 863.0,2766.0 870.0,2745.0 875.0,2710.0 880.0,2680.0 884.0,2645.0 889.0,2625.0 893.0,2597.0 897.0,2580.0 899.0,2565.0" fill="none" stroke="#0000ff" stroke-width="6.5" stroke-linejoin="round" stroke-linecap="round" stroke-dasharray="5,8"/>
<polyline points="897.0,2580.0 899.0,2565.0 905.5,2551.0 914.5,2560.3 914.5,2598.2 919.0,2605.8 919.0,2628.5 922.0,2633.0 922.0,2669.4 931.2,2672.4 938.8,2678.5 943.3,2693.6 949.4,2702.7 949.4,2721.0 957.0,2727.0 966.0,2740.6 969.0,2727.0 981.2,2717.9 987.3,2722.4 999.4,2722.4 1002.4,2705.8 1008.5,2704.2 1011.5,2714.8 1017.6,2730.0 1025.0,2745.0 1029.7,2766.4 1035.8,2784.5 1050.9,2787.6 1055.5,2799.7 1064.5,2802.7 1072.0,2807.3 1090.3,2805.8 1100.5,2812.0 1108.0,2827.0 1120.7,2819.7 1133.3,2816.0 1153.5,2822.2 1158.6,2828.5 1168.7,2817.2 1186.4,2810.9 1201.5,2822.2 1214.0,2824.7 1226.8,2828.5 1236.9,2819.7 1252.0,2824.7 1259.6,2829.8 1277.3,2823.5 1302.5,2817.2 1315.0,2827.3 1327.8,2814.6 1340.4,2812.0 1358.0,2809.6 1365.7,2827.3 1378.3,2807.0 1391.0,2817.2 1396.0,2832.3 1411.0,2827.3 1421.0,2807.0 1438.9,2812.0 1450.0,2819.7" fill="none" stroke="#0000ff" stroke-width="6.5" stroke-linejoin="round" stroke-linecap="round"/>
<polyline points="1450.0,2819.7 1456.6,2817.0 1464.9,2815.4 1472.6,2821.3 1477.8,2824.1 1483.0,2822.7 1488.4,2815.8 1495.5,2830.5 1501.1,2818.5 1509.3,2833.0 1517.1,2821.9 1527.0,2814.9 1536.3,2819.8 1542.0,2816.4 1548.6,2830.3 1554.5,2825.6 1562.7,2821.4 1570.4,2815.3 1575.7,2818.1 1584.1,2822.6 1590.7,2825.7 1598.0,2820.0 1606.9,2828.0 1613.1,2825.5 1620.8,2831.5 1629.4,2819.8 1639.3,2816.4 1646.4,2829.1 1652.2,2823.8 1657.4,2827.4 1666.2,2825.5 1675.6,2820.3 1684.0,2825.9 1691.9,2823.1 1701.1,2832.9 1708.5,2827.3 1713.8,2828.0 1722.1,2833.9 1731.2,2819.7 1738.1,2827.4 1743.2,2823.2 1749.0,2816.3 1754.3,2829.4 1760.0,2819.0 1766.9,2831.4 1772.3,2823.0 1780.1,2831.7 1789.2,2831.3 1795.6,2822.3 1802.4,2831.7 1812.2,2817.0 1818.0,2818.6 1824.2,2823.7 1832.2,2819.3 1837.2,2822.4 1844.0,2825.3 1853.8,2827.8 1861.4,2826.4 1869.7,2815.1 1879.2,2829.6 1888.6,2830.0 1895.6,2822.0 1901.1,2826.7 1906.4,2815.3 1912.5,2817.2 1919.2,2815.1 1924.2,2817.0 1929.7,2821.3 1934.8,2831.5 1942.9,2817.0 1949.1,2820.9 1955.9,2816.5 1965.2,2833.9 1972.5,2823.7 1977.9,2816.0 1984.7,2819.3 1993.8,2817.2 1998.9,2833.0 2006.6,2816.9 2014.3,2814.5 2021.9,2833.6 2031.2,2827.9 2037.5,2821.3 2043.4,2829.4 2051.0,2829.6 2057.7,2818.5 2066.7,2833.7 2076.0,2830.1 2085.1,2828.8 2091.2,2824.4 2098.0,2814.6 2100.0,2819.6" fill="none" stroke="#0000ff" stroke-width="6.5" stroke-linejoin="round" stroke-linecap="round" stroke-dasharray="6,7"/>
<rect x="395" y="67" width="1705.5" height="943.5" fill="none" stroke="#3a3a3a" stroke-width="4"/>
<rect x="403" y="1020.5" width="1701.5" height="940.5" fill="none" stroke="#3a3a3a" stroke-width="4"/>
<rect x="399" y="1965" width="1701.5" height="945" fill="none" stroke="#3a3a3a" stroke-width="4"/>
<line x1="397" y1="1965" x2="2102" y2="1965" stroke="#000" stroke-width="6" stroke-linecap="butt"/>
<rect x="405" y="1012.5" width="1695" height="6" fill="#b0b0b0"/>
<line x1="610.5" y1="1010.5" x2="610.5" y2="1004.5" stroke="#222" stroke-width="3" stroke-linecap="butt"/>
<line x1="1034.7" y1="1010.5" x2="1034.7" y2="998.5" stroke="#222" stroke-width="3" stroke-linecap="butt"/>
<line x1="1459.5" y1="1010.5" x2="1459.5" y2="1004.5" stroke="#222" stroke-width="3" stroke-linecap="butt"/>
<line x1="1888" y1="1010.5" x2="1888" y2="998.5" stroke="#222" stroke-width="3" stroke-linecap="butt"/>
<line x1="615.5" y1="1962" x2="615.5" y2="1942" stroke="#111" stroke-width="3.5" stroke-linecap="butt"/>
<line x1="828" y1="1962" x2="828" y2="1954" stroke="#111" stroke-width="3.5" stroke-linecap="butt"/>
<line x1="1039.5" y1="1962" x2="1039.5" y2="1942" stroke="#111" stroke-width="3.5" stroke-linecap="butt"/>
<line x1="1251" y1="1962" x2="1251" y2="1954" stroke="#111" stroke-width="3.5" stroke-linecap="butt"/>
<line x1="1462.4" y1="1962" x2="1462.4" y2="1942" stroke="#111" stroke-width="3.5" stroke-linecap="butt"/>
<line x1="1675.5" y1="1962" x2="1675.5" y2="1954" stroke="#111" stroke-width="3.5" stroke-linecap="butt"/>
<line x1="1888" y1="1962" x2="1888" y2="1942" stroke="#111" stroke-width="3.5" stroke-linecap="butt"/>
<line x1="612" y1="2910" x2="612" y2="2892" stroke="#222" stroke-width="3.5" stroke-linecap="butt"/>
<line x1="827" y1="2910" x2="827" y2="2901" stroke="#222" stroke-width="3.5" stroke-linecap="butt"/>
<line x1="1036" y1="2910" x2="1036" y2="2892" stroke="#222" stroke-width="3.5" stroke-linecap="butt"/>
<line x1="1251.5" y1="2910" x2="1251.5" y2="2901" stroke="#222" stroke-width="3.5" stroke-linecap="butt"/>
<line x1="1464.4" y1="2910" x2="1464.4" y2="2892" stroke="#222" stroke-width="3.5" stroke-linecap="butt"/>
<line x1="1676.5" y1="2910" x2="1676.5" y2="2901" stroke="#222" stroke-width="3.5" stroke-linecap="butt"/>
<line x1="1887.6" y1="2910" x2="1887.6" y2="2892" stroke="#222" stroke-width="3.5" stroke-linecap="butt"/>
<line x1="805" y1="115" x2="805" y2="158" stroke="#000" stroke-width="5.5" stroke-linecap="round"/>
<line x1="664.7" y1="624" x2="664.7" y2="665.4" stroke="#000" stroke-width="5.5" stroke-linecap="round"/>
<line x1="1758.3" y1="635.4" x2="1758.3" y2="678.2" stroke="#000" stroke-width="5.5" stroke-linecap="round"/>
<line x1="897.6" y1="1212.4" x2="897.6" y2="1254" stroke="#000" stroke-width="5.5" stroke-linecap="round"/>
<line x1="985.9" y1="1481" x2="985.9" y2="1522.4" stroke="#000" stroke-width="5.5" stroke-linecap="round"/>
<line x1="837.5" y1="1731.7" x2="837.5" y2="1773.6" stroke="#000" stroke-width="5.5" stroke-linecap="round"/>
<line x1="1369.7" y1="1706.6" x2="1369.7" y2="1750" stroke="#000" stroke-width="5.5" stroke-linecap="round"/>
<line x1="905.4" y1="2478.6" x2="905.4" y2="2522" stroke="#000" stroke-width="5.5" stroke-linecap="round"/>
<line x1="1005.7" y1="2632.5" x2="1005.7" y2="2672" stroke="#000" stroke-width="5.5" stroke-linecap="round"/>
<line x1="1317.7" y1="159" x2="1317.7" y2="246" stroke="#000" stroke-width="6" stroke-linecap="round"/>
<line x1="1682.3" y1="1451" x2="1682.3" y2="1582" stroke="#000" stroke-width="6" stroke-linecap="round"/>
<line x1="504.7" y1="2102" x2="504.7" y2="2170" stroke="#000" stroke-width="6" stroke-linecap="round"/>
<text transform="translate(812.82,140.26) scale(0.7956,0.7423)" font-family="'Liberation Sans', Arial, sans-serif" font-weight="400" font-size="100" fill="#111">2110</text>
<text transform="translate(570.45,604.85) scale(0.7704,0.7479)" font-family="'Liberation Sans', Arial, sans-serif" font-weight="400" font-size="100" fill="#111">2175</text>
<text transform="translate(1664.07,613.15) scale(0.7667,0.7479)" font-family="'Liberation Sans', Arial, sans-serif" font-weight="400" font-size="100" fill="#111">1665</text>
<text transform="translate(802.51,1192.84) scale(0.7775,0.7606)" font-family="'Liberation Sans', Arial, sans-serif" font-weight="400" font-size="100" fill="#111">2060</text>
<text transform="translate(973.91,1472.44) scale(0.7587,0.7634)" font-family="'Liberation Sans', Arial, sans-serif" font-weight="400" font-size="100" fill="#111">2025</text>
<text transform="translate(667.68,1700.54) scale(0.7632,0.7648)" font-family="'Liberation Sans', Arial, sans-serif" font-weight="400" font-size="100" fill="#111">2091</text>
<text transform="translate(1281.49,1688.65) scale(0.7757,0.7465)" font-family="'Liberation Sans', Arial, sans-serif" font-weight="400" font-size="100" fill="#111">1840</text>
<text transform="translate(813.87,2455.66) scale(0.7656,0.7380)" font-family="'Liberation Sans', Arial, sans-serif" font-weight="400" font-size="100" fill="#111">2062</text>
<text transform="translate(931.56,2623.66) scale(0.7681,0.7380)" font-family="'Liberation Sans', Arial, sans-serif" font-weight="400" font-size="100" fill="#111">2016</text>
<text transform="translate(1340.91,220.22) scale(0.6468,0.6789)" font-family="'Liberation Sans', Arial, sans-serif" font-weight="400" font-size="100" fill="#2a2a2a">0.0001</text>
<text transform="translate(520.37,2159.12) scale(0.6574,0.6803)" font-family="'Liberation Sans', Arial, sans-serif" font-weight="400" font-size="100" fill="#2a2a2a">0.000001</text>
<text transform="translate(1709.90,1547.21) scale(0.7744,0.7887)" font-family="'Liberation Sans', Arial, sans-serif" font-weight="400" font-size="100" fill="#111">0.0002</text>
<text transform="translate(1705.43,195.41) scale(0.8564,0.8887)" font-family="'Liberation Sans', Arial, sans-serif" font-weight="700" font-size="100" fill="#000">Au-CeO</text>
<text transform="translate(2022.44,217.20) scale(0.5648,0.6019)" font-family="'Liberation Sans', Arial, sans-serif" font-weight="700" font-size="100" fill="#000">x</text>
<text transform="translate(1611.06,1141.57) scale(0.8482,0.9311)" font-family="'Liberation Sans', Arial, sans-serif" font-weight="700" font-size="100" fill="#000">AuRh-CeO</text>
<text transform="translate(2039.04,1162.00) scale(0.5574,0.6340)" font-family="'Liberation Sans', Arial, sans-serif" font-weight="700" font-size="100" fill="#000">x</text>
<text transform="translate(1707.11,2092.07) scale(0.8416,0.9257)" font-family="'Liberation Sans', Arial, sans-serif" font-weight="700" font-size="100" fill="#000">Rh-CeO</text>
<text transform="translate(2018.85,2112.50) scale(0.5481,0.6132)" font-family="'Liberation Sans', Arial, sans-serif" font-weight="700" font-size="100" fill="#000">x</text>
<text transform="translate(534.76,2980.50) scale(0.6883,0.7000)" font-family="'Liberation Sans', Arial, sans-serif" font-weight="400" font-size="100" fill="#222">2200</text>
<text transform="translate(958.56,2980.50) scale(0.6883,0.7000)" font-family="'Liberation Sans', Arial, sans-serif" font-weight="400" font-size="100" fill="#222">2000</text>
<text transform="translate(1387.11,2980.11) scale(0.6738,0.6944)" font-family="'Liberation Sans', Arial, sans-serif" font-weight="400" font-size="100" fill="#222">1800</text>
<text transform="translate(1811.63,2980.11) scale(0.6714,0.6944)" font-family="'Liberation Sans', Arial, sans-serif" font-weight="400" font-size="100" fill="#222">1600</text>
<text transform="translate(762.70,3126.85) scale(1.3361,1.3268)" font-family="'Liberation Serif', 'Times New Roman', serif" font-weight="400" font-size="100" fill="#000">Wavenumber / cm</text>
<text transform="translate(1739.75,3089.50) scale(0.8137,0.9167)" font-family="'Liberation Serif', 'Times New Roman', serif" font-weight="400" font-size="100" fill="#000">-1</text>
<text transform="translate(172.18,1874.31) rotate(-90) scale(1.3354,1.3171)" font-family="'Liberation Serif', 'Times New Roman', serif" font-weight="400" font-size="100" fill="#000">Kubelka-Munk</text>
</g>
</svg></body></html>
